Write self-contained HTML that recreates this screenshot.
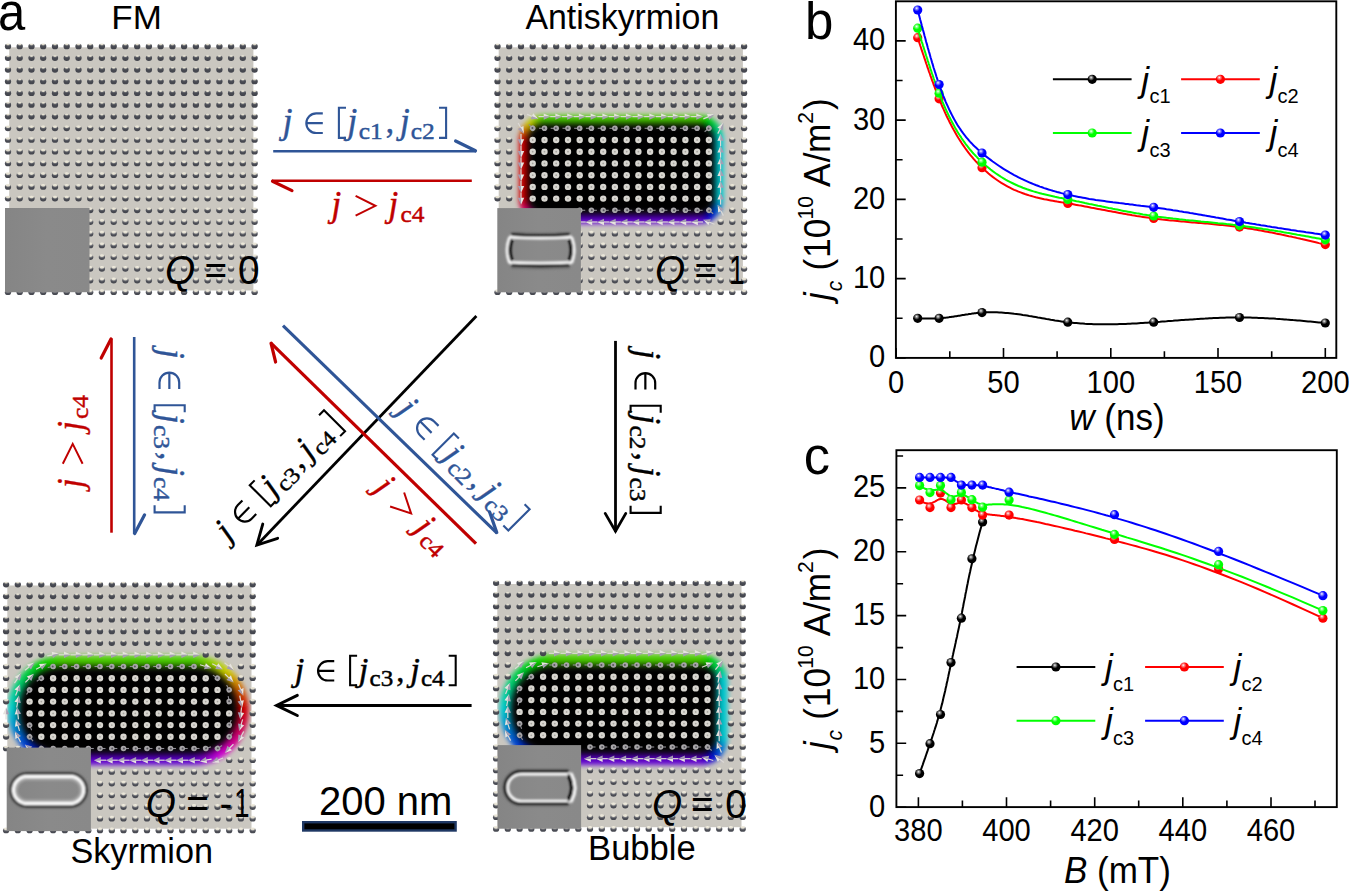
<!DOCTYPE html>
<html><head><meta charset="utf-8"><title>figure</title>
<style>html,body{margin:0;padding:0;background:#fff;overflow:hidden}svg{display:block}</style></head><body>
<svg width="1349" height="891" viewBox="0 0 1349 891">
<defs>
<radialGradient id="gk" cx="0.4" cy="0.35" r="0.6" fx="0.38" fy="0.3"><stop offset="0" stop-color="#f4f4f4"/><stop offset="0.22" stop-color="#8a8a8a"/><stop offset="0.55" stop-color="#000"/><stop offset="1" stop-color="#000"/></radialGradient>
<radialGradient id="gr" cx="0.4" cy="0.35" r="0.6" fx="0.38" fy="0.3"><stop offset="0" stop-color="#fff"/><stop offset="0.22" stop-color="#ff8a8a"/><stop offset="0.55" stop-color="#f00"/><stop offset="1" stop-color="#f00"/></radialGradient>
<radialGradient id="gg" cx="0.4" cy="0.35" r="0.6" fx="0.38" fy="0.3"><stop offset="0" stop-color="#fff"/><stop offset="0.22" stop-color="#8aff8a"/><stop offset="0.55" stop-color="#0f0"/><stop offset="1" stop-color="#0f0"/></radialGradient>
<radialGradient id="gb" cx="0.4" cy="0.35" r="0.6" fx="0.38" fy="0.3"><stop offset="0" stop-color="#fff"/><stop offset="0.22" stop-color="#8a8aff"/><stop offset="0.55" stop-color="#00f"/><stop offset="1" stop-color="#00f"/></radialGradient>

<filter id="blur3" x="-20%" y="-20%" width="140%" height="140%"><feGaussianBlur stdDeviation="2.4"/></filter>
<filter id="blur25" x="-20%" y="-20%" width="140%" height="140%"><feGaussianBlur stdDeviation="3.6"/></filter>
<filter id="blur1" x="-20%" y="-20%" width="140%" height="140%"><feGaussianBlur stdDeviation="0.8"/></filter>
<radialGradient id="lga" cx="0.5" cy="-0.05" r="1.05" fx="0.5" fy="-0.05"><stop offset="0" stop-color="#f0ecde"/><stop offset="0.24" stop-color="#e2decf"/><stop offset="0.42" stop-color="#5e6067"/><stop offset="0.58" stop-color="#484a52"/><stop offset="1" stop-color="#42444c"/></radialGradient>
<radialGradient id="lgb" cx="0.5" cy="0.0" r="1.0" fx="0.5" fy="0.0"><stop offset="0" stop-color="#f0ecde"/><stop offset="0.36" stop-color="#e2decf"/><stop offset="0.54" stop-color="#606269"/><stop offset="0.7" stop-color="#484a52"/><stop offset="1" stop-color="#43454d"/></radialGradient>
<radialGradient id="lgc" cx="0.5" cy="0.05" r="0.98" fx="0.5" fy="0.05"><stop offset="0" stop-color="#f2eee1"/><stop offset="0.34" stop-color="#e4e0d2"/><stop offset="0.52" stop-color="#74757b"/><stop offset="0.68" stop-color="#4c4e56"/><stop offset="1" stop-color="#45474f"/></radialGradient>
<ellipse id="da" rx="3.15" ry="2.85" fill="url(#lga)"/>
<ellipse id="db" rx="3.15" ry="2.85" fill="url(#lgb)"/>
<ellipse id="dc" rx="3.15" ry="2.9" fill="url(#lgc)"/>
<g id="di"><circle r="3.2" fill="#d8d6d0"/><circle r="0.9" fill="#a5a39e"/></g>
<g id="ar"><path d="M-6,0H0" stroke="#dcd9d6" stroke-width="1.2"/><path d="M-0.8,-3.2L6.2,0L-0.8,0Z" fill="#e6e3df"/><path d="M-0.8,3.2L6.2,0L-0.8,0Z" fill="#a59eb3"/></g>
<g id="ad"><path d="M-5.5,0H0" stroke="#8f8d94" stroke-width="1.1"/><circle r="2.8" fill="#a7a5a8"/><circle cx="-0.4" r="1" fill="#55545a"/></g>

<filter id="blur05" x="-10%" y="-10%" width="120%" height="120%"><feGaussianBlur stdDeviation="0.85"/></filter>
<linearGradient id="insg" x1="0" y1="0" x2="1" y2="0"><stop offset="0" stop-color="#858585"/><stop offset="0.5" stop-color="#8a8a8a"/><stop offset="1" stop-color="#898989"/></linearGradient>
</defs>
<rect width="1349" height="891" fill="#fff"/>
<rect x="9.2" y="47.3" width="244.2" height="243.2" fill="#cac7c0"/>
<use href="#da" x="8.0" y="46.4"/>
<use href="#da" x="19.7" y="46.4"/>
<use href="#da" x="31.5" y="46.4"/>
<use href="#da" x="43.2" y="46.4"/>
<use href="#da" x="55.0" y="46.4"/>
<use href="#da" x="66.7" y="46.4"/>
<use href="#da" x="78.5" y="46.4"/>
<use href="#da" x="90.2" y="46.4"/>
<use href="#da" x="101.9" y="46.4"/>
<use href="#da" x="113.7" y="46.4"/>
<use href="#da" x="125.4" y="46.4"/>
<use href="#da" x="137.2" y="46.4"/>
<use href="#da" x="148.9" y="46.4"/>
<use href="#da" x="160.6" y="46.4"/>
<use href="#da" x="172.4" y="46.4"/>
<use href="#da" x="184.1" y="46.4"/>
<use href="#da" x="195.9" y="46.4"/>
<use href="#da" x="207.6" y="46.4"/>
<use href="#da" x="219.4" y="46.4"/>
<use href="#da" x="231.1" y="46.4"/>
<use href="#da" x="242.8" y="46.4"/>
<use href="#da" x="254.6" y="46.4"/>
<use href="#da" x="8.0" y="58.1"/>
<use href="#da" x="19.7" y="58.1"/>
<use href="#da" x="31.5" y="58.1"/>
<use href="#da" x="43.2" y="58.1"/>
<use href="#da" x="55.0" y="58.1"/>
<use href="#da" x="66.7" y="58.1"/>
<use href="#da" x="78.5" y="58.1"/>
<use href="#da" x="90.2" y="58.1"/>
<use href="#da" x="101.9" y="58.1"/>
<use href="#da" x="113.7" y="58.1"/>
<use href="#da" x="125.4" y="58.1"/>
<use href="#da" x="137.2" y="58.1"/>
<use href="#da" x="148.9" y="58.1"/>
<use href="#da" x="160.6" y="58.1"/>
<use href="#da" x="172.4" y="58.1"/>
<use href="#da" x="184.1" y="58.1"/>
<use href="#da" x="195.9" y="58.1"/>
<use href="#da" x="207.6" y="58.1"/>
<use href="#da" x="219.4" y="58.1"/>
<use href="#da" x="231.1" y="58.1"/>
<use href="#da" x="242.8" y="58.1"/>
<use href="#da" x="254.6" y="58.1"/>
<use href="#da" x="8.0" y="69.8"/>
<use href="#da" x="19.7" y="69.8"/>
<use href="#da" x="31.5" y="69.8"/>
<use href="#da" x="43.2" y="69.8"/>
<use href="#da" x="55.0" y="69.8"/>
<use href="#da" x="66.7" y="69.8"/>
<use href="#da" x="78.5" y="69.8"/>
<use href="#da" x="90.2" y="69.8"/>
<use href="#da" x="101.9" y="69.8"/>
<use href="#da" x="113.7" y="69.8"/>
<use href="#da" x="125.4" y="69.8"/>
<use href="#da" x="137.2" y="69.8"/>
<use href="#da" x="148.9" y="69.8"/>
<use href="#da" x="160.6" y="69.8"/>
<use href="#da" x="172.4" y="69.8"/>
<use href="#da" x="184.1" y="69.8"/>
<use href="#da" x="195.9" y="69.8"/>
<use href="#da" x="207.6" y="69.8"/>
<use href="#da" x="219.4" y="69.8"/>
<use href="#da" x="231.1" y="69.8"/>
<use href="#da" x="242.8" y="69.8"/>
<use href="#da" x="254.6" y="69.8"/>
<use href="#da" x="8.0" y="81.5"/>
<use href="#da" x="19.7" y="81.5"/>
<use href="#da" x="31.5" y="81.5"/>
<use href="#da" x="43.2" y="81.5"/>
<use href="#da" x="55.0" y="81.5"/>
<use href="#da" x="66.7" y="81.5"/>
<use href="#da" x="78.5" y="81.5"/>
<use href="#da" x="90.2" y="81.5"/>
<use href="#da" x="101.9" y="81.5"/>
<use href="#da" x="113.7" y="81.5"/>
<use href="#da" x="125.4" y="81.5"/>
<use href="#da" x="137.2" y="81.5"/>
<use href="#da" x="148.9" y="81.5"/>
<use href="#da" x="160.6" y="81.5"/>
<use href="#da" x="172.4" y="81.5"/>
<use href="#da" x="184.1" y="81.5"/>
<use href="#da" x="195.9" y="81.5"/>
<use href="#da" x="207.6" y="81.5"/>
<use href="#da" x="219.4" y="81.5"/>
<use href="#da" x="231.1" y="81.5"/>
<use href="#da" x="242.8" y="81.5"/>
<use href="#da" x="254.6" y="81.5"/>
<use href="#da" x="8.0" y="93.2"/>
<use href="#da" x="19.7" y="93.2"/>
<use href="#da" x="31.5" y="93.2"/>
<use href="#da" x="43.2" y="93.2"/>
<use href="#da" x="55.0" y="93.2"/>
<use href="#da" x="66.7" y="93.2"/>
<use href="#da" x="78.5" y="93.2"/>
<use href="#da" x="90.2" y="93.2"/>
<use href="#da" x="101.9" y="93.2"/>
<use href="#da" x="113.7" y="93.2"/>
<use href="#da" x="125.4" y="93.2"/>
<use href="#da" x="137.2" y="93.2"/>
<use href="#da" x="148.9" y="93.2"/>
<use href="#da" x="160.6" y="93.2"/>
<use href="#da" x="172.4" y="93.2"/>
<use href="#da" x="184.1" y="93.2"/>
<use href="#da" x="195.9" y="93.2"/>
<use href="#da" x="207.6" y="93.2"/>
<use href="#da" x="219.4" y="93.2"/>
<use href="#da" x="231.1" y="93.2"/>
<use href="#da" x="242.8" y="93.2"/>
<use href="#da" x="254.6" y="93.2"/>
<use href="#da" x="8.0" y="104.9"/>
<use href="#da" x="19.7" y="104.9"/>
<use href="#da" x="31.5" y="104.9"/>
<use href="#da" x="43.2" y="104.9"/>
<use href="#da" x="55.0" y="104.9"/>
<use href="#da" x="66.7" y="104.9"/>
<use href="#da" x="78.5" y="104.9"/>
<use href="#da" x="90.2" y="104.9"/>
<use href="#da" x="101.9" y="104.9"/>
<use href="#da" x="113.7" y="104.9"/>
<use href="#da" x="125.4" y="104.9"/>
<use href="#da" x="137.2" y="104.9"/>
<use href="#da" x="148.9" y="104.9"/>
<use href="#da" x="160.6" y="104.9"/>
<use href="#da" x="172.4" y="104.9"/>
<use href="#da" x="184.1" y="104.9"/>
<use href="#da" x="195.9" y="104.9"/>
<use href="#da" x="207.6" y="104.9"/>
<use href="#da" x="219.4" y="104.9"/>
<use href="#da" x="231.1" y="104.9"/>
<use href="#da" x="242.8" y="104.9"/>
<use href="#da" x="254.6" y="104.9"/>
<use href="#da" x="8.0" y="116.6"/>
<use href="#da" x="19.7" y="116.6"/>
<use href="#da" x="31.5" y="116.6"/>
<use href="#da" x="43.2" y="116.6"/>
<use href="#da" x="55.0" y="116.6"/>
<use href="#da" x="66.7" y="116.6"/>
<use href="#da" x="78.5" y="116.6"/>
<use href="#da" x="90.2" y="116.6"/>
<use href="#da" x="101.9" y="116.6"/>
<use href="#da" x="113.7" y="116.6"/>
<use href="#da" x="125.4" y="116.6"/>
<use href="#da" x="137.2" y="116.6"/>
<use href="#da" x="148.9" y="116.6"/>
<use href="#da" x="160.6" y="116.6"/>
<use href="#da" x="172.4" y="116.6"/>
<use href="#da" x="184.1" y="116.6"/>
<use href="#da" x="195.9" y="116.6"/>
<use href="#da" x="207.6" y="116.6"/>
<use href="#da" x="219.4" y="116.6"/>
<use href="#da" x="231.1" y="116.6"/>
<use href="#da" x="242.8" y="116.6"/>
<use href="#da" x="254.6" y="116.6"/>
<use href="#db" x="8.0" y="128.3"/>
<use href="#db" x="19.7" y="128.3"/>
<use href="#db" x="31.5" y="128.3"/>
<use href="#db" x="43.2" y="128.3"/>
<use href="#db" x="55.0" y="128.3"/>
<use href="#db" x="66.7" y="128.3"/>
<use href="#db" x="78.5" y="128.3"/>
<use href="#db" x="90.2" y="128.3"/>
<use href="#db" x="101.9" y="128.3"/>
<use href="#db" x="113.7" y="128.3"/>
<use href="#db" x="125.4" y="128.3"/>
<use href="#db" x="137.2" y="128.3"/>
<use href="#db" x="148.9" y="128.3"/>
<use href="#db" x="160.6" y="128.3"/>
<use href="#db" x="172.4" y="128.3"/>
<use href="#db" x="184.1" y="128.3"/>
<use href="#db" x="195.9" y="128.3"/>
<use href="#db" x="207.6" y="128.3"/>
<use href="#db" x="219.4" y="128.3"/>
<use href="#db" x="231.1" y="128.3"/>
<use href="#db" x="242.8" y="128.3"/>
<use href="#db" x="254.6" y="128.3"/>
<use href="#db" x="8.0" y="140.0"/>
<use href="#db" x="19.7" y="140.0"/>
<use href="#db" x="31.5" y="140.0"/>
<use href="#db" x="43.2" y="140.0"/>
<use href="#db" x="55.0" y="140.0"/>
<use href="#db" x="66.7" y="140.0"/>
<use href="#db" x="78.5" y="140.0"/>
<use href="#db" x="90.2" y="140.0"/>
<use href="#db" x="101.9" y="140.0"/>
<use href="#db" x="113.7" y="140.0"/>
<use href="#db" x="125.4" y="140.0"/>
<use href="#db" x="137.2" y="140.0"/>
<use href="#db" x="148.9" y="140.0"/>
<use href="#db" x="160.6" y="140.0"/>
<use href="#db" x="172.4" y="140.0"/>
<use href="#db" x="184.1" y="140.0"/>
<use href="#db" x="195.9" y="140.0"/>
<use href="#db" x="207.6" y="140.0"/>
<use href="#db" x="219.4" y="140.0"/>
<use href="#db" x="231.1" y="140.0"/>
<use href="#db" x="242.8" y="140.0"/>
<use href="#db" x="254.6" y="140.0"/>
<use href="#db" x="8.0" y="151.7"/>
<use href="#db" x="19.7" y="151.7"/>
<use href="#db" x="31.5" y="151.7"/>
<use href="#db" x="43.2" y="151.7"/>
<use href="#db" x="55.0" y="151.7"/>
<use href="#db" x="66.7" y="151.7"/>
<use href="#db" x="78.5" y="151.7"/>
<use href="#db" x="90.2" y="151.7"/>
<use href="#db" x="101.9" y="151.7"/>
<use href="#db" x="113.7" y="151.7"/>
<use href="#db" x="125.4" y="151.7"/>
<use href="#db" x="137.2" y="151.7"/>
<use href="#db" x="148.9" y="151.7"/>
<use href="#db" x="160.6" y="151.7"/>
<use href="#db" x="172.4" y="151.7"/>
<use href="#db" x="184.1" y="151.7"/>
<use href="#db" x="195.9" y="151.7"/>
<use href="#db" x="207.6" y="151.7"/>
<use href="#db" x="219.4" y="151.7"/>
<use href="#db" x="231.1" y="151.7"/>
<use href="#db" x="242.8" y="151.7"/>
<use href="#db" x="254.6" y="151.7"/>
<use href="#db" x="8.0" y="163.4"/>
<use href="#db" x="19.7" y="163.4"/>
<use href="#db" x="31.5" y="163.4"/>
<use href="#db" x="43.2" y="163.4"/>
<use href="#db" x="55.0" y="163.4"/>
<use href="#db" x="66.7" y="163.4"/>
<use href="#db" x="78.5" y="163.4"/>
<use href="#db" x="90.2" y="163.4"/>
<use href="#db" x="101.9" y="163.4"/>
<use href="#db" x="113.7" y="163.4"/>
<use href="#db" x="125.4" y="163.4"/>
<use href="#db" x="137.2" y="163.4"/>
<use href="#db" x="148.9" y="163.4"/>
<use href="#db" x="160.6" y="163.4"/>
<use href="#db" x="172.4" y="163.4"/>
<use href="#db" x="184.1" y="163.4"/>
<use href="#db" x="195.9" y="163.4"/>
<use href="#db" x="207.6" y="163.4"/>
<use href="#db" x="219.4" y="163.4"/>
<use href="#db" x="231.1" y="163.4"/>
<use href="#db" x="242.8" y="163.4"/>
<use href="#db" x="254.6" y="163.4"/>
<use href="#db" x="8.0" y="175.2"/>
<use href="#db" x="19.7" y="175.2"/>
<use href="#db" x="31.5" y="175.2"/>
<use href="#db" x="43.2" y="175.2"/>
<use href="#db" x="55.0" y="175.2"/>
<use href="#db" x="66.7" y="175.2"/>
<use href="#db" x="78.5" y="175.2"/>
<use href="#db" x="90.2" y="175.2"/>
<use href="#db" x="101.9" y="175.2"/>
<use href="#db" x="113.7" y="175.2"/>
<use href="#db" x="125.4" y="175.2"/>
<use href="#db" x="137.2" y="175.2"/>
<use href="#db" x="148.9" y="175.2"/>
<use href="#db" x="160.6" y="175.2"/>
<use href="#db" x="172.4" y="175.2"/>
<use href="#db" x="184.1" y="175.2"/>
<use href="#db" x="195.9" y="175.2"/>
<use href="#db" x="207.6" y="175.2"/>
<use href="#db" x="219.4" y="175.2"/>
<use href="#db" x="231.1" y="175.2"/>
<use href="#db" x="242.8" y="175.2"/>
<use href="#db" x="254.6" y="175.2"/>
<use href="#db" x="8.0" y="186.9"/>
<use href="#db" x="19.7" y="186.9"/>
<use href="#db" x="31.5" y="186.9"/>
<use href="#db" x="43.2" y="186.9"/>
<use href="#db" x="55.0" y="186.9"/>
<use href="#db" x="66.7" y="186.9"/>
<use href="#db" x="78.5" y="186.9"/>
<use href="#db" x="90.2" y="186.9"/>
<use href="#db" x="101.9" y="186.9"/>
<use href="#db" x="113.7" y="186.9"/>
<use href="#db" x="125.4" y="186.9"/>
<use href="#db" x="137.2" y="186.9"/>
<use href="#db" x="148.9" y="186.9"/>
<use href="#db" x="160.6" y="186.9"/>
<use href="#db" x="172.4" y="186.9"/>
<use href="#db" x="184.1" y="186.9"/>
<use href="#db" x="195.9" y="186.9"/>
<use href="#db" x="207.6" y="186.9"/>
<use href="#db" x="219.4" y="186.9"/>
<use href="#db" x="231.1" y="186.9"/>
<use href="#db" x="242.8" y="186.9"/>
<use href="#db" x="254.6" y="186.9"/>
<use href="#db" x="8.0" y="198.6"/>
<use href="#db" x="19.7" y="198.6"/>
<use href="#db" x="31.5" y="198.6"/>
<use href="#db" x="43.2" y="198.6"/>
<use href="#db" x="55.0" y="198.6"/>
<use href="#db" x="66.7" y="198.6"/>
<use href="#db" x="78.5" y="198.6"/>
<use href="#db" x="90.2" y="198.6"/>
<use href="#db" x="101.9" y="198.6"/>
<use href="#db" x="113.7" y="198.6"/>
<use href="#db" x="125.4" y="198.6"/>
<use href="#db" x="137.2" y="198.6"/>
<use href="#db" x="148.9" y="198.6"/>
<use href="#db" x="160.6" y="198.6"/>
<use href="#db" x="172.4" y="198.6"/>
<use href="#db" x="184.1" y="198.6"/>
<use href="#db" x="195.9" y="198.6"/>
<use href="#db" x="207.6" y="198.6"/>
<use href="#db" x="219.4" y="198.6"/>
<use href="#db" x="231.1" y="198.6"/>
<use href="#db" x="242.8" y="198.6"/>
<use href="#db" x="254.6" y="198.6"/>
<use href="#db" x="90.2" y="210.3"/>
<use href="#db" x="101.9" y="210.3"/>
<use href="#db" x="113.7" y="210.3"/>
<use href="#db" x="125.4" y="210.3"/>
<use href="#db" x="137.2" y="210.3"/>
<use href="#db" x="148.9" y="210.3"/>
<use href="#db" x="160.6" y="210.3"/>
<use href="#db" x="172.4" y="210.3"/>
<use href="#db" x="184.1" y="210.3"/>
<use href="#db" x="195.9" y="210.3"/>
<use href="#db" x="207.6" y="210.3"/>
<use href="#db" x="219.4" y="210.3"/>
<use href="#db" x="231.1" y="210.3"/>
<use href="#db" x="242.8" y="210.3"/>
<use href="#db" x="254.6" y="210.3"/>
<use href="#dc" x="90.2" y="222.0"/>
<use href="#dc" x="101.9" y="222.0"/>
<use href="#dc" x="113.7" y="222.0"/>
<use href="#dc" x="125.4" y="222.0"/>
<use href="#dc" x="137.2" y="222.0"/>
<use href="#dc" x="148.9" y="222.0"/>
<use href="#dc" x="160.6" y="222.0"/>
<use href="#dc" x="172.4" y="222.0"/>
<use href="#dc" x="184.1" y="222.0"/>
<use href="#dc" x="195.9" y="222.0"/>
<use href="#dc" x="207.6" y="222.0"/>
<use href="#dc" x="219.4" y="222.0"/>
<use href="#dc" x="231.1" y="222.0"/>
<use href="#dc" x="242.8" y="222.0"/>
<use href="#dc" x="254.6" y="222.0"/>
<use href="#dc" x="90.2" y="233.7"/>
<use href="#dc" x="101.9" y="233.7"/>
<use href="#dc" x="113.7" y="233.7"/>
<use href="#dc" x="125.4" y="233.7"/>
<use href="#dc" x="137.2" y="233.7"/>
<use href="#dc" x="148.9" y="233.7"/>
<use href="#dc" x="160.6" y="233.7"/>
<use href="#dc" x="172.4" y="233.7"/>
<use href="#dc" x="184.1" y="233.7"/>
<use href="#dc" x="195.9" y="233.7"/>
<use href="#dc" x="207.6" y="233.7"/>
<use href="#dc" x="219.4" y="233.7"/>
<use href="#dc" x="231.1" y="233.7"/>
<use href="#dc" x="242.8" y="233.7"/>
<use href="#dc" x="254.6" y="233.7"/>
<use href="#dc" x="90.2" y="245.4"/>
<use href="#dc" x="101.9" y="245.4"/>
<use href="#dc" x="113.7" y="245.4"/>
<use href="#dc" x="125.4" y="245.4"/>
<use href="#dc" x="137.2" y="245.4"/>
<use href="#dc" x="148.9" y="245.4"/>
<use href="#dc" x="160.6" y="245.4"/>
<use href="#dc" x="172.4" y="245.4"/>
<use href="#dc" x="184.1" y="245.4"/>
<use href="#dc" x="195.9" y="245.4"/>
<use href="#dc" x="207.6" y="245.4"/>
<use href="#dc" x="219.4" y="245.4"/>
<use href="#dc" x="231.1" y="245.4"/>
<use href="#dc" x="242.8" y="245.4"/>
<use href="#dc" x="254.6" y="245.4"/>
<use href="#dc" x="90.2" y="257.1"/>
<use href="#dc" x="101.9" y="257.1"/>
<use href="#dc" x="113.7" y="257.1"/>
<use href="#dc" x="125.4" y="257.1"/>
<use href="#dc" x="137.2" y="257.1"/>
<use href="#dc" x="148.9" y="257.1"/>
<use href="#dc" x="160.6" y="257.1"/>
<use href="#dc" x="172.4" y="257.1"/>
<use href="#dc" x="184.1" y="257.1"/>
<use href="#dc" x="195.9" y="257.1"/>
<use href="#dc" x="207.6" y="257.1"/>
<use href="#dc" x="219.4" y="257.1"/>
<use href="#dc" x="231.1" y="257.1"/>
<use href="#dc" x="242.8" y="257.1"/>
<use href="#dc" x="254.6" y="257.1"/>
<use href="#dc" x="90.2" y="268.8"/>
<use href="#dc" x="101.9" y="268.8"/>
<use href="#dc" x="113.7" y="268.8"/>
<use href="#dc" x="125.4" y="268.8"/>
<use href="#dc" x="137.2" y="268.8"/>
<use href="#dc" x="148.9" y="268.8"/>
<use href="#dc" x="160.6" y="268.8"/>
<use href="#dc" x="172.4" y="268.8"/>
<use href="#dc" x="184.1" y="268.8"/>
<use href="#dc" x="195.9" y="268.8"/>
<use href="#dc" x="207.6" y="268.8"/>
<use href="#dc" x="219.4" y="268.8"/>
<use href="#dc" x="231.1" y="268.8"/>
<use href="#dc" x="242.8" y="268.8"/>
<use href="#dc" x="254.6" y="268.8"/>
<use href="#dc" x="90.2" y="280.5"/>
<use href="#dc" x="101.9" y="280.5"/>
<use href="#dc" x="113.7" y="280.5"/>
<use href="#dc" x="125.4" y="280.5"/>
<use href="#dc" x="137.2" y="280.5"/>
<use href="#dc" x="148.9" y="280.5"/>
<use href="#dc" x="160.6" y="280.5"/>
<use href="#dc" x="172.4" y="280.5"/>
<use href="#dc" x="184.1" y="280.5"/>
<use href="#dc" x="195.9" y="280.5"/>
<use href="#dc" x="207.6" y="280.5"/>
<use href="#dc" x="219.4" y="280.5"/>
<use href="#dc" x="231.1" y="280.5"/>
<use href="#dc" x="242.8" y="280.5"/>
<use href="#dc" x="254.6" y="280.5"/>
<use href="#dc" x="8.0" y="292.2"/>
<use href="#dc" x="19.7" y="292.2"/>
<use href="#dc" x="31.5" y="292.2"/>
<use href="#dc" x="43.2" y="292.2"/>
<use href="#dc" x="55.0" y="292.2"/>
<use href="#dc" x="66.7" y="292.2"/>
<use href="#dc" x="78.5" y="292.2"/>
<use href="#dc" x="90.2" y="292.2"/>
<use href="#dc" x="101.9" y="292.2"/>
<use href="#dc" x="113.7" y="292.2"/>
<use href="#dc" x="125.4" y="292.2"/>
<use href="#dc" x="137.2" y="292.2"/>
<use href="#dc" x="148.9" y="292.2"/>
<use href="#dc" x="160.6" y="292.2"/>
<use href="#dc" x="172.4" y="292.2"/>
<use href="#dc" x="184.1" y="292.2"/>
<use href="#dc" x="195.9" y="292.2"/>
<use href="#dc" x="207.6" y="292.2"/>
<use href="#dc" x="219.4" y="292.2"/>
<use href="#dc" x="231.1" y="292.2"/>
<use href="#dc" x="242.8" y="292.2"/>
<use href="#dc" x="254.6" y="292.2"/>
<rect x="498.7" y="47.3" width="244.2" height="243.2" fill="#cac7c0"/>
<clipPath id="cpan"><rect x="498.7" y="47.3" width="244.2" height="243.2"/></clipPath>
<g clip-path="url(#cpan)">
<g filter="url(#blur3)" stroke-width="13.5" stroke-linecap="butt" fill="none" opacity="1">
<path d="M525.7,140.1L525.9,137.2" stroke="#d10500"/>
<path d="M525.7,138.4L526.2,135.4" stroke="#d11e00"/>
<path d="M525.9,136.6L526.7,133.8" stroke="#d13700"/>
<path d="M526.3,134.9L527.3,132.1" stroke="#d14f00"/>
<path d="M526.8,133.2L528.1,130.6" stroke="#d16800"/>
<path d="M527.5,131.6L529.0,129.1" stroke="#d18100"/>
<path d="M528.4,130.1L530.1,127.8" stroke="#d19a00"/>
<path d="M529.4,128.7L531.4,126.5" stroke="#d1b300"/>
<path d="M530.5,127.4L532.7,125.4" stroke="#d1c900"/>
<path d="M531.8,126.1L534.1,124.4" stroke="#c6d100"/>
<path d="M533.1,125.0L535.6,123.5" stroke="#b3d100"/>
<path d="M534.6,124.1L537.2,122.8" stroke="#a0d100"/>
<path d="M536.1,123.3L538.9,122.3" stroke="#8ed100"/>
<path d="M537.8,122.7L540.6,121.9" stroke="#7bd100"/>
<path d="M539.4,122.2L542.4,121.7" stroke="#68d100"/>
<path d="M541.2,121.9L544.1,121.7" stroke="#56d100"/>
<path d="M542.9,121.8L547.1,121.8" stroke="#4cd100"/>
<path d="M545.9,121.8L550.2,121.8" stroke="#4cd100"/>
<path d="M549.0,121.8L553.2,121.8" stroke="#4cd100"/>
<path d="M552.0,121.8L556.3,121.8" stroke="#4cd100"/>
<path d="M555.1,121.8L559.3,121.8" stroke="#4cd100"/>
<path d="M558.1,121.8L562.4,121.8" stroke="#4cd100"/>
<path d="M561.2,121.8L565.4,121.8" stroke="#4cd100"/>
<path d="M564.2,121.8L568.5,121.8" stroke="#4cd100"/>
<path d="M567.3,121.8L571.5,121.8" stroke="#4cd100"/>
<path d="M570.3,121.8L574.6,121.8" stroke="#4cd100"/>
<path d="M573.4,121.8L577.6,121.8" stroke="#4cd100"/>
<path d="M576.4,121.8L580.7,121.8" stroke="#4cd100"/>
<path d="M579.5,121.8L583.7,121.8" stroke="#4cd100"/>
<path d="M582.5,121.8L586.8,121.8" stroke="#4cd100"/>
<path d="M585.6,121.8L589.8,121.8" stroke="#4cd100"/>
<path d="M588.6,121.8L592.9,121.8" stroke="#4cd100"/>
<path d="M591.7,121.8L595.9,121.8" stroke="#4cd100"/>
<path d="M594.7,121.8L599.0,121.8" stroke="#4cd100"/>
<path d="M597.8,121.8L602.0,121.8" stroke="#4cd100"/>
<path d="M600.8,121.8L605.1,121.8" stroke="#4cd100"/>
<path d="M603.9,121.8L608.1,121.8" stroke="#4cd100"/>
<path d="M606.9,121.8L611.2,121.8" stroke="#4cd100"/>
<path d="M610.0,121.8L614.2,121.8" stroke="#4cd100"/>
<path d="M613.0,121.8L617.3,121.8" stroke="#4cd100"/>
<path d="M616.1,121.8L620.3,121.8" stroke="#4cd100"/>
<path d="M619.1,121.8L623.4,121.8" stroke="#4cd100"/>
<path d="M622.2,121.8L626.4,121.8" stroke="#4cd100"/>
<path d="M625.2,121.8L629.5,121.8" stroke="#4cd100"/>
<path d="M628.3,121.8L632.5,121.8" stroke="#4cd100"/>
<path d="M631.3,121.8L635.6,121.8" stroke="#4cd100"/>
<path d="M634.4,121.8L638.6,121.8" stroke="#4cd100"/>
<path d="M637.4,121.8L641.7,121.8" stroke="#4cd100"/>
<path d="M640.5,121.8L644.7,121.8" stroke="#4cd100"/>
<path d="M643.5,121.8L647.8,121.8" stroke="#4cd100"/>
<path d="M646.6,121.8L650.8,121.8" stroke="#4cd100"/>
<path d="M649.6,121.8L653.9,121.8" stroke="#4cd100"/>
<path d="M652.7,121.8L656.9,121.8" stroke="#4cd100"/>
<path d="M655.7,121.8L660.0,121.8" stroke="#4cd100"/>
<path d="M658.8,121.8L663.0,121.8" stroke="#4cd100"/>
<path d="M661.8,121.8L666.1,121.8" stroke="#4cd100"/>
<path d="M664.9,121.8L669.1,121.8" stroke="#4cd100"/>
<path d="M667.9,121.8L672.2,121.8" stroke="#4cd100"/>
<path d="M671.0,121.8L675.2,121.8" stroke="#4cd100"/>
<path d="M674.0,121.8L678.3,121.8" stroke="#4cd100"/>
<path d="M677.1,121.8L681.3,121.8" stroke="#4cd100"/>
<path d="M680.1,121.8L684.4,121.8" stroke="#4cd100"/>
<path d="M683.2,121.8L687.4,121.8" stroke="#4cd100"/>
<path d="M686.2,121.8L690.5,121.8" stroke="#4cd100"/>
<path d="M689.3,121.8L693.5,121.8" stroke="#4cd100"/>
<path d="M692.3,121.8L696.6,121.8" stroke="#4cd100"/>
<path d="M695.4,121.8L699.6,121.8" stroke="#4cd100"/>
<path d="M698.4,121.7L701.3,121.9" stroke="#43d100"/>
<path d="M700.1,121.7L703.1,122.2" stroke="#31d100"/>
<path d="M701.9,121.9L704.7,122.7" stroke="#1ed100"/>
<path d="M703.6,122.3L706.4,123.3" stroke="#0cd100"/>
<path d="M705.3,122.8L707.9,124.1" stroke="#00d105"/>
<path d="M706.9,123.5L709.4,125.0" stroke="#00d117"/>
<path d="M708.4,124.4L710.7,126.1" stroke="#00d12a"/>
<path d="M709.8,125.4L712.0,127.4" stroke="#00d13c"/>
<path d="M711.1,126.5L713.1,128.7" stroke="#00d14e"/>
<path d="M712.4,127.8L714.1,130.1" stroke="#00d161"/>
<path d="M713.5,129.1L715.0,131.6" stroke="#00d173"/>
<path d="M714.4,130.6L715.7,133.2" stroke="#00d185"/>
<path d="M715.2,132.1L716.2,134.9" stroke="#00d198"/>
<path d="M715.8,133.8L716.6,136.6" stroke="#00d1aa"/>
<path d="M716.3,135.4L716.8,138.4" stroke="#00d1bc"/>
<path d="M716.6,137.2L716.8,140.1" stroke="#00d1ce"/>
<path d="M716.8,138.9L716.8,143.2" stroke="#00cad1"/>
<path d="M716.8,142.0L716.8,146.4" stroke="#00cad1"/>
<path d="M716.8,145.2L716.8,149.5" stroke="#00cad1"/>
<path d="M716.8,148.3L716.8,152.6" stroke="#00cad1"/>
<path d="M716.8,151.4L716.8,155.8" stroke="#00cad1"/>
<path d="M716.8,154.6L716.8,158.9" stroke="#00cad1"/>
<path d="M716.8,157.7L716.8,162.0" stroke="#00cad1"/>
<path d="M716.8,160.8L716.8,165.2" stroke="#00cad1"/>
<path d="M716.8,164.0L716.8,168.3" stroke="#00cad1"/>
<path d="M716.8,167.1L716.8,171.4" stroke="#00cad1"/>
<path d="M716.8,170.2L716.8,174.5" stroke="#00cad1"/>
<path d="M716.8,173.3L716.8,177.7" stroke="#00cad1"/>
<path d="M716.8,176.5L716.8,180.8" stroke="#00cad1"/>
<path d="M716.8,179.6L716.8,183.9" stroke="#00cad1"/>
<path d="M716.8,182.7L716.8,187.1" stroke="#00cad1"/>
<path d="M716.8,185.9L716.8,190.2" stroke="#00cad1"/>
<path d="M716.8,189.0L716.8,193.3" stroke="#00cad1"/>
<path d="M716.8,192.1L716.8,196.5" stroke="#00cad1"/>
<path d="M716.8,195.3L716.8,199.6" stroke="#00cad1"/>
<path d="M716.8,198.4L716.6,201.3" stroke="#00c0d1"/>
<path d="M716.8,200.1L716.3,203.1" stroke="#00aed1"/>
<path d="M716.6,201.9L715.8,204.7" stroke="#009bd1"/>
<path d="M716.2,203.6L715.2,206.4" stroke="#0088d1"/>
<path d="M715.7,205.3L714.4,207.9" stroke="#0075d1"/>
<path d="M715.0,206.9L713.5,209.4" stroke="#0063d1"/>
<path d="M714.1,208.4L712.4,210.7" stroke="#0050d1"/>
<path d="M713.1,209.8L711.1,212.0" stroke="#003dd1"/>
<path d="M712.0,211.1L709.8,213.1" stroke="#002ad1"/>
<path d="M710.7,212.4L708.4,214.1" stroke="#0018d1"/>
<path d="M709.4,213.5L706.9,215.0" stroke="#0005d1"/>
<path d="M707.9,214.4L705.3,215.7" stroke="#0d00d1"/>
<path d="M706.4,215.2L703.6,216.2" stroke="#2000d1"/>
<path d="M704.7,215.8L701.9,216.6" stroke="#3200d1"/>
<path d="M703.1,216.3L700.1,216.8" stroke="#4500d1"/>
<path d="M701.3,216.6L698.4,216.8" stroke="#5800d1"/>
<path d="M699.6,216.8L695.4,216.8" stroke="#6100d1"/>
<path d="M696.6,216.8L692.3,216.8" stroke="#6100d1"/>
<path d="M693.5,216.8L689.3,216.8" stroke="#6100d1"/>
<path d="M690.5,216.8L686.2,216.8" stroke="#6100d1"/>
<path d="M687.4,216.8L683.2,216.8" stroke="#6100d1"/>
<path d="M684.4,216.8L680.1,216.8" stroke="#6100d1"/>
<path d="M681.3,216.8L677.1,216.8" stroke="#6100d1"/>
<path d="M678.3,216.8L674.0,216.8" stroke="#6100d1"/>
<path d="M675.2,216.8L671.0,216.8" stroke="#6100d1"/>
<path d="M672.2,216.8L667.9,216.8" stroke="#6100d1"/>
<path d="M669.1,216.8L664.9,216.8" stroke="#6100d1"/>
<path d="M666.1,216.8L661.8,216.8" stroke="#6100d1"/>
<path d="M663.0,216.8L658.8,216.8" stroke="#6100d1"/>
<path d="M660.0,216.8L655.7,216.8" stroke="#6100d1"/>
<path d="M656.9,216.8L652.7,216.8" stroke="#6100d1"/>
<path d="M653.9,216.8L649.6,216.8" stroke="#6100d1"/>
<path d="M650.8,216.8L646.6,216.8" stroke="#6100d1"/>
<path d="M647.8,216.8L643.5,216.8" stroke="#6100d1"/>
<path d="M644.7,216.8L640.5,216.8" stroke="#6100d1"/>
<path d="M641.7,216.8L637.4,216.8" stroke="#6100d1"/>
<path d="M638.6,216.8L634.4,216.8" stroke="#6100d1"/>
<path d="M635.6,216.8L631.3,216.8" stroke="#6100d1"/>
<path d="M632.5,216.8L628.3,216.8" stroke="#6100d1"/>
<path d="M629.5,216.8L625.2,216.8" stroke="#6100d1"/>
<path d="M626.4,216.8L622.2,216.8" stroke="#6100d1"/>
<path d="M623.4,216.8L619.1,216.8" stroke="#6100d1"/>
<path d="M620.3,216.8L616.1,216.8" stroke="#6100d1"/>
<path d="M617.3,216.8L613.0,216.8" stroke="#6100d1"/>
<path d="M614.2,216.8L610.0,216.8" stroke="#6100d1"/>
<path d="M611.2,216.8L606.9,216.8" stroke="#6100d1"/>
<path d="M608.1,216.8L603.9,216.8" stroke="#6100d1"/>
<path d="M605.1,216.8L600.8,216.8" stroke="#6100d1"/>
<path d="M602.0,216.8L597.8,216.8" stroke="#6100d1"/>
<path d="M599.0,216.8L594.7,216.8" stroke="#6100d1"/>
<path d="M595.9,216.8L591.7,216.8" stroke="#6100d1"/>
<path d="M592.9,216.8L588.6,216.8" stroke="#6100d1"/>
<path d="M589.8,216.8L585.6,216.8" stroke="#6100d1"/>
<path d="M586.8,216.8L582.5,216.8" stroke="#6100d1"/>
<path d="M583.7,216.8L579.5,216.8" stroke="#6100d1"/>
<path d="M580.7,216.8L576.4,216.8" stroke="#6100d1"/>
<path d="M577.6,216.8L573.4,216.8" stroke="#6100d1"/>
<path d="M574.6,216.8L570.3,216.8" stroke="#6100d1"/>
<path d="M571.5,216.8L567.3,216.8" stroke="#6100d1"/>
<path d="M568.5,216.8L564.2,216.8" stroke="#6100d1"/>
<path d="M565.4,216.8L561.2,216.8" stroke="#6100d1"/>
<path d="M562.4,216.8L558.1,216.8" stroke="#6100d1"/>
<path d="M559.3,216.8L555.1,216.8" stroke="#6100d1"/>
<path d="M556.3,216.8L552.0,216.8" stroke="#6100d1"/>
<path d="M553.2,216.8L549.0,216.8" stroke="#6100d1"/>
<path d="M550.2,216.8L545.9,216.8" stroke="#6100d1"/>
<path d="M547.1,216.8L542.9,216.8" stroke="#6100d1"/>
<path d="M544.1,216.8L541.2,216.6" stroke="#6b00d1"/>
<path d="M542.4,216.8L539.4,216.3" stroke="#7e00d1"/>
<path d="M540.6,216.6L537.8,215.8" stroke="#9100d1"/>
<path d="M538.9,216.2L536.1,215.2" stroke="#a400d1"/>
<path d="M537.2,215.7L534.6,214.4" stroke="#b700d1"/>
<path d="M535.6,215.0L533.1,213.5" stroke="#cb00d1"/>
<path d="M534.1,214.1L531.8,212.4" stroke="#d100c4"/>
<path d="M532.7,213.1L530.5,211.1" stroke="#d100b0"/>
<path d="M531.4,212.0L529.4,209.8" stroke="#d1009d"/>
<path d="M530.1,210.7L528.4,208.4" stroke="#d10089"/>
<path d="M529.0,209.4L527.5,206.9" stroke="#d10075"/>
<path d="M528.1,207.9L526.8,205.3" stroke="#d10061"/>
<path d="M527.3,206.4L526.3,203.6" stroke="#d1004d"/>
<path d="M526.7,204.7L525.9,201.9" stroke="#d10039"/>
<path d="M526.2,203.1L525.7,200.1" stroke="#d10025"/>
<path d="M525.9,201.3L525.7,198.4" stroke="#d10010"/>
<path d="M525.8,199.6L525.8,195.3" stroke="#d10006"/>
<path d="M525.8,196.5L525.8,192.1" stroke="#d10006"/>
<path d="M525.8,193.3L525.8,189.0" stroke="#d10006"/>
<path d="M525.8,190.2L525.8,185.9" stroke="#d10006"/>
<path d="M525.8,187.1L525.8,182.7" stroke="#d10006"/>
<path d="M525.8,183.9L525.8,179.6" stroke="#d10006"/>
<path d="M525.8,180.8L525.8,176.5" stroke="#d10006"/>
<path d="M525.8,177.7L525.8,173.3" stroke="#d10006"/>
<path d="M525.8,174.5L525.8,170.2" stroke="#d10006"/>
<path d="M525.8,171.4L525.8,167.1" stroke="#d10006"/>
<path d="M525.8,168.3L525.8,164.0" stroke="#d10006"/>
<path d="M525.8,165.2L525.8,160.8" stroke="#d10006"/>
<path d="M525.8,162.0L525.8,157.7" stroke="#d10006"/>
<path d="M525.8,158.9L525.8,154.6" stroke="#d10006"/>
<path d="M525.8,155.8L525.8,151.4" stroke="#d10006"/>
<path d="M525.8,152.6L525.8,148.3" stroke="#d10006"/>
<path d="M525.8,149.5L525.8,145.2" stroke="#d10006"/>
<path d="M525.8,146.4L525.8,142.0" stroke="#d10006"/>
<path d="M525.8,143.2L525.8,138.9" stroke="#d10006"/>
</g>
<path d="M543.5,123.0H699.0A16.5,16.5 0 0 1 715.5,139.5V199.0A16.5,16.5 0 0 1 699.0,215.5H543.5A16.5,16.5 0 0 1 527.0,199.0V139.5A16.5,16.5 0 0 1 543.5,123.0Z" fill="#000" filter="url(#blur25)"/>
</g>
<use href="#da" x="497.5" y="46.4"/>
<use href="#da" x="509.2" y="46.4"/>
<use href="#da" x="521.0" y="46.4"/>
<use href="#da" x="532.7" y="46.4"/>
<use href="#da" x="544.5" y="46.4"/>
<use href="#da" x="556.2" y="46.4"/>
<use href="#da" x="568.0" y="46.4"/>
<use href="#da" x="579.7" y="46.4"/>
<use href="#da" x="591.4" y="46.4"/>
<use href="#da" x="603.2" y="46.4"/>
<use href="#da" x="614.9" y="46.4"/>
<use href="#da" x="626.7" y="46.4"/>
<use href="#da" x="638.4" y="46.4"/>
<use href="#da" x="650.1" y="46.4"/>
<use href="#da" x="661.9" y="46.4"/>
<use href="#da" x="673.6" y="46.4"/>
<use href="#da" x="685.4" y="46.4"/>
<use href="#da" x="697.1" y="46.4"/>
<use href="#da" x="708.9" y="46.4"/>
<use href="#da" x="720.6" y="46.4"/>
<use href="#da" x="732.3" y="46.4"/>
<use href="#da" x="744.1" y="46.4"/>
<use href="#da" x="497.5" y="58.1"/>
<use href="#da" x="509.2" y="58.1"/>
<use href="#da" x="521.0" y="58.1"/>
<use href="#da" x="532.7" y="58.1"/>
<use href="#da" x="544.5" y="58.1"/>
<use href="#da" x="556.2" y="58.1"/>
<use href="#da" x="568.0" y="58.1"/>
<use href="#da" x="579.7" y="58.1"/>
<use href="#da" x="591.4" y="58.1"/>
<use href="#da" x="603.2" y="58.1"/>
<use href="#da" x="614.9" y="58.1"/>
<use href="#da" x="626.7" y="58.1"/>
<use href="#da" x="638.4" y="58.1"/>
<use href="#da" x="650.1" y="58.1"/>
<use href="#da" x="661.9" y="58.1"/>
<use href="#da" x="673.6" y="58.1"/>
<use href="#da" x="685.4" y="58.1"/>
<use href="#da" x="697.1" y="58.1"/>
<use href="#da" x="708.9" y="58.1"/>
<use href="#da" x="720.6" y="58.1"/>
<use href="#da" x="732.3" y="58.1"/>
<use href="#da" x="744.1" y="58.1"/>
<use href="#da" x="497.5" y="69.8"/>
<use href="#da" x="509.2" y="69.8"/>
<use href="#da" x="521.0" y="69.8"/>
<use href="#da" x="532.7" y="69.8"/>
<use href="#da" x="544.5" y="69.8"/>
<use href="#da" x="556.2" y="69.8"/>
<use href="#da" x="568.0" y="69.8"/>
<use href="#da" x="579.7" y="69.8"/>
<use href="#da" x="591.4" y="69.8"/>
<use href="#da" x="603.2" y="69.8"/>
<use href="#da" x="614.9" y="69.8"/>
<use href="#da" x="626.7" y="69.8"/>
<use href="#da" x="638.4" y="69.8"/>
<use href="#da" x="650.1" y="69.8"/>
<use href="#da" x="661.9" y="69.8"/>
<use href="#da" x="673.6" y="69.8"/>
<use href="#da" x="685.4" y="69.8"/>
<use href="#da" x="697.1" y="69.8"/>
<use href="#da" x="708.9" y="69.8"/>
<use href="#da" x="720.6" y="69.8"/>
<use href="#da" x="732.3" y="69.8"/>
<use href="#da" x="744.1" y="69.8"/>
<use href="#da" x="497.5" y="81.5"/>
<use href="#da" x="509.2" y="81.5"/>
<use href="#da" x="521.0" y="81.5"/>
<use href="#da" x="532.7" y="81.5"/>
<use href="#da" x="544.5" y="81.5"/>
<use href="#da" x="556.2" y="81.5"/>
<use href="#da" x="568.0" y="81.5"/>
<use href="#da" x="579.7" y="81.5"/>
<use href="#da" x="591.4" y="81.5"/>
<use href="#da" x="603.2" y="81.5"/>
<use href="#da" x="614.9" y="81.5"/>
<use href="#da" x="626.7" y="81.5"/>
<use href="#da" x="638.4" y="81.5"/>
<use href="#da" x="650.1" y="81.5"/>
<use href="#da" x="661.9" y="81.5"/>
<use href="#da" x="673.6" y="81.5"/>
<use href="#da" x="685.4" y="81.5"/>
<use href="#da" x="697.1" y="81.5"/>
<use href="#da" x="708.9" y="81.5"/>
<use href="#da" x="720.6" y="81.5"/>
<use href="#da" x="732.3" y="81.5"/>
<use href="#da" x="744.1" y="81.5"/>
<use href="#da" x="497.5" y="93.2"/>
<use href="#da" x="509.2" y="93.2"/>
<use href="#da" x="521.0" y="93.2"/>
<use href="#da" x="532.7" y="93.2"/>
<use href="#da" x="544.5" y="93.2"/>
<use href="#da" x="556.2" y="93.2"/>
<use href="#da" x="568.0" y="93.2"/>
<use href="#da" x="579.7" y="93.2"/>
<use href="#da" x="591.4" y="93.2"/>
<use href="#da" x="603.2" y="93.2"/>
<use href="#da" x="614.9" y="93.2"/>
<use href="#da" x="626.7" y="93.2"/>
<use href="#da" x="638.4" y="93.2"/>
<use href="#da" x="650.1" y="93.2"/>
<use href="#da" x="661.9" y="93.2"/>
<use href="#da" x="673.6" y="93.2"/>
<use href="#da" x="685.4" y="93.2"/>
<use href="#da" x="697.1" y="93.2"/>
<use href="#da" x="708.9" y="93.2"/>
<use href="#da" x="720.6" y="93.2"/>
<use href="#da" x="732.3" y="93.2"/>
<use href="#da" x="744.1" y="93.2"/>
<use href="#da" x="497.5" y="104.9"/>
<use href="#da" x="509.2" y="104.9"/>
<use href="#da" x="521.0" y="104.9"/>
<use href="#da" x="532.7" y="104.9"/>
<use href="#da" x="544.5" y="104.9"/>
<use href="#da" x="556.2" y="104.9"/>
<use href="#da" x="568.0" y="104.9"/>
<use href="#da" x="579.7" y="104.9"/>
<use href="#da" x="591.4" y="104.9"/>
<use href="#da" x="603.2" y="104.9"/>
<use href="#da" x="614.9" y="104.9"/>
<use href="#da" x="626.7" y="104.9"/>
<use href="#da" x="638.4" y="104.9"/>
<use href="#da" x="650.1" y="104.9"/>
<use href="#da" x="661.9" y="104.9"/>
<use href="#da" x="673.6" y="104.9"/>
<use href="#da" x="685.4" y="104.9"/>
<use href="#da" x="697.1" y="104.9"/>
<use href="#da" x="708.9" y="104.9"/>
<use href="#da" x="720.6" y="104.9"/>
<use href="#da" x="732.3" y="104.9"/>
<use href="#da" x="744.1" y="104.9"/>
<use href="#da" x="497.5" y="116.6"/>
<use href="#da" x="509.2" y="116.6"/>
<use href="#da" x="521.0" y="116.6"/>
<use href="#ar" transform="translate(532.7,116.6) rotate(-338)"/>
<use href="#ar" transform="translate(544.5,116.6) rotate(-0)"/>
<use href="#ar" transform="translate(556.2,116.6) rotate(0)"/>
<use href="#ar" transform="translate(568.0,116.6) rotate(0)"/>
<use href="#ar" transform="translate(579.7,116.6) rotate(0)"/>
<use href="#ar" transform="translate(591.4,116.6) rotate(0)"/>
<use href="#ar" transform="translate(603.2,116.6) rotate(0)"/>
<use href="#ar" transform="translate(614.9,116.6) rotate(0)"/>
<use href="#ar" transform="translate(626.7,116.6) rotate(0)"/>
<use href="#ar" transform="translate(638.4,116.6) rotate(0)"/>
<use href="#ar" transform="translate(650.1,116.6) rotate(0)"/>
<use href="#ar" transform="translate(661.9,116.6) rotate(0)"/>
<use href="#ar" transform="translate(673.6,116.6) rotate(0)"/>
<use href="#ar" transform="translate(685.4,116.6) rotate(0)"/>
<use href="#ar" transform="translate(697.1,116.6) rotate(0)"/>
<use href="#ar" transform="translate(708.9,116.6) rotate(-22)"/>
<use href="#da" x="720.6" y="116.6"/>
<use href="#da" x="732.3" y="116.6"/>
<use href="#da" x="744.1" y="116.6"/>
<use href="#db" x="497.5" y="128.3"/>
<use href="#db" x="509.2" y="128.3"/>
<use href="#ar" transform="translate(521.0,128.3) rotate(-298)"/>
<use href="#ad" transform="translate(532.7,128.3) rotate(-315)"/>
<use href="#ad" transform="translate(544.5,128.3) rotate(-0)"/>
<use href="#ad" transform="translate(556.2,128.3) rotate(0)"/>
<use href="#ad" transform="translate(568.0,128.3) rotate(0)"/>
<use href="#ad" transform="translate(579.7,128.3) rotate(0)"/>
<use href="#ad" transform="translate(591.4,128.3) rotate(0)"/>
<use href="#ad" transform="translate(603.2,128.3) rotate(0)"/>
<use href="#ad" transform="translate(614.9,128.3) rotate(0)"/>
<use href="#ad" transform="translate(626.7,128.3) rotate(0)"/>
<use href="#ad" transform="translate(638.4,128.3) rotate(0)"/>
<use href="#ad" transform="translate(650.1,128.3) rotate(0)"/>
<use href="#ad" transform="translate(661.9,128.3) rotate(0)"/>
<use href="#ad" transform="translate(673.6,128.3) rotate(0)"/>
<use href="#ad" transform="translate(685.4,128.3) rotate(0)"/>
<use href="#ad" transform="translate(697.1,128.3) rotate(0)"/>
<use href="#ad" transform="translate(708.9,128.3) rotate(-39)"/>
<use href="#ar" transform="translate(720.6,128.3) rotate(-62)"/>
<use href="#db" x="732.3" y="128.3"/>
<use href="#db" x="744.1" y="128.3"/>
<use href="#db" x="497.5" y="140.0"/>
<use href="#db" x="509.2" y="140.0"/>
<use href="#ar" transform="translate(521.0,140.0) rotate(-270)"/>
<use href="#di" x="532.7" y="140.0"/>
<use href="#di" x="544.5" y="140.0"/>
<use href="#di" x="556.2" y="140.0"/>
<use href="#di" x="568.0" y="140.0"/>
<use href="#di" x="579.7" y="140.0"/>
<use href="#di" x="591.4" y="140.0"/>
<use href="#di" x="603.2" y="140.0"/>
<use href="#di" x="614.9" y="140.0"/>
<use href="#di" x="626.7" y="140.0"/>
<use href="#di" x="638.4" y="140.0"/>
<use href="#di" x="650.1" y="140.0"/>
<use href="#di" x="661.9" y="140.0"/>
<use href="#di" x="673.6" y="140.0"/>
<use href="#di" x="685.4" y="140.0"/>
<use href="#di" x="697.1" y="140.0"/>
<use href="#di" x="708.9" y="140.0"/>
<use href="#ar" transform="translate(720.6,140.0) rotate(-90)"/>
<use href="#db" x="732.3" y="140.0"/>
<use href="#db" x="744.1" y="140.0"/>
<use href="#db" x="497.5" y="151.7"/>
<use href="#db" x="509.2" y="151.7"/>
<use href="#ar" transform="translate(521.0,151.7) rotate(-270)"/>
<use href="#di" x="532.7" y="151.7"/>
<use href="#di" x="544.5" y="151.7"/>
<use href="#di" x="556.2" y="151.7"/>
<use href="#di" x="568.0" y="151.7"/>
<use href="#di" x="579.7" y="151.7"/>
<use href="#di" x="591.4" y="151.7"/>
<use href="#di" x="603.2" y="151.7"/>
<use href="#di" x="614.9" y="151.7"/>
<use href="#di" x="626.7" y="151.7"/>
<use href="#di" x="638.4" y="151.7"/>
<use href="#di" x="650.1" y="151.7"/>
<use href="#di" x="661.9" y="151.7"/>
<use href="#di" x="673.6" y="151.7"/>
<use href="#di" x="685.4" y="151.7"/>
<use href="#di" x="697.1" y="151.7"/>
<use href="#di" x="708.9" y="151.7"/>
<use href="#ar" transform="translate(720.6,151.7) rotate(-90)"/>
<use href="#db" x="732.3" y="151.7"/>
<use href="#db" x="744.1" y="151.7"/>
<use href="#db" x="497.5" y="163.4"/>
<use href="#db" x="509.2" y="163.4"/>
<use href="#ar" transform="translate(521.0,163.4) rotate(-270)"/>
<use href="#di" x="532.7" y="163.4"/>
<use href="#di" x="544.5" y="163.4"/>
<use href="#di" x="556.2" y="163.4"/>
<use href="#di" x="568.0" y="163.4"/>
<use href="#di" x="579.7" y="163.4"/>
<use href="#di" x="591.4" y="163.4"/>
<use href="#di" x="603.2" y="163.4"/>
<use href="#di" x="614.9" y="163.4"/>
<use href="#di" x="626.7" y="163.4"/>
<use href="#di" x="638.4" y="163.4"/>
<use href="#di" x="650.1" y="163.4"/>
<use href="#di" x="661.9" y="163.4"/>
<use href="#di" x="673.6" y="163.4"/>
<use href="#di" x="685.4" y="163.4"/>
<use href="#di" x="697.1" y="163.4"/>
<use href="#di" x="708.9" y="163.4"/>
<use href="#ar" transform="translate(720.6,163.4) rotate(-90)"/>
<use href="#db" x="732.3" y="163.4"/>
<use href="#db" x="744.1" y="163.4"/>
<use href="#db" x="497.5" y="175.2"/>
<use href="#db" x="509.2" y="175.2"/>
<use href="#ar" transform="translate(521.0,175.2) rotate(-270)"/>
<use href="#di" x="532.7" y="175.2"/>
<use href="#di" x="544.5" y="175.2"/>
<use href="#di" x="556.2" y="175.2"/>
<use href="#di" x="568.0" y="175.2"/>
<use href="#di" x="579.7" y="175.2"/>
<use href="#di" x="591.4" y="175.2"/>
<use href="#di" x="603.2" y="175.2"/>
<use href="#di" x="614.9" y="175.2"/>
<use href="#di" x="626.7" y="175.2"/>
<use href="#di" x="638.4" y="175.2"/>
<use href="#di" x="650.1" y="175.2"/>
<use href="#di" x="661.9" y="175.2"/>
<use href="#di" x="673.6" y="175.2"/>
<use href="#di" x="685.4" y="175.2"/>
<use href="#di" x="697.1" y="175.2"/>
<use href="#di" x="708.9" y="175.2"/>
<use href="#ar" transform="translate(720.6,175.2) rotate(-90)"/>
<use href="#db" x="732.3" y="175.2"/>
<use href="#db" x="744.1" y="175.2"/>
<use href="#db" x="497.5" y="186.9"/>
<use href="#db" x="509.2" y="186.9"/>
<use href="#ar" transform="translate(521.0,186.9) rotate(-270)"/>
<use href="#di" x="532.7" y="186.9"/>
<use href="#di" x="544.5" y="186.9"/>
<use href="#di" x="556.2" y="186.9"/>
<use href="#di" x="568.0" y="186.9"/>
<use href="#di" x="579.7" y="186.9"/>
<use href="#di" x="591.4" y="186.9"/>
<use href="#di" x="603.2" y="186.9"/>
<use href="#di" x="614.9" y="186.9"/>
<use href="#di" x="626.7" y="186.9"/>
<use href="#di" x="638.4" y="186.9"/>
<use href="#di" x="650.1" y="186.9"/>
<use href="#di" x="661.9" y="186.9"/>
<use href="#di" x="673.6" y="186.9"/>
<use href="#di" x="685.4" y="186.9"/>
<use href="#di" x="697.1" y="186.9"/>
<use href="#di" x="708.9" y="186.9"/>
<use href="#ar" transform="translate(720.6,186.9) rotate(-90)"/>
<use href="#db" x="732.3" y="186.9"/>
<use href="#db" x="744.1" y="186.9"/>
<use href="#db" x="497.5" y="198.6"/>
<use href="#db" x="509.2" y="198.6"/>
<use href="#ar" transform="translate(521.0,198.6) rotate(-270)"/>
<use href="#di" x="532.7" y="198.6"/>
<use href="#di" x="544.5" y="198.6"/>
<use href="#di" x="556.2" y="198.6"/>
<use href="#di" x="568.0" y="198.6"/>
<use href="#di" x="579.7" y="198.6"/>
<use href="#di" x="591.4" y="198.6"/>
<use href="#di" x="603.2" y="198.6"/>
<use href="#di" x="614.9" y="198.6"/>
<use href="#di" x="626.7" y="198.6"/>
<use href="#di" x="638.4" y="198.6"/>
<use href="#di" x="650.1" y="198.6"/>
<use href="#di" x="661.9" y="198.6"/>
<use href="#di" x="673.6" y="198.6"/>
<use href="#di" x="685.4" y="198.6"/>
<use href="#di" x="697.1" y="198.6"/>
<use href="#di" x="708.9" y="198.6"/>
<use href="#ar" transform="translate(720.6,198.6) rotate(-90)"/>
<use href="#db" x="732.3" y="198.6"/>
<use href="#db" x="744.1" y="198.6"/>
<use href="#ad" transform="translate(579.7,210.3) rotate(-180)"/>
<use href="#ad" transform="translate(591.4,210.3) rotate(-180)"/>
<use href="#ad" transform="translate(603.2,210.3) rotate(-180)"/>
<use href="#ad" transform="translate(614.9,210.3) rotate(-180)"/>
<use href="#ad" transform="translate(626.7,210.3) rotate(-180)"/>
<use href="#ad" transform="translate(638.4,210.3) rotate(-180)"/>
<use href="#ad" transform="translate(650.1,210.3) rotate(-180)"/>
<use href="#ad" transform="translate(661.9,210.3) rotate(-180)"/>
<use href="#ad" transform="translate(673.6,210.3) rotate(-180)"/>
<use href="#ad" transform="translate(685.4,210.3) rotate(-180)"/>
<use href="#ad" transform="translate(697.1,210.3) rotate(-180)"/>
<use href="#ad" transform="translate(708.9,210.3) rotate(-141)"/>
<use href="#ar" transform="translate(720.6,210.3) rotate(-118)"/>
<use href="#db" x="732.3" y="210.3"/>
<use href="#db" x="744.1" y="210.3"/>
<use href="#ar" transform="translate(579.7,222.0) rotate(-180)"/>
<use href="#ar" transform="translate(591.4,222.0) rotate(-180)"/>
<use href="#ar" transform="translate(603.2,222.0) rotate(-180)"/>
<use href="#ar" transform="translate(614.9,222.0) rotate(-180)"/>
<use href="#ar" transform="translate(626.7,222.0) rotate(-180)"/>
<use href="#ar" transform="translate(638.4,222.0) rotate(-180)"/>
<use href="#ar" transform="translate(650.1,222.0) rotate(-180)"/>
<use href="#ar" transform="translate(661.9,222.0) rotate(-180)"/>
<use href="#ar" transform="translate(673.6,222.0) rotate(-180)"/>
<use href="#ar" transform="translate(685.4,222.0) rotate(-180)"/>
<use href="#ar" transform="translate(697.1,222.0) rotate(-180)"/>
<use href="#ar" transform="translate(708.9,222.0) rotate(-158)"/>
<use href="#dc" x="720.6" y="222.0"/>
<use href="#dc" x="732.3" y="222.0"/>
<use href="#dc" x="744.1" y="222.0"/>
<use href="#dc" x="579.7" y="233.7"/>
<use href="#dc" x="591.4" y="233.7"/>
<use href="#dc" x="603.2" y="233.7"/>
<use href="#dc" x="614.9" y="233.7"/>
<use href="#dc" x="626.7" y="233.7"/>
<use href="#dc" x="638.4" y="233.7"/>
<use href="#dc" x="650.1" y="233.7"/>
<use href="#dc" x="661.9" y="233.7"/>
<use href="#dc" x="673.6" y="233.7"/>
<use href="#dc" x="685.4" y="233.7"/>
<use href="#dc" x="697.1" y="233.7"/>
<use href="#dc" x="708.9" y="233.7"/>
<use href="#dc" x="720.6" y="233.7"/>
<use href="#dc" x="732.3" y="233.7"/>
<use href="#dc" x="744.1" y="233.7"/>
<use href="#dc" x="579.7" y="245.4"/>
<use href="#dc" x="591.4" y="245.4"/>
<use href="#dc" x="603.2" y="245.4"/>
<use href="#dc" x="614.9" y="245.4"/>
<use href="#dc" x="626.7" y="245.4"/>
<use href="#dc" x="638.4" y="245.4"/>
<use href="#dc" x="650.1" y="245.4"/>
<use href="#dc" x="661.9" y="245.4"/>
<use href="#dc" x="673.6" y="245.4"/>
<use href="#dc" x="685.4" y="245.4"/>
<use href="#dc" x="697.1" y="245.4"/>
<use href="#dc" x="708.9" y="245.4"/>
<use href="#dc" x="720.6" y="245.4"/>
<use href="#dc" x="732.3" y="245.4"/>
<use href="#dc" x="744.1" y="245.4"/>
<use href="#dc" x="579.7" y="257.1"/>
<use href="#dc" x="591.4" y="257.1"/>
<use href="#dc" x="603.2" y="257.1"/>
<use href="#dc" x="614.9" y="257.1"/>
<use href="#dc" x="626.7" y="257.1"/>
<use href="#dc" x="638.4" y="257.1"/>
<use href="#dc" x="650.1" y="257.1"/>
<use href="#dc" x="661.9" y="257.1"/>
<use href="#dc" x="673.6" y="257.1"/>
<use href="#dc" x="685.4" y="257.1"/>
<use href="#dc" x="697.1" y="257.1"/>
<use href="#dc" x="708.9" y="257.1"/>
<use href="#dc" x="720.6" y="257.1"/>
<use href="#dc" x="732.3" y="257.1"/>
<use href="#dc" x="744.1" y="257.1"/>
<use href="#dc" x="579.7" y="268.8"/>
<use href="#dc" x="591.4" y="268.8"/>
<use href="#dc" x="603.2" y="268.8"/>
<use href="#dc" x="614.9" y="268.8"/>
<use href="#dc" x="626.7" y="268.8"/>
<use href="#dc" x="638.4" y="268.8"/>
<use href="#dc" x="650.1" y="268.8"/>
<use href="#dc" x="661.9" y="268.8"/>
<use href="#dc" x="673.6" y="268.8"/>
<use href="#dc" x="685.4" y="268.8"/>
<use href="#dc" x="697.1" y="268.8"/>
<use href="#dc" x="708.9" y="268.8"/>
<use href="#dc" x="720.6" y="268.8"/>
<use href="#dc" x="732.3" y="268.8"/>
<use href="#dc" x="744.1" y="268.8"/>
<use href="#dc" x="579.7" y="280.5"/>
<use href="#dc" x="591.4" y="280.5"/>
<use href="#dc" x="603.2" y="280.5"/>
<use href="#dc" x="614.9" y="280.5"/>
<use href="#dc" x="626.7" y="280.5"/>
<use href="#dc" x="638.4" y="280.5"/>
<use href="#dc" x="650.1" y="280.5"/>
<use href="#dc" x="661.9" y="280.5"/>
<use href="#dc" x="673.6" y="280.5"/>
<use href="#dc" x="685.4" y="280.5"/>
<use href="#dc" x="697.1" y="280.5"/>
<use href="#dc" x="708.9" y="280.5"/>
<use href="#dc" x="720.6" y="280.5"/>
<use href="#dc" x="732.3" y="280.5"/>
<use href="#dc" x="744.1" y="280.5"/>
<use href="#dc" x="497.5" y="292.2"/>
<use href="#dc" x="509.2" y="292.2"/>
<use href="#dc" x="521.0" y="292.2"/>
<use href="#dc" x="532.7" y="292.2"/>
<use href="#dc" x="544.5" y="292.2"/>
<use href="#dc" x="556.2" y="292.2"/>
<use href="#dc" x="568.0" y="292.2"/>
<use href="#dc" x="579.7" y="292.2"/>
<use href="#dc" x="591.4" y="292.2"/>
<use href="#dc" x="603.2" y="292.2"/>
<use href="#dc" x="614.9" y="292.2"/>
<use href="#dc" x="626.7" y="292.2"/>
<use href="#dc" x="638.4" y="292.2"/>
<use href="#dc" x="650.1" y="292.2"/>
<use href="#dc" x="661.9" y="292.2"/>
<use href="#dc" x="673.6" y="292.2"/>
<use href="#dc" x="685.4" y="292.2"/>
<use href="#dc" x="697.1" y="292.2"/>
<use href="#dc" x="708.9" y="292.2"/>
<use href="#dc" x="720.6" y="292.2"/>
<use href="#dc" x="732.3" y="292.2"/>
<use href="#dc" x="744.1" y="292.2"/>
<rect x="7.3" y="585.5" width="244.2" height="243.2" fill="#cac7c0"/>
<clipPath id="cpsk"><rect x="7.3" y="585.5" width="244.2" height="243.2"/></clipPath>
<g clip-path="url(#cpsk)">
<g filter="url(#blur3)" stroke-width="15.5" stroke-linecap="butt" fill="none" opacity="1">
<path d="M15.7,710.4L16.0,704.7" stroke="#00d1ce"/>
<path d="M15.9,705.9L16.7,700.2" stroke="#00d1bc"/>
<path d="M16.5,701.4L17.9,695.8" stroke="#00d1aa"/>
<path d="M17.5,696.9L19.5,691.5" stroke="#00d198"/>
<path d="M19.0,692.6L21.5,687.5" stroke="#00d185"/>
<path d="M20.9,688.5L23.9,683.6" stroke="#00d173"/>
<path d="M23.2,684.6L26.6,680.0" stroke="#00d161"/>
<path d="M25.8,680.9L29.7,676.7" stroke="#00d14e"/>
<path d="M28.9,677.5L33.1,673.6" stroke="#00d13c"/>
<path d="M32.2,674.4L36.8,671.0" stroke="#00d12a"/>
<path d="M35.8,671.7L40.7,668.7" stroke="#00d117"/>
<path d="M39.7,669.3L44.8,666.8" stroke="#00d105"/>
<path d="M43.7,667.3L49.1,665.3" stroke="#0cd100"/>
<path d="M48.0,665.7L53.6,664.3" stroke="#1ed100"/>
<path d="M52.4,664.5L58.1,663.7" stroke="#31d100"/>
<path d="M56.9,663.8L62.6,663.5" stroke="#43d100"/>
<path d="M61.4,663.5L65.6,663.5" stroke="#4cd100"/>
<path d="M64.4,663.5L68.6,663.5" stroke="#4cd100"/>
<path d="M67.4,663.5L71.6,663.5" stroke="#4cd100"/>
<path d="M70.4,663.5L74.6,663.5" stroke="#4cd100"/>
<path d="M73.4,663.5L77.7,663.5" stroke="#4cd100"/>
<path d="M76.5,663.5L80.7,663.5" stroke="#4cd100"/>
<path d="M79.5,663.5L83.7,663.5" stroke="#4cd100"/>
<path d="M82.5,663.5L86.7,663.5" stroke="#4cd100"/>
<path d="M85.5,663.5L89.7,663.5" stroke="#4cd100"/>
<path d="M88.5,663.5L92.7,663.5" stroke="#4cd100"/>
<path d="M91.5,663.5L95.7,663.5" stroke="#4cd100"/>
<path d="M94.5,663.5L98.7,663.5" stroke="#4cd100"/>
<path d="M97.5,663.5L101.7,663.5" stroke="#4cd100"/>
<path d="M100.5,663.5L104.8,663.5" stroke="#4cd100"/>
<path d="M103.6,663.5L107.8,663.5" stroke="#4cd100"/>
<path d="M106.6,663.5L110.8,663.5" stroke="#4cd100"/>
<path d="M109.6,663.5L113.8,663.5" stroke="#4cd100"/>
<path d="M112.6,663.5L116.8,663.5" stroke="#4cd100"/>
<path d="M115.6,663.5L119.8,663.5" stroke="#4cd100"/>
<path d="M118.6,663.5L122.8,663.5" stroke="#4cd100"/>
<path d="M121.6,663.5L125.8,663.5" stroke="#4cd100"/>
<path d="M124.6,663.5L128.8,663.5" stroke="#4cd100"/>
<path d="M127.7,663.5L131.9,663.5" stroke="#4cd100"/>
<path d="M130.7,663.5L134.9,663.5" stroke="#4cd100"/>
<path d="M133.7,663.5L137.9,663.5" stroke="#4cd100"/>
<path d="M136.7,663.5L140.9,663.5" stroke="#4cd100"/>
<path d="M139.7,663.5L143.9,663.5" stroke="#4cd100"/>
<path d="M142.7,663.5L146.9,663.5" stroke="#4cd100"/>
<path d="M145.7,663.5L149.9,663.5" stroke="#4cd100"/>
<path d="M148.7,663.5L152.9,663.5" stroke="#4cd100"/>
<path d="M151.7,663.5L156.0,663.5" stroke="#4cd100"/>
<path d="M154.8,663.5L159.0,663.5" stroke="#4cd100"/>
<path d="M157.8,663.5L162.0,663.5" stroke="#4cd100"/>
<path d="M160.8,663.5L165.0,663.5" stroke="#4cd100"/>
<path d="M163.8,663.5L168.0,663.5" stroke="#4cd100"/>
<path d="M166.8,663.5L171.0,663.5" stroke="#4cd100"/>
<path d="M169.8,663.5L174.0,663.5" stroke="#4cd100"/>
<path d="M172.8,663.5L177.0,663.5" stroke="#4cd100"/>
<path d="M175.8,663.5L180.0,663.5" stroke="#4cd100"/>
<path d="M178.8,663.5L183.1,663.5" stroke="#4cd100"/>
<path d="M181.9,663.5L186.1,663.5" stroke="#4cd100"/>
<path d="M184.9,663.5L189.1,663.5" stroke="#4cd100"/>
<path d="M187.9,663.5L192.1,663.5" stroke="#4cd100"/>
<path d="M190.9,663.5L195.1,663.5" stroke="#4cd100"/>
<path d="M193.9,663.5L199.6,663.8" stroke="#56d100"/>
<path d="M198.4,663.7L204.1,664.5" stroke="#68d100"/>
<path d="M202.9,664.3L208.5,665.7" stroke="#7bd100"/>
<path d="M207.4,665.3L212.8,667.3" stroke="#8ed100"/>
<path d="M211.7,666.8L216.8,669.3" stroke="#a0d100"/>
<path d="M215.8,668.7L220.7,671.7" stroke="#b3d100"/>
<path d="M219.7,671.0L224.3,674.4" stroke="#c6d100"/>
<path d="M223.4,673.6L227.6,677.5" stroke="#d1c900"/>
<path d="M226.8,676.7L230.7,680.9" stroke="#d1b300"/>
<path d="M229.9,680.0L233.3,684.6" stroke="#d19a00"/>
<path d="M232.6,683.6L235.6,688.5" stroke="#d18100"/>
<path d="M235.0,687.5L237.5,692.6" stroke="#d16800"/>
<path d="M237.0,691.5L239.0,696.9" stroke="#d14f00"/>
<path d="M238.6,695.8L240.0,701.4" stroke="#d13700"/>
<path d="M239.8,700.2L240.6,705.9" stroke="#d11e00"/>
<path d="M240.5,704.7L240.8,710.4" stroke="#d10500"/>
<path d="M240.8,709.2L240.8,711.6" stroke="#d10006"/>
<path d="M240.8,710.4L240.5,716.1" stroke="#d10010"/>
<path d="M240.6,714.9L239.8,720.6" stroke="#d10025"/>
<path d="M240.0,719.4L238.6,725.0" stroke="#d10039"/>
<path d="M239.0,723.9L237.0,729.3" stroke="#d1004d"/>
<path d="M237.5,728.2L235.0,733.3" stroke="#d10061"/>
<path d="M235.6,732.3L232.6,737.2" stroke="#d10075"/>
<path d="M233.3,736.2L229.9,740.8" stroke="#d10089"/>
<path d="M230.7,739.9L226.8,744.1" stroke="#d1009d"/>
<path d="M227.6,743.3L223.4,747.2" stroke="#d100b0"/>
<path d="M224.3,746.4L219.7,749.8" stroke="#d100c4"/>
<path d="M220.7,749.1L215.8,752.1" stroke="#cb00d1"/>
<path d="M216.8,751.5L211.7,754.0" stroke="#b700d1"/>
<path d="M212.8,753.5L207.4,755.5" stroke="#a400d1"/>
<path d="M208.5,755.1L202.9,756.5" stroke="#9100d1"/>
<path d="M204.1,756.3L198.4,757.1" stroke="#7e00d1"/>
<path d="M199.6,757.0L193.9,757.3" stroke="#6b00d1"/>
<path d="M195.1,757.2L190.9,757.2" stroke="#6100d1"/>
<path d="M192.1,757.2L187.9,757.2" stroke="#6100d1"/>
<path d="M189.1,757.2L184.9,757.2" stroke="#6100d1"/>
<path d="M186.1,757.2L181.9,757.2" stroke="#6100d1"/>
<path d="M183.1,757.2L178.8,757.2" stroke="#6100d1"/>
<path d="M180.0,757.2L175.8,757.2" stroke="#6100d1"/>
<path d="M177.0,757.2L172.8,757.2" stroke="#6100d1"/>
<path d="M174.0,757.2L169.8,757.2" stroke="#6100d1"/>
<path d="M171.0,757.2L166.8,757.2" stroke="#6100d1"/>
<path d="M168.0,757.2L163.8,757.2" stroke="#6100d1"/>
<path d="M165.0,757.2L160.8,757.2" stroke="#6100d1"/>
<path d="M162.0,757.2L157.8,757.2" stroke="#6100d1"/>
<path d="M159.0,757.2L154.8,757.2" stroke="#6100d1"/>
<path d="M156.0,757.2L151.7,757.2" stroke="#6100d1"/>
<path d="M152.9,757.2L148.7,757.2" stroke="#6100d1"/>
<path d="M149.9,757.2L145.7,757.2" stroke="#6100d1"/>
<path d="M146.9,757.2L142.7,757.2" stroke="#6100d1"/>
<path d="M143.9,757.2L139.7,757.2" stroke="#6100d1"/>
<path d="M140.9,757.2L136.7,757.2" stroke="#6100d1"/>
<path d="M137.9,757.2L133.7,757.2" stroke="#6100d1"/>
<path d="M134.9,757.2L130.7,757.2" stroke="#6100d1"/>
<path d="M131.9,757.2L127.7,757.2" stroke="#6100d1"/>
<path d="M128.8,757.2L124.6,757.2" stroke="#6100d1"/>
<path d="M125.8,757.2L121.6,757.2" stroke="#6100d1"/>
<path d="M122.8,757.2L118.6,757.2" stroke="#6100d1"/>
<path d="M119.8,757.2L115.6,757.2" stroke="#6100d1"/>
<path d="M116.8,757.2L112.6,757.2" stroke="#6100d1"/>
<path d="M113.8,757.2L109.6,757.2" stroke="#6100d1"/>
<path d="M110.8,757.2L106.6,757.2" stroke="#6100d1"/>
<path d="M107.8,757.2L103.6,757.2" stroke="#6100d1"/>
<path d="M104.8,757.2L100.5,757.2" stroke="#6100d1"/>
<path d="M101.7,757.2L97.5,757.2" stroke="#6100d1"/>
<path d="M98.7,757.2L94.5,757.2" stroke="#6100d1"/>
<path d="M95.7,757.2L91.5,757.2" stroke="#6100d1"/>
<path d="M92.7,757.2L88.5,757.2" stroke="#6100d1"/>
<path d="M89.7,757.2L85.5,757.2" stroke="#6100d1"/>
<path d="M86.7,757.2L82.5,757.2" stroke="#6100d1"/>
<path d="M83.7,757.2L79.5,757.2" stroke="#6100d1"/>
<path d="M80.7,757.2L76.5,757.2" stroke="#6100d1"/>
<path d="M77.7,757.2L73.4,757.2" stroke="#6100d1"/>
<path d="M74.6,757.2L70.4,757.2" stroke="#6100d1"/>
<path d="M71.6,757.2L67.4,757.2" stroke="#6100d1"/>
<path d="M68.6,757.2L64.4,757.2" stroke="#6100d1"/>
<path d="M65.6,757.2L61.4,757.2" stroke="#6100d1"/>
<path d="M62.6,757.3L56.9,757.0" stroke="#5800d1"/>
<path d="M58.1,757.1L52.4,756.3" stroke="#4500d1"/>
<path d="M53.6,756.5L48.0,755.1" stroke="#3200d1"/>
<path d="M49.1,755.5L43.7,753.5" stroke="#2000d1"/>
<path d="M44.8,754.0L39.7,751.5" stroke="#0d00d1"/>
<path d="M40.7,752.1L35.8,749.1" stroke="#0005d1"/>
<path d="M36.8,749.8L32.2,746.4" stroke="#0018d1"/>
<path d="M33.1,747.2L28.9,743.3" stroke="#002ad1"/>
<path d="M29.7,744.1L25.8,739.9" stroke="#003dd1"/>
<path d="M26.6,740.8L23.2,736.2" stroke="#0050d1"/>
<path d="M23.9,737.2L20.9,732.3" stroke="#0063d1"/>
<path d="M21.5,733.3L19.0,728.2" stroke="#0075d1"/>
<path d="M19.5,729.3L17.5,723.9" stroke="#0088d1"/>
<path d="M17.9,725.0L16.5,719.4" stroke="#009bd1"/>
<path d="M16.7,720.6L15.9,714.9" stroke="#00aed1"/>
<path d="M16.0,716.1L15.7,710.4" stroke="#00c0d1"/>
<path d="M15.8,711.6L15.8,709.2" stroke="#00cad1"/>
</g>
<path d="M62.0,665.8H194.5A44.0,44.0 0 0 1 238.5,709.8V711.0A44.0,44.0 0 0 1 194.5,755.0H62.0A44.0,44.0 0 0 1 18.0,711.0V709.8A44.0,44.0 0 0 1 62.0,665.8Z" fill="#000" filter="url(#blur25)"/>
</g>
<use href="#da" x="6.1" y="584.6"/>
<use href="#da" x="17.8" y="584.6"/>
<use href="#da" x="29.6" y="584.6"/>
<use href="#da" x="41.3" y="584.6"/>
<use href="#da" x="53.1" y="584.6"/>
<use href="#da" x="64.8" y="584.6"/>
<use href="#da" x="76.6" y="584.6"/>
<use href="#da" x="88.3" y="584.6"/>
<use href="#da" x="100.0" y="584.6"/>
<use href="#da" x="111.8" y="584.6"/>
<use href="#da" x="123.5" y="584.6"/>
<use href="#da" x="135.3" y="584.6"/>
<use href="#da" x="147.0" y="584.6"/>
<use href="#da" x="158.7" y="584.6"/>
<use href="#da" x="170.5" y="584.6"/>
<use href="#da" x="182.2" y="584.6"/>
<use href="#da" x="194.0" y="584.6"/>
<use href="#da" x="205.7" y="584.6"/>
<use href="#da" x="217.5" y="584.6"/>
<use href="#da" x="229.2" y="584.6"/>
<use href="#da" x="240.9" y="584.6"/>
<use href="#da" x="252.7" y="584.6"/>
<use href="#da" x="6.1" y="596.3"/>
<use href="#da" x="17.8" y="596.3"/>
<use href="#da" x="29.6" y="596.3"/>
<use href="#da" x="41.3" y="596.3"/>
<use href="#da" x="53.1" y="596.3"/>
<use href="#da" x="64.8" y="596.3"/>
<use href="#da" x="76.6" y="596.3"/>
<use href="#da" x="88.3" y="596.3"/>
<use href="#da" x="100.0" y="596.3"/>
<use href="#da" x="111.8" y="596.3"/>
<use href="#da" x="123.5" y="596.3"/>
<use href="#da" x="135.3" y="596.3"/>
<use href="#da" x="147.0" y="596.3"/>
<use href="#da" x="158.7" y="596.3"/>
<use href="#da" x="170.5" y="596.3"/>
<use href="#da" x="182.2" y="596.3"/>
<use href="#da" x="194.0" y="596.3"/>
<use href="#da" x="205.7" y="596.3"/>
<use href="#da" x="217.5" y="596.3"/>
<use href="#da" x="229.2" y="596.3"/>
<use href="#da" x="240.9" y="596.3"/>
<use href="#da" x="252.7" y="596.3"/>
<use href="#da" x="6.1" y="608.0"/>
<use href="#da" x="17.8" y="608.0"/>
<use href="#da" x="29.6" y="608.0"/>
<use href="#da" x="41.3" y="608.0"/>
<use href="#da" x="53.1" y="608.0"/>
<use href="#da" x="64.8" y="608.0"/>
<use href="#da" x="76.6" y="608.0"/>
<use href="#da" x="88.3" y="608.0"/>
<use href="#da" x="100.0" y="608.0"/>
<use href="#da" x="111.8" y="608.0"/>
<use href="#da" x="123.5" y="608.0"/>
<use href="#da" x="135.3" y="608.0"/>
<use href="#da" x="147.0" y="608.0"/>
<use href="#da" x="158.7" y="608.0"/>
<use href="#da" x="170.5" y="608.0"/>
<use href="#da" x="182.2" y="608.0"/>
<use href="#da" x="194.0" y="608.0"/>
<use href="#da" x="205.7" y="608.0"/>
<use href="#da" x="217.5" y="608.0"/>
<use href="#da" x="229.2" y="608.0"/>
<use href="#da" x="240.9" y="608.0"/>
<use href="#da" x="252.7" y="608.0"/>
<use href="#da" x="6.1" y="619.7"/>
<use href="#da" x="17.8" y="619.7"/>
<use href="#da" x="29.6" y="619.7"/>
<use href="#da" x="41.3" y="619.7"/>
<use href="#da" x="53.1" y="619.7"/>
<use href="#da" x="64.8" y="619.7"/>
<use href="#da" x="76.6" y="619.7"/>
<use href="#da" x="88.3" y="619.7"/>
<use href="#da" x="100.0" y="619.7"/>
<use href="#da" x="111.8" y="619.7"/>
<use href="#da" x="123.5" y="619.7"/>
<use href="#da" x="135.3" y="619.7"/>
<use href="#da" x="147.0" y="619.7"/>
<use href="#da" x="158.7" y="619.7"/>
<use href="#da" x="170.5" y="619.7"/>
<use href="#da" x="182.2" y="619.7"/>
<use href="#da" x="194.0" y="619.7"/>
<use href="#da" x="205.7" y="619.7"/>
<use href="#da" x="217.5" y="619.7"/>
<use href="#da" x="229.2" y="619.7"/>
<use href="#da" x="240.9" y="619.7"/>
<use href="#da" x="252.7" y="619.7"/>
<use href="#da" x="6.1" y="631.4"/>
<use href="#da" x="17.8" y="631.4"/>
<use href="#da" x="29.6" y="631.4"/>
<use href="#da" x="41.3" y="631.4"/>
<use href="#da" x="53.1" y="631.4"/>
<use href="#da" x="64.8" y="631.4"/>
<use href="#da" x="76.6" y="631.4"/>
<use href="#da" x="88.3" y="631.4"/>
<use href="#da" x="100.0" y="631.4"/>
<use href="#da" x="111.8" y="631.4"/>
<use href="#da" x="123.5" y="631.4"/>
<use href="#da" x="135.3" y="631.4"/>
<use href="#da" x="147.0" y="631.4"/>
<use href="#da" x="158.7" y="631.4"/>
<use href="#da" x="170.5" y="631.4"/>
<use href="#da" x="182.2" y="631.4"/>
<use href="#da" x="194.0" y="631.4"/>
<use href="#da" x="205.7" y="631.4"/>
<use href="#da" x="217.5" y="631.4"/>
<use href="#da" x="229.2" y="631.4"/>
<use href="#da" x="240.9" y="631.4"/>
<use href="#da" x="252.7" y="631.4"/>
<use href="#da" x="6.1" y="643.1"/>
<use href="#da" x="17.8" y="643.1"/>
<use href="#da" x="29.6" y="643.1"/>
<use href="#da" x="41.3" y="643.1"/>
<use href="#da" x="53.1" y="643.1"/>
<use href="#da" x="64.8" y="643.1"/>
<use href="#da" x="76.6" y="643.1"/>
<use href="#da" x="88.3" y="643.1"/>
<use href="#da" x="100.0" y="643.1"/>
<use href="#da" x="111.8" y="643.1"/>
<use href="#da" x="123.5" y="643.1"/>
<use href="#da" x="135.3" y="643.1"/>
<use href="#da" x="147.0" y="643.1"/>
<use href="#da" x="158.7" y="643.1"/>
<use href="#da" x="170.5" y="643.1"/>
<use href="#da" x="182.2" y="643.1"/>
<use href="#da" x="194.0" y="643.1"/>
<use href="#da" x="205.7" y="643.1"/>
<use href="#da" x="217.5" y="643.1"/>
<use href="#da" x="229.2" y="643.1"/>
<use href="#da" x="240.9" y="643.1"/>
<use href="#da" x="252.7" y="643.1"/>
<use href="#da" x="6.1" y="654.8"/>
<use href="#da" x="17.8" y="654.8"/>
<use href="#da" x="29.6" y="654.8"/>
<use href="#da" x="41.3" y="654.8"/>
<use href="#ar" transform="translate(53.1,654.8) rotate(-11)"/>
<use href="#ar" transform="translate(64.8,654.8) rotate(0)"/>
<use href="#ar" transform="translate(76.6,654.8) rotate(0)"/>
<use href="#ar" transform="translate(88.3,654.8) rotate(0)"/>
<use href="#ar" transform="translate(100.0,654.8) rotate(0)"/>
<use href="#ar" transform="translate(111.8,654.8) rotate(0)"/>
<use href="#ar" transform="translate(123.5,654.8) rotate(0)"/>
<use href="#ar" transform="translate(135.3,654.8) rotate(0)"/>
<use href="#ar" transform="translate(147.0,654.8) rotate(0)"/>
<use href="#ar" transform="translate(158.7,654.8) rotate(0)"/>
<use href="#ar" transform="translate(170.5,654.8) rotate(0)"/>
<use href="#ar" transform="translate(182.2,654.8) rotate(0)"/>
<use href="#ar" transform="translate(194.0,654.8) rotate(-0)"/>
<use href="#da" x="205.7" y="654.8"/>
<use href="#da" x="217.5" y="654.8"/>
<use href="#da" x="229.2" y="654.8"/>
<use href="#da" x="240.9" y="654.8"/>
<use href="#da" x="252.7" y="654.8"/>
<use href="#db" x="6.1" y="666.5"/>
<use href="#db" x="17.8" y="666.5"/>
<use href="#ar" transform="translate(29.6,666.5) rotate(-39)"/>
<use href="#ar" transform="translate(41.3,666.5) rotate(-28)"/>
<use href="#ad" transform="translate(53.1,666.5) rotate(-11)"/>
<use href="#ad" transform="translate(64.8,666.5) rotate(0)"/>
<use href="#ad" transform="translate(76.6,666.5) rotate(0)"/>
<use href="#ad" transform="translate(88.3,666.5) rotate(0)"/>
<use href="#ad" transform="translate(100.0,666.5) rotate(0)"/>
<use href="#ad" transform="translate(111.8,666.5) rotate(0)"/>
<use href="#ad" transform="translate(123.5,666.5) rotate(0)"/>
<use href="#ad" transform="translate(135.3,666.5) rotate(0)"/>
<use href="#ad" transform="translate(147.0,666.5) rotate(0)"/>
<use href="#ad" transform="translate(158.7,666.5) rotate(0)"/>
<use href="#ad" transform="translate(170.5,666.5) rotate(0)"/>
<use href="#ad" transform="translate(182.2,666.5) rotate(0)"/>
<use href="#ad" transform="translate(194.0,666.5) rotate(-0)"/>
<use href="#ar" transform="translate(205.7,666.5) rotate(-343)"/>
<use href="#ar" transform="translate(217.5,666.5) rotate(-332)"/>
<use href="#ar" transform="translate(229.2,666.5) rotate(-321)"/>
<use href="#db" x="240.9" y="666.5"/>
<use href="#db" x="252.7" y="666.5"/>
<use href="#db" x="6.1" y="678.2"/>
<use href="#ar" transform="translate(17.8,678.2) rotate(-56)"/>
<use href="#ar" transform="translate(29.6,678.2) rotate(-45)"/>
<use href="#ad" transform="translate(41.3,678.2) rotate(-34)"/>
<use href="#di" x="53.1" y="678.2"/>
<use href="#di" x="64.8" y="678.2"/>
<use href="#di" x="76.6" y="678.2"/>
<use href="#di" x="88.3" y="678.2"/>
<use href="#di" x="100.0" y="678.2"/>
<use href="#di" x="111.8" y="678.2"/>
<use href="#di" x="123.5" y="678.2"/>
<use href="#di" x="135.3" y="678.2"/>
<use href="#di" x="147.0" y="678.2"/>
<use href="#di" x="158.7" y="678.2"/>
<use href="#di" x="170.5" y="678.2"/>
<use href="#di" x="182.2" y="678.2"/>
<use href="#di" x="194.0" y="678.2"/>
<use href="#di" x="205.7" y="678.2"/>
<use href="#ad" transform="translate(217.5,678.2) rotate(-326)"/>
<use href="#ar" transform="translate(229.2,678.2) rotate(-315)"/>
<use href="#db" x="240.9" y="678.2"/>
<use href="#db" x="252.7" y="678.2"/>
<use href="#db" x="6.1" y="689.9"/>
<use href="#ar" transform="translate(17.8,689.9) rotate(-68)"/>
<use href="#ad" transform="translate(29.6,689.9) rotate(-56)"/>
<use href="#di" x="41.3" y="689.9"/>
<use href="#di" x="53.1" y="689.9"/>
<use href="#di" x="64.8" y="689.9"/>
<use href="#di" x="76.6" y="689.9"/>
<use href="#di" x="88.3" y="689.9"/>
<use href="#di" x="100.0" y="689.9"/>
<use href="#di" x="111.8" y="689.9"/>
<use href="#di" x="123.5" y="689.9"/>
<use href="#di" x="135.3" y="689.9"/>
<use href="#di" x="147.0" y="689.9"/>
<use href="#di" x="158.7" y="689.9"/>
<use href="#di" x="170.5" y="689.9"/>
<use href="#di" x="182.2" y="689.9"/>
<use href="#di" x="194.0" y="689.9"/>
<use href="#di" x="205.7" y="689.9"/>
<use href="#di" x="217.5" y="689.9"/>
<use href="#ad" transform="translate(229.2,689.9) rotate(-298)"/>
<use href="#ar" transform="translate(240.9,689.9) rotate(-292)"/>
<use href="#db" x="252.7" y="689.9"/>
<use href="#db" x="6.1" y="701.6"/>
<use href="#ar" transform="translate(17.8,701.6) rotate(-79)"/>
<use href="#di" x="29.6" y="701.6"/>
<use href="#di" x="41.3" y="701.6"/>
<use href="#di" x="53.1" y="701.6"/>
<use href="#di" x="64.8" y="701.6"/>
<use href="#di" x="76.6" y="701.6"/>
<use href="#di" x="88.3" y="701.6"/>
<use href="#di" x="100.0" y="701.6"/>
<use href="#di" x="111.8" y="701.6"/>
<use href="#di" x="123.5" y="701.6"/>
<use href="#di" x="135.3" y="701.6"/>
<use href="#di" x="147.0" y="701.6"/>
<use href="#di" x="158.7" y="701.6"/>
<use href="#di" x="170.5" y="701.6"/>
<use href="#di" x="182.2" y="701.6"/>
<use href="#di" x="194.0" y="701.6"/>
<use href="#di" x="205.7" y="701.6"/>
<use href="#di" x="217.5" y="701.6"/>
<use href="#ad" transform="translate(229.2,701.6) rotate(-281)"/>
<use href="#ar" transform="translate(240.9,701.6) rotate(-281)"/>
<use href="#db" x="252.7" y="701.6"/>
<use href="#ar" transform="translate(6.1,713.4) rotate(-90)"/>
<use href="#ar" transform="translate(17.8,713.4) rotate(-96)"/>
<use href="#di" x="29.6" y="713.4"/>
<use href="#di" x="41.3" y="713.4"/>
<use href="#di" x="53.1" y="713.4"/>
<use href="#di" x="64.8" y="713.4"/>
<use href="#di" x="76.6" y="713.4"/>
<use href="#di" x="88.3" y="713.4"/>
<use href="#di" x="100.0" y="713.4"/>
<use href="#di" x="111.8" y="713.4"/>
<use href="#di" x="123.5" y="713.4"/>
<use href="#di" x="135.3" y="713.4"/>
<use href="#di" x="147.0" y="713.4"/>
<use href="#di" x="158.7" y="713.4"/>
<use href="#di" x="170.5" y="713.4"/>
<use href="#di" x="182.2" y="713.4"/>
<use href="#di" x="194.0" y="713.4"/>
<use href="#di" x="205.7" y="713.4"/>
<use href="#di" x="217.5" y="713.4"/>
<use href="#di" x="229.2" y="713.4"/>
<use href="#ar" transform="translate(240.9,713.4) rotate(-264)"/>
<use href="#db" x="252.7" y="713.4"/>
<use href="#db" x="6.1" y="725.1"/>
<use href="#ar" transform="translate(17.8,725.1) rotate(-107)"/>
<use href="#ad" transform="translate(29.6,725.1) rotate(-112)"/>
<use href="#di" x="41.3" y="725.1"/>
<use href="#di" x="53.1" y="725.1"/>
<use href="#di" x="64.8" y="725.1"/>
<use href="#di" x="76.6" y="725.1"/>
<use href="#di" x="88.3" y="725.1"/>
<use href="#di" x="100.0" y="725.1"/>
<use href="#di" x="111.8" y="725.1"/>
<use href="#di" x="123.5" y="725.1"/>
<use href="#di" x="135.3" y="725.1"/>
<use href="#di" x="147.0" y="725.1"/>
<use href="#di" x="158.7" y="725.1"/>
<use href="#di" x="170.5" y="725.1"/>
<use href="#di" x="182.2" y="725.1"/>
<use href="#di" x="194.0" y="725.1"/>
<use href="#di" x="205.7" y="725.1"/>
<use href="#di" x="217.5" y="725.1"/>
<use href="#ad" transform="translate(229.2,725.1) rotate(-248)"/>
<use href="#ar" transform="translate(240.9,725.1) rotate(-253)"/>
<use href="#db" x="252.7" y="725.1"/>
<use href="#db" x="6.1" y="736.8"/>
<use href="#ar" transform="translate(17.8,736.8) rotate(-118)"/>
<use href="#ad" transform="translate(29.6,736.8) rotate(-129)"/>
<use href="#di" x="41.3" y="736.8"/>
<use href="#di" x="53.1" y="736.8"/>
<use href="#di" x="64.8" y="736.8"/>
<use href="#di" x="76.6" y="736.8"/>
<use href="#di" x="88.3" y="736.8"/>
<use href="#di" x="100.0" y="736.8"/>
<use href="#di" x="111.8" y="736.8"/>
<use href="#di" x="123.5" y="736.8"/>
<use href="#di" x="135.3" y="736.8"/>
<use href="#di" x="147.0" y="736.8"/>
<use href="#di" x="158.7" y="736.8"/>
<use href="#di" x="170.5" y="736.8"/>
<use href="#di" x="182.2" y="736.8"/>
<use href="#di" x="194.0" y="736.8"/>
<use href="#di" x="205.7" y="736.8"/>
<use href="#di" x="217.5" y="736.8"/>
<use href="#ad" transform="translate(229.2,736.8) rotate(-231)"/>
<use href="#ar" transform="translate(240.9,736.8) rotate(-242)"/>
<use href="#db" x="252.7" y="736.8"/>
<use href="#db" x="6.1" y="748.5"/>
<use href="#db" x="17.8" y="748.5"/>
<use href="#ar" transform="translate(29.6,748.5) rotate(-141)"/>
<use href="#ad" transform="translate(41.3,748.5) rotate(-152)"/>
<use href="#ad" transform="translate(53.1,748.5) rotate(-169)"/>
<use href="#ad" transform="translate(64.8,748.5) rotate(-180)"/>
<use href="#ad" transform="translate(76.6,748.5) rotate(-180)"/>
<use href="#ad" transform="translate(88.3,748.5) rotate(-180)"/>
<use href="#ad" transform="translate(100.0,748.5) rotate(-180)"/>
<use href="#ad" transform="translate(111.8,748.5) rotate(-180)"/>
<use href="#ad" transform="translate(123.5,748.5) rotate(-180)"/>
<use href="#ad" transform="translate(135.3,748.5) rotate(-180)"/>
<use href="#ad" transform="translate(147.0,748.5) rotate(-180)"/>
<use href="#ad" transform="translate(158.7,748.5) rotate(-180)"/>
<use href="#ad" transform="translate(170.5,748.5) rotate(-180)"/>
<use href="#ad" transform="translate(182.2,748.5) rotate(-180)"/>
<use href="#ad" transform="translate(194.0,748.5) rotate(-180)"/>
<use href="#ad" transform="translate(205.7,748.5) rotate(-197)"/>
<use href="#ad" transform="translate(217.5,748.5) rotate(-214)"/>
<use href="#ar" transform="translate(229.2,748.5) rotate(-225)"/>
<use href="#db" x="240.9" y="748.5"/>
<use href="#db" x="252.7" y="748.5"/>
<use href="#ar" transform="translate(100.0,760.2) rotate(-180)"/>
<use href="#ar" transform="translate(111.8,760.2) rotate(-180)"/>
<use href="#ar" transform="translate(123.5,760.2) rotate(-180)"/>
<use href="#ar" transform="translate(135.3,760.2) rotate(-180)"/>
<use href="#ar" transform="translate(147.0,760.2) rotate(-180)"/>
<use href="#ar" transform="translate(158.7,760.2) rotate(-180)"/>
<use href="#ar" transform="translate(170.5,760.2) rotate(-180)"/>
<use href="#ar" transform="translate(182.2,760.2) rotate(-180)"/>
<use href="#ar" transform="translate(194.0,760.2) rotate(-180)"/>
<use href="#ar" transform="translate(205.7,760.2) rotate(-191)"/>
<use href="#ar" transform="translate(217.5,760.2) rotate(-202)"/>
<use href="#dc" x="229.2" y="760.2"/>
<use href="#dc" x="240.9" y="760.2"/>
<use href="#dc" x="252.7" y="760.2"/>
<use href="#dc" x="100.0" y="771.9"/>
<use href="#dc" x="111.8" y="771.9"/>
<use href="#dc" x="123.5" y="771.9"/>
<use href="#dc" x="135.3" y="771.9"/>
<use href="#dc" x="147.0" y="771.9"/>
<use href="#dc" x="158.7" y="771.9"/>
<use href="#dc" x="170.5" y="771.9"/>
<use href="#dc" x="182.2" y="771.9"/>
<use href="#dc" x="194.0" y="771.9"/>
<use href="#dc" x="205.7" y="771.9"/>
<use href="#dc" x="217.5" y="771.9"/>
<use href="#dc" x="229.2" y="771.9"/>
<use href="#dc" x="240.9" y="771.9"/>
<use href="#dc" x="252.7" y="771.9"/>
<use href="#dc" x="100.0" y="783.6"/>
<use href="#dc" x="111.8" y="783.6"/>
<use href="#dc" x="123.5" y="783.6"/>
<use href="#dc" x="135.3" y="783.6"/>
<use href="#dc" x="147.0" y="783.6"/>
<use href="#dc" x="158.7" y="783.6"/>
<use href="#dc" x="170.5" y="783.6"/>
<use href="#dc" x="182.2" y="783.6"/>
<use href="#dc" x="194.0" y="783.6"/>
<use href="#dc" x="205.7" y="783.6"/>
<use href="#dc" x="217.5" y="783.6"/>
<use href="#dc" x="229.2" y="783.6"/>
<use href="#dc" x="240.9" y="783.6"/>
<use href="#dc" x="252.7" y="783.6"/>
<use href="#dc" x="100.0" y="795.3"/>
<use href="#dc" x="111.8" y="795.3"/>
<use href="#dc" x="123.5" y="795.3"/>
<use href="#dc" x="135.3" y="795.3"/>
<use href="#dc" x="147.0" y="795.3"/>
<use href="#dc" x="158.7" y="795.3"/>
<use href="#dc" x="170.5" y="795.3"/>
<use href="#dc" x="182.2" y="795.3"/>
<use href="#dc" x="194.0" y="795.3"/>
<use href="#dc" x="205.7" y="795.3"/>
<use href="#dc" x="217.5" y="795.3"/>
<use href="#dc" x="229.2" y="795.3"/>
<use href="#dc" x="240.9" y="795.3"/>
<use href="#dc" x="252.7" y="795.3"/>
<use href="#dc" x="100.0" y="807.0"/>
<use href="#dc" x="111.8" y="807.0"/>
<use href="#dc" x="123.5" y="807.0"/>
<use href="#dc" x="135.3" y="807.0"/>
<use href="#dc" x="147.0" y="807.0"/>
<use href="#dc" x="158.7" y="807.0"/>
<use href="#dc" x="170.5" y="807.0"/>
<use href="#dc" x="182.2" y="807.0"/>
<use href="#dc" x="194.0" y="807.0"/>
<use href="#dc" x="205.7" y="807.0"/>
<use href="#dc" x="217.5" y="807.0"/>
<use href="#dc" x="229.2" y="807.0"/>
<use href="#dc" x="240.9" y="807.0"/>
<use href="#dc" x="252.7" y="807.0"/>
<use href="#dc" x="100.0" y="818.7"/>
<use href="#dc" x="111.8" y="818.7"/>
<use href="#dc" x="123.5" y="818.7"/>
<use href="#dc" x="135.3" y="818.7"/>
<use href="#dc" x="147.0" y="818.7"/>
<use href="#dc" x="158.7" y="818.7"/>
<use href="#dc" x="170.5" y="818.7"/>
<use href="#dc" x="182.2" y="818.7"/>
<use href="#dc" x="194.0" y="818.7"/>
<use href="#dc" x="205.7" y="818.7"/>
<use href="#dc" x="217.5" y="818.7"/>
<use href="#dc" x="229.2" y="818.7"/>
<use href="#dc" x="240.9" y="818.7"/>
<use href="#dc" x="252.7" y="818.7"/>
<use href="#dc" x="6.1" y="830.4"/>
<use href="#dc" x="17.8" y="830.4"/>
<use href="#dc" x="29.6" y="830.4"/>
<use href="#dc" x="41.3" y="830.4"/>
<use href="#dc" x="53.1" y="830.4"/>
<use href="#dc" x="64.8" y="830.4"/>
<use href="#dc" x="76.6" y="830.4"/>
<use href="#dc" x="88.3" y="830.4"/>
<use href="#dc" x="100.0" y="830.4"/>
<use href="#dc" x="111.8" y="830.4"/>
<use href="#dc" x="123.5" y="830.4"/>
<use href="#dc" x="135.3" y="830.4"/>
<use href="#dc" x="147.0" y="830.4"/>
<use href="#dc" x="158.7" y="830.4"/>
<use href="#dc" x="170.5" y="830.4"/>
<use href="#dc" x="182.2" y="830.4"/>
<use href="#dc" x="194.0" y="830.4"/>
<use href="#dc" x="205.7" y="830.4"/>
<use href="#dc" x="217.5" y="830.4"/>
<use href="#dc" x="229.2" y="830.4"/>
<use href="#dc" x="240.9" y="830.4"/>
<use href="#dc" x="252.7" y="830.4"/>
<rect x="497.3" y="584.0" width="244.2" height="243.2" fill="#cac7c0"/>
<clipPath id="cpbu"><rect x="497.3" y="584.0" width="244.2" height="243.2"/></clipPath>
<g clip-path="url(#cpbu)">
<g filter="url(#blur3)" stroke-width="15.5" stroke-linecap="butt" fill="none" opacity="1">
<path d="M507.6,709.6L507.9,703.8" stroke="#00d1ce"/>
<path d="M507.8,705.0L508.6,699.3" stroke="#00d1bc"/>
<path d="M508.4,700.5L509.8,694.8" stroke="#00d1aa"/>
<path d="M509.5,696.0L511.4,690.5" stroke="#00d198"/>
<path d="M511.0,691.7L513.4,686.4" stroke="#00d185"/>
<path d="M512.9,687.5L515.8,682.5" stroke="#00d173"/>
<path d="M515.2,683.5L518.6,678.9" stroke="#00d161"/>
<path d="M517.9,679.8L521.7,675.5" stroke="#00d14e"/>
<path d="M520.9,676.3L525.2,672.5" stroke="#00d13c"/>
<path d="M524.3,673.2L528.9,669.8" stroke="#00d12a"/>
<path d="M527.9,670.4L532.9,667.5" stroke="#00d117"/>
<path d="M531.8,668.0L537.1,665.6" stroke="#00d105"/>
<path d="M535.9,666.0L541.4,664.1" stroke="#0cd100"/>
<path d="M540.2,664.4L545.9,663.0" stroke="#1ed100"/>
<path d="M544.7,663.2L550.4,662.4" stroke="#31d100"/>
<path d="M549.2,662.5L555.0,662.2" stroke="#43d100"/>
<path d="M553.8,662.2L558.1,662.2" stroke="#4cd100"/>
<path d="M556.9,662.2L561.1,662.2" stroke="#4cd100"/>
<path d="M559.9,662.2L564.2,662.2" stroke="#4cd100"/>
<path d="M563.0,662.2L567.2,662.2" stroke="#4cd100"/>
<path d="M566.0,662.2L570.3,662.2" stroke="#4cd100"/>
<path d="M569.1,662.2L573.3,662.2" stroke="#4cd100"/>
<path d="M572.1,662.2L576.4,662.2" stroke="#4cd100"/>
<path d="M575.2,662.2L579.4,662.2" stroke="#4cd100"/>
<path d="M578.2,662.2L582.5,662.2" stroke="#4cd100"/>
<path d="M581.3,662.2L585.5,662.2" stroke="#4cd100"/>
<path d="M584.3,662.2L588.6,662.2" stroke="#4cd100"/>
<path d="M587.4,662.2L591.6,662.2" stroke="#4cd100"/>
<path d="M590.4,662.2L594.7,662.2" stroke="#4cd100"/>
<path d="M593.5,662.2L597.8,662.2" stroke="#4cd100"/>
<path d="M596.6,662.2L600.8,662.2" stroke="#4cd100"/>
<path d="M599.6,662.2L603.9,662.2" stroke="#4cd100"/>
<path d="M602.7,662.2L606.9,662.2" stroke="#4cd100"/>
<path d="M605.7,662.2L610.0,662.2" stroke="#4cd100"/>
<path d="M608.8,662.2L613.0,662.2" stroke="#4cd100"/>
<path d="M611.8,662.2L616.1,662.2" stroke="#4cd100"/>
<path d="M614.9,662.2L619.1,662.2" stroke="#4cd100"/>
<path d="M617.9,662.2L622.2,662.2" stroke="#4cd100"/>
<path d="M621.0,662.2L625.2,662.2" stroke="#4cd100"/>
<path d="M624.0,662.2L628.3,662.2" stroke="#4cd100"/>
<path d="M627.1,662.2L631.4,662.2" stroke="#4cd100"/>
<path d="M630.2,662.2L634.4,662.2" stroke="#4cd100"/>
<path d="M633.2,662.2L637.5,662.2" stroke="#4cd100"/>
<path d="M636.3,662.2L640.5,662.2" stroke="#4cd100"/>
<path d="M639.3,662.2L643.6,662.2" stroke="#4cd100"/>
<path d="M642.4,662.2L646.6,662.2" stroke="#4cd100"/>
<path d="M645.4,662.2L649.7,662.2" stroke="#4cd100"/>
<path d="M648.5,662.2L652.7,662.2" stroke="#4cd100"/>
<path d="M651.5,662.2L655.8,662.2" stroke="#4cd100"/>
<path d="M654.6,662.2L658.8,662.2" stroke="#4cd100"/>
<path d="M657.6,662.2L661.9,662.2" stroke="#4cd100"/>
<path d="M660.7,662.2L665.0,662.2" stroke="#4cd100"/>
<path d="M663.8,662.2L668.0,662.2" stroke="#4cd100"/>
<path d="M666.8,662.2L671.1,662.2" stroke="#4cd100"/>
<path d="M669.9,662.2L674.1,662.2" stroke="#4cd100"/>
<path d="M672.9,662.2L677.2,662.2" stroke="#4cd100"/>
<path d="M676.0,662.2L680.2,662.2" stroke="#4cd100"/>
<path d="M679.0,662.2L683.3,662.2" stroke="#4cd100"/>
<path d="M682.1,662.2L686.3,662.2" stroke="#4cd100"/>
<path d="M685.1,662.2L689.4,662.2" stroke="#4cd100"/>
<path d="M688.2,662.2L692.4,662.2" stroke="#4cd100"/>
<path d="M691.2,662.2L695.5,662.2" stroke="#4cd100"/>
<path d="M694.3,662.2L698.5,662.2" stroke="#4cd100"/>
<path d="M697.3,662.2L701.6,662.2" stroke="#4cd100"/>
<path d="M700.4,662.2L703.4,662.4" stroke="#43d100"/>
<path d="M702.2,662.3L705.3,662.7" stroke="#31d100"/>
<path d="M704.1,662.5L707.0,663.2" stroke="#1ed100"/>
<path d="M705.9,662.9L708.7,663.9" stroke="#0cd100"/>
<path d="M707.6,663.4L710.4,664.7" stroke="#00d105"/>
<path d="M709.3,664.2L711.9,665.7" stroke="#00d117"/>
<path d="M710.9,665.1L713.4,666.9" stroke="#00d12a"/>
<path d="M712.5,666.1L714.7,668.1" stroke="#00d13c"/>
<path d="M713.9,667.3L715.9,669.5" stroke="#00d14e"/>
<path d="M715.1,668.6L716.9,671.1" stroke="#00d161"/>
<path d="M716.3,670.1L717.8,672.7" stroke="#00d173"/>
<path d="M717.3,671.6L718.6,674.4" stroke="#00d185"/>
<path d="M718.1,673.3L719.1,676.1" stroke="#00d198"/>
<path d="M718.8,675.0L719.5,677.9" stroke="#00d1aa"/>
<path d="M719.3,676.7L719.7,679.8" stroke="#00d1bc"/>
<path d="M719.6,678.6L719.8,681.6" stroke="#00d1ce"/>
<path d="M719.8,680.4L719.8,684.6" stroke="#00cad1"/>
<path d="M719.8,683.4L719.8,687.7" stroke="#00cad1"/>
<path d="M719.8,686.5L719.8,690.7" stroke="#00cad1"/>
<path d="M719.8,689.5L719.8,693.7" stroke="#00cad1"/>
<path d="M719.8,692.5L719.8,696.7" stroke="#00cad1"/>
<path d="M719.8,695.5L719.8,699.8" stroke="#00cad1"/>
<path d="M719.8,698.6L719.8,702.8" stroke="#00cad1"/>
<path d="M719.8,701.6L719.8,705.8" stroke="#00cad1"/>
<path d="M719.8,704.6L719.8,708.8" stroke="#00cad1"/>
<path d="M719.8,707.6L719.8,711.9" stroke="#00cad1"/>
<path d="M719.8,710.7L719.8,714.9" stroke="#00cad1"/>
<path d="M719.8,713.7L719.8,717.9" stroke="#00cad1"/>
<path d="M719.8,716.7L719.8,720.9" stroke="#00cad1"/>
<path d="M719.8,719.7L719.8,724.0" stroke="#00cad1"/>
<path d="M719.8,722.8L719.8,727.0" stroke="#00cad1"/>
<path d="M719.8,725.8L719.8,730.0" stroke="#00cad1"/>
<path d="M719.8,728.8L719.8,733.0" stroke="#00cad1"/>
<path d="M719.8,731.8L719.8,736.1" stroke="#00cad1"/>
<path d="M719.8,734.9L719.8,739.1" stroke="#00cad1"/>
<path d="M719.8,737.9L719.6,740.9" stroke="#00c0d1"/>
<path d="M719.7,739.7L719.3,742.8" stroke="#00aed1"/>
<path d="M719.5,741.6L718.8,744.5" stroke="#009bd1"/>
<path d="M719.1,743.4L718.1,746.2" stroke="#0088d1"/>
<path d="M718.6,745.1L717.3,747.9" stroke="#0075d1"/>
<path d="M717.8,746.8L716.3,749.4" stroke="#0063d1"/>
<path d="M716.9,748.4L715.1,750.9" stroke="#0050d1"/>
<path d="M715.9,750.0L713.9,752.2" stroke="#003dd1"/>
<path d="M714.7,751.4L712.5,753.4" stroke="#002ad1"/>
<path d="M713.4,752.6L710.9,754.4" stroke="#0018d1"/>
<path d="M711.9,753.8L709.3,755.3" stroke="#0005d1"/>
<path d="M710.4,754.8L707.6,756.1" stroke="#0d00d1"/>
<path d="M708.7,755.6L705.9,756.6" stroke="#2000d1"/>
<path d="M707.0,756.3L704.1,757.0" stroke="#3200d1"/>
<path d="M705.3,756.8L702.2,757.2" stroke="#4500d1"/>
<path d="M703.4,757.1L700.4,757.3" stroke="#5800d1"/>
<path d="M701.6,757.2L697.3,757.2" stroke="#6100d1"/>
<path d="M698.5,757.2L694.3,757.2" stroke="#6100d1"/>
<path d="M695.5,757.2L691.2,757.2" stroke="#6100d1"/>
<path d="M692.4,757.2L688.2,757.2" stroke="#6100d1"/>
<path d="M689.4,757.2L685.1,757.2" stroke="#6100d1"/>
<path d="M686.3,757.2L682.1,757.2" stroke="#6100d1"/>
<path d="M683.3,757.2L679.0,757.2" stroke="#6100d1"/>
<path d="M680.2,757.2L676.0,757.2" stroke="#6100d1"/>
<path d="M677.2,757.2L672.9,757.2" stroke="#6100d1"/>
<path d="M674.1,757.2L669.9,757.2" stroke="#6100d1"/>
<path d="M671.1,757.2L666.8,757.2" stroke="#6100d1"/>
<path d="M668.0,757.2L663.8,757.2" stroke="#6100d1"/>
<path d="M665.0,757.2L660.7,757.2" stroke="#6100d1"/>
<path d="M661.9,757.2L657.6,757.2" stroke="#6100d1"/>
<path d="M658.8,757.2L654.6,757.2" stroke="#6100d1"/>
<path d="M655.8,757.2L651.5,757.2" stroke="#6100d1"/>
<path d="M652.7,757.2L648.5,757.2" stroke="#6100d1"/>
<path d="M649.7,757.2L645.4,757.2" stroke="#6100d1"/>
<path d="M646.6,757.2L642.4,757.2" stroke="#6100d1"/>
<path d="M643.6,757.2L639.3,757.2" stroke="#6100d1"/>
<path d="M640.5,757.2L636.3,757.2" stroke="#6100d1"/>
<path d="M637.5,757.2L633.2,757.2" stroke="#6100d1"/>
<path d="M634.4,757.2L630.2,757.2" stroke="#6100d1"/>
<path d="M631.4,757.2L627.1,757.2" stroke="#6100d1"/>
<path d="M628.3,757.2L624.0,757.2" stroke="#6100d1"/>
<path d="M625.2,757.2L621.0,757.2" stroke="#6100d1"/>
<path d="M622.2,757.2L617.9,757.2" stroke="#6100d1"/>
<path d="M619.1,757.2L614.9,757.2" stroke="#6100d1"/>
<path d="M616.1,757.2L611.8,757.2" stroke="#6100d1"/>
<path d="M613.0,757.2L608.8,757.2" stroke="#6100d1"/>
<path d="M610.0,757.2L605.7,757.2" stroke="#6100d1"/>
<path d="M606.9,757.2L602.7,757.2" stroke="#6100d1"/>
<path d="M603.9,757.2L599.6,757.2" stroke="#6100d1"/>
<path d="M600.8,757.2L596.6,757.2" stroke="#6100d1"/>
<path d="M597.8,757.2L593.5,757.2" stroke="#6100d1"/>
<path d="M594.7,757.2L590.4,757.2" stroke="#6100d1"/>
<path d="M591.6,757.2L587.4,757.2" stroke="#6100d1"/>
<path d="M588.6,757.2L584.3,757.2" stroke="#6100d1"/>
<path d="M585.5,757.2L581.3,757.2" stroke="#6100d1"/>
<path d="M582.5,757.2L578.2,757.2" stroke="#6100d1"/>
<path d="M579.4,757.2L575.2,757.2" stroke="#6100d1"/>
<path d="M576.4,757.2L572.1,757.2" stroke="#6100d1"/>
<path d="M573.3,757.2L569.1,757.2" stroke="#6100d1"/>
<path d="M570.3,757.2L566.0,757.2" stroke="#6100d1"/>
<path d="M567.2,757.2L563.0,757.2" stroke="#6100d1"/>
<path d="M564.2,757.2L559.9,757.2" stroke="#6100d1"/>
<path d="M561.1,757.2L556.9,757.2" stroke="#6100d1"/>
<path d="M558.1,757.2L553.8,757.2" stroke="#6100d1"/>
<path d="M555.0,757.3L549.2,757.0" stroke="#5800d1"/>
<path d="M550.4,757.1L544.7,756.3" stroke="#4500d1"/>
<path d="M545.9,756.5L540.2,755.1" stroke="#3200d1"/>
<path d="M541.4,755.4L535.9,753.5" stroke="#2000d1"/>
<path d="M537.1,753.9L531.8,751.5" stroke="#0d00d1"/>
<path d="M532.9,752.0L527.9,749.1" stroke="#0005d1"/>
<path d="M528.9,749.7L524.3,746.3" stroke="#0018d1"/>
<path d="M525.2,747.0L520.9,743.2" stroke="#002ad1"/>
<path d="M521.7,744.0L517.9,739.7" stroke="#003dd1"/>
<path d="M518.6,740.6L515.2,736.0" stroke="#0050d1"/>
<path d="M515.8,737.0L512.9,732.0" stroke="#0063d1"/>
<path d="M513.4,733.1L511.0,727.8" stroke="#0075d1"/>
<path d="M511.4,729.0L509.5,723.5" stroke="#0088d1"/>
<path d="M509.8,724.7L508.4,719.0" stroke="#009bd1"/>
<path d="M508.6,720.2L507.8,714.5" stroke="#00aed1"/>
<path d="M507.9,715.7L507.6,709.9" stroke="#00c0d1"/>
<path d="M507.6,711.1L507.6,708.4" stroke="#00cad1"/>
</g>
<path d="M554.4,664.5H701.0A16.5,16.5 0 0 1 717.5,681.0V738.5A16.5,16.5 0 0 1 701.0,755.0H554.4A44.5,44.5 0 0 1 509.9,710.5V709.0A44.5,44.5 0 0 1 554.4,664.5Z" fill="#000" filter="url(#blur25)"/>
</g>
<use href="#da" x="496.1" y="583.1"/>
<use href="#da" x="507.8" y="583.1"/>
<use href="#da" x="519.6" y="583.1"/>
<use href="#da" x="531.3" y="583.1"/>
<use href="#da" x="543.1" y="583.1"/>
<use href="#da" x="554.8" y="583.1"/>
<use href="#da" x="566.6" y="583.1"/>
<use href="#da" x="578.3" y="583.1"/>
<use href="#da" x="590.0" y="583.1"/>
<use href="#da" x="601.8" y="583.1"/>
<use href="#da" x="613.5" y="583.1"/>
<use href="#da" x="625.3" y="583.1"/>
<use href="#da" x="637.0" y="583.1"/>
<use href="#da" x="648.7" y="583.1"/>
<use href="#da" x="660.5" y="583.1"/>
<use href="#da" x="672.2" y="583.1"/>
<use href="#da" x="684.0" y="583.1"/>
<use href="#da" x="695.7" y="583.1"/>
<use href="#da" x="707.5" y="583.1"/>
<use href="#da" x="719.2" y="583.1"/>
<use href="#da" x="730.9" y="583.1"/>
<use href="#da" x="742.7" y="583.1"/>
<use href="#da" x="496.1" y="594.8"/>
<use href="#da" x="507.8" y="594.8"/>
<use href="#da" x="519.6" y="594.8"/>
<use href="#da" x="531.3" y="594.8"/>
<use href="#da" x="543.1" y="594.8"/>
<use href="#da" x="554.8" y="594.8"/>
<use href="#da" x="566.6" y="594.8"/>
<use href="#da" x="578.3" y="594.8"/>
<use href="#da" x="590.0" y="594.8"/>
<use href="#da" x="601.8" y="594.8"/>
<use href="#da" x="613.5" y="594.8"/>
<use href="#da" x="625.3" y="594.8"/>
<use href="#da" x="637.0" y="594.8"/>
<use href="#da" x="648.7" y="594.8"/>
<use href="#da" x="660.5" y="594.8"/>
<use href="#da" x="672.2" y="594.8"/>
<use href="#da" x="684.0" y="594.8"/>
<use href="#da" x="695.7" y="594.8"/>
<use href="#da" x="707.5" y="594.8"/>
<use href="#da" x="719.2" y="594.8"/>
<use href="#da" x="730.9" y="594.8"/>
<use href="#da" x="742.7" y="594.8"/>
<use href="#da" x="496.1" y="606.5"/>
<use href="#da" x="507.8" y="606.5"/>
<use href="#da" x="519.6" y="606.5"/>
<use href="#da" x="531.3" y="606.5"/>
<use href="#da" x="543.1" y="606.5"/>
<use href="#da" x="554.8" y="606.5"/>
<use href="#da" x="566.6" y="606.5"/>
<use href="#da" x="578.3" y="606.5"/>
<use href="#da" x="590.0" y="606.5"/>
<use href="#da" x="601.8" y="606.5"/>
<use href="#da" x="613.5" y="606.5"/>
<use href="#da" x="625.3" y="606.5"/>
<use href="#da" x="637.0" y="606.5"/>
<use href="#da" x="648.7" y="606.5"/>
<use href="#da" x="660.5" y="606.5"/>
<use href="#da" x="672.2" y="606.5"/>
<use href="#da" x="684.0" y="606.5"/>
<use href="#da" x="695.7" y="606.5"/>
<use href="#da" x="707.5" y="606.5"/>
<use href="#da" x="719.2" y="606.5"/>
<use href="#da" x="730.9" y="606.5"/>
<use href="#da" x="742.7" y="606.5"/>
<use href="#da" x="496.1" y="618.2"/>
<use href="#da" x="507.8" y="618.2"/>
<use href="#da" x="519.6" y="618.2"/>
<use href="#da" x="531.3" y="618.2"/>
<use href="#da" x="543.1" y="618.2"/>
<use href="#da" x="554.8" y="618.2"/>
<use href="#da" x="566.6" y="618.2"/>
<use href="#da" x="578.3" y="618.2"/>
<use href="#da" x="590.0" y="618.2"/>
<use href="#da" x="601.8" y="618.2"/>
<use href="#da" x="613.5" y="618.2"/>
<use href="#da" x="625.3" y="618.2"/>
<use href="#da" x="637.0" y="618.2"/>
<use href="#da" x="648.7" y="618.2"/>
<use href="#da" x="660.5" y="618.2"/>
<use href="#da" x="672.2" y="618.2"/>
<use href="#da" x="684.0" y="618.2"/>
<use href="#da" x="695.7" y="618.2"/>
<use href="#da" x="707.5" y="618.2"/>
<use href="#da" x="719.2" y="618.2"/>
<use href="#da" x="730.9" y="618.2"/>
<use href="#da" x="742.7" y="618.2"/>
<use href="#da" x="496.1" y="629.9"/>
<use href="#da" x="507.8" y="629.9"/>
<use href="#da" x="519.6" y="629.9"/>
<use href="#da" x="531.3" y="629.9"/>
<use href="#da" x="543.1" y="629.9"/>
<use href="#da" x="554.8" y="629.9"/>
<use href="#da" x="566.6" y="629.9"/>
<use href="#da" x="578.3" y="629.9"/>
<use href="#da" x="590.0" y="629.9"/>
<use href="#da" x="601.8" y="629.9"/>
<use href="#da" x="613.5" y="629.9"/>
<use href="#da" x="625.3" y="629.9"/>
<use href="#da" x="637.0" y="629.9"/>
<use href="#da" x="648.7" y="629.9"/>
<use href="#da" x="660.5" y="629.9"/>
<use href="#da" x="672.2" y="629.9"/>
<use href="#da" x="684.0" y="629.9"/>
<use href="#da" x="695.7" y="629.9"/>
<use href="#da" x="707.5" y="629.9"/>
<use href="#da" x="719.2" y="629.9"/>
<use href="#da" x="730.9" y="629.9"/>
<use href="#da" x="742.7" y="629.9"/>
<use href="#da" x="496.1" y="641.6"/>
<use href="#da" x="507.8" y="641.6"/>
<use href="#da" x="519.6" y="641.6"/>
<use href="#da" x="531.3" y="641.6"/>
<use href="#da" x="543.1" y="641.6"/>
<use href="#da" x="554.8" y="641.6"/>
<use href="#da" x="566.6" y="641.6"/>
<use href="#da" x="578.3" y="641.6"/>
<use href="#da" x="590.0" y="641.6"/>
<use href="#da" x="601.8" y="641.6"/>
<use href="#da" x="613.5" y="641.6"/>
<use href="#da" x="625.3" y="641.6"/>
<use href="#da" x="637.0" y="641.6"/>
<use href="#da" x="648.7" y="641.6"/>
<use href="#da" x="660.5" y="641.6"/>
<use href="#da" x="672.2" y="641.6"/>
<use href="#da" x="684.0" y="641.6"/>
<use href="#da" x="695.7" y="641.6"/>
<use href="#da" x="707.5" y="641.6"/>
<use href="#da" x="719.2" y="641.6"/>
<use href="#da" x="730.9" y="641.6"/>
<use href="#da" x="742.7" y="641.6"/>
<use href="#da" x="496.1" y="653.3"/>
<use href="#da" x="507.8" y="653.3"/>
<use href="#da" x="519.6" y="653.3"/>
<use href="#da" x="531.3" y="653.3"/>
<use href="#da" x="543.1" y="653.3"/>
<use href="#ar" transform="translate(554.8,653.3) rotate(-0)"/>
<use href="#ar" transform="translate(566.6,653.3) rotate(0)"/>
<use href="#ar" transform="translate(578.3,653.3) rotate(0)"/>
<use href="#ar" transform="translate(590.0,653.3) rotate(0)"/>
<use href="#ar" transform="translate(601.8,653.3) rotate(0)"/>
<use href="#ar" transform="translate(613.5,653.3) rotate(0)"/>
<use href="#ar" transform="translate(625.3,653.3) rotate(0)"/>
<use href="#ar" transform="translate(637.0,653.3) rotate(0)"/>
<use href="#ar" transform="translate(648.7,653.3) rotate(0)"/>
<use href="#ar" transform="translate(660.5,653.3) rotate(0)"/>
<use href="#ar" transform="translate(672.2,653.3) rotate(0)"/>
<use href="#ar" transform="translate(684.0,653.3) rotate(0)"/>
<use href="#ar" transform="translate(695.7,653.3) rotate(0)"/>
<use href="#ar" transform="translate(707.5,653.3) rotate(-11)"/>
<use href="#da" x="719.2" y="653.3"/>
<use href="#da" x="730.9" y="653.3"/>
<use href="#da" x="742.7" y="653.3"/>
<use href="#db" x="496.1" y="665.0"/>
<use href="#db" x="507.8" y="665.0"/>
<use href="#ar" transform="translate(519.6,665.0) rotate(-39)"/>
<use href="#ar" transform="translate(531.3,665.0) rotate(-28)"/>
<use href="#ar" transform="translate(543.1,665.0) rotate(-17)"/>
<use href="#ad" transform="translate(554.8,665.0) rotate(-0)"/>
<use href="#ad" transform="translate(566.6,665.0) rotate(0)"/>
<use href="#ad" transform="translate(578.3,665.0) rotate(0)"/>
<use href="#ad" transform="translate(590.0,665.0) rotate(0)"/>
<use href="#ad" transform="translate(601.8,665.0) rotate(0)"/>
<use href="#ad" transform="translate(613.5,665.0) rotate(0)"/>
<use href="#ad" transform="translate(625.3,665.0) rotate(0)"/>
<use href="#ad" transform="translate(637.0,665.0) rotate(0)"/>
<use href="#ad" transform="translate(648.7,665.0) rotate(0)"/>
<use href="#ad" transform="translate(660.5,665.0) rotate(0)"/>
<use href="#ad" transform="translate(672.2,665.0) rotate(0)"/>
<use href="#ad" transform="translate(684.0,665.0) rotate(0)"/>
<use href="#ad" transform="translate(695.7,665.0) rotate(0)"/>
<use href="#ar" transform="translate(707.5,665.0) rotate(-22)"/>
<use href="#ar" transform="translate(719.2,665.0) rotate(-51)"/>
<use href="#db" x="730.9" y="665.0"/>
<use href="#db" x="742.7" y="665.0"/>
<use href="#db" x="496.1" y="676.7"/>
<use href="#db" x="507.8" y="676.7"/>
<use href="#ar" transform="translate(519.6,676.7) rotate(-45)"/>
<use href="#ad" transform="translate(531.3,676.7) rotate(-34)"/>
<use href="#di" x="543.1" y="676.7"/>
<use href="#di" x="554.8" y="676.7"/>
<use href="#di" x="566.6" y="676.7"/>
<use href="#di" x="578.3" y="676.7"/>
<use href="#di" x="590.0" y="676.7"/>
<use href="#di" x="601.8" y="676.7"/>
<use href="#di" x="613.5" y="676.7"/>
<use href="#di" x="625.3" y="676.7"/>
<use href="#di" x="637.0" y="676.7"/>
<use href="#di" x="648.7" y="676.7"/>
<use href="#di" x="660.5" y="676.7"/>
<use href="#di" x="672.2" y="676.7"/>
<use href="#di" x="684.0" y="676.7"/>
<use href="#di" x="695.7" y="676.7"/>
<use href="#di" x="707.5" y="676.7"/>
<use href="#ar" transform="translate(719.2,676.7) rotate(-79)"/>
<use href="#db" x="730.9" y="676.7"/>
<use href="#db" x="742.7" y="676.7"/>
<use href="#db" x="496.1" y="688.4"/>
<use href="#ar" transform="translate(507.8,688.4) rotate(-68)"/>
<use href="#ad" transform="translate(519.6,688.4) rotate(-62)"/>
<use href="#di" x="531.3" y="688.4"/>
<use href="#di" x="543.1" y="688.4"/>
<use href="#di" x="554.8" y="688.4"/>
<use href="#di" x="566.6" y="688.4"/>
<use href="#di" x="578.3" y="688.4"/>
<use href="#di" x="590.0" y="688.4"/>
<use href="#di" x="601.8" y="688.4"/>
<use href="#di" x="613.5" y="688.4"/>
<use href="#di" x="625.3" y="688.4"/>
<use href="#di" x="637.0" y="688.4"/>
<use href="#di" x="648.7" y="688.4"/>
<use href="#di" x="660.5" y="688.4"/>
<use href="#di" x="672.2" y="688.4"/>
<use href="#di" x="684.0" y="688.4"/>
<use href="#di" x="695.7" y="688.4"/>
<use href="#di" x="707.5" y="688.4"/>
<use href="#ar" transform="translate(719.2,688.4) rotate(-90)"/>
<use href="#db" x="730.9" y="688.4"/>
<use href="#db" x="742.7" y="688.4"/>
<use href="#db" x="496.1" y="700.1"/>
<use href="#ar" transform="translate(507.8,700.1) rotate(-79)"/>
<use href="#ad" transform="translate(519.6,700.1) rotate(-73)"/>
<use href="#di" x="531.3" y="700.1"/>
<use href="#di" x="543.1" y="700.1"/>
<use href="#di" x="554.8" y="700.1"/>
<use href="#di" x="566.6" y="700.1"/>
<use href="#di" x="578.3" y="700.1"/>
<use href="#di" x="590.0" y="700.1"/>
<use href="#di" x="601.8" y="700.1"/>
<use href="#di" x="613.5" y="700.1"/>
<use href="#di" x="625.3" y="700.1"/>
<use href="#di" x="637.0" y="700.1"/>
<use href="#di" x="648.7" y="700.1"/>
<use href="#di" x="660.5" y="700.1"/>
<use href="#di" x="672.2" y="700.1"/>
<use href="#di" x="684.0" y="700.1"/>
<use href="#di" x="695.7" y="700.1"/>
<use href="#di" x="707.5" y="700.1"/>
<use href="#ar" transform="translate(719.2,700.1) rotate(-90)"/>
<use href="#db" x="730.9" y="700.1"/>
<use href="#db" x="742.7" y="700.1"/>
<use href="#db" x="496.1" y="711.9"/>
<use href="#ar" transform="translate(507.8,711.9) rotate(-90)"/>
<use href="#di" x="519.6" y="711.9"/>
<use href="#di" x="531.3" y="711.9"/>
<use href="#di" x="543.1" y="711.9"/>
<use href="#di" x="554.8" y="711.9"/>
<use href="#di" x="566.6" y="711.9"/>
<use href="#di" x="578.3" y="711.9"/>
<use href="#di" x="590.0" y="711.9"/>
<use href="#di" x="601.8" y="711.9"/>
<use href="#di" x="613.5" y="711.9"/>
<use href="#di" x="625.3" y="711.9"/>
<use href="#di" x="637.0" y="711.9"/>
<use href="#di" x="648.7" y="711.9"/>
<use href="#di" x="660.5" y="711.9"/>
<use href="#di" x="672.2" y="711.9"/>
<use href="#di" x="684.0" y="711.9"/>
<use href="#di" x="695.7" y="711.9"/>
<use href="#di" x="707.5" y="711.9"/>
<use href="#ar" transform="translate(719.2,711.9) rotate(-90)"/>
<use href="#db" x="730.9" y="711.9"/>
<use href="#db" x="742.7" y="711.9"/>
<use href="#db" x="496.1" y="723.6"/>
<use href="#ar" transform="translate(507.8,723.6) rotate(-107)"/>
<use href="#ad" transform="translate(519.6,723.6) rotate(-112)"/>
<use href="#di" x="531.3" y="723.6"/>
<use href="#di" x="543.1" y="723.6"/>
<use href="#di" x="554.8" y="723.6"/>
<use href="#di" x="566.6" y="723.6"/>
<use href="#di" x="578.3" y="723.6"/>
<use href="#di" x="590.0" y="723.6"/>
<use href="#di" x="601.8" y="723.6"/>
<use href="#di" x="613.5" y="723.6"/>
<use href="#di" x="625.3" y="723.6"/>
<use href="#di" x="637.0" y="723.6"/>
<use href="#di" x="648.7" y="723.6"/>
<use href="#di" x="660.5" y="723.6"/>
<use href="#di" x="672.2" y="723.6"/>
<use href="#di" x="684.0" y="723.6"/>
<use href="#di" x="695.7" y="723.6"/>
<use href="#di" x="707.5" y="723.6"/>
<use href="#ar" transform="translate(719.2,723.6) rotate(-90)"/>
<use href="#db" x="730.9" y="723.6"/>
<use href="#db" x="742.7" y="723.6"/>
<use href="#db" x="496.1" y="735.3"/>
<use href="#ar" transform="translate(507.8,735.3) rotate(-118)"/>
<use href="#ad" transform="translate(519.6,735.3) rotate(-124)"/>
<use href="#di" x="531.3" y="735.3"/>
<use href="#di" x="543.1" y="735.3"/>
<use href="#di" x="554.8" y="735.3"/>
<use href="#di" x="566.6" y="735.3"/>
<use href="#di" x="578.3" y="735.3"/>
<use href="#di" x="590.0" y="735.3"/>
<use href="#di" x="601.8" y="735.3"/>
<use href="#di" x="613.5" y="735.3"/>
<use href="#di" x="625.3" y="735.3"/>
<use href="#di" x="637.0" y="735.3"/>
<use href="#di" x="648.7" y="735.3"/>
<use href="#di" x="660.5" y="735.3"/>
<use href="#di" x="672.2" y="735.3"/>
<use href="#di" x="684.0" y="735.3"/>
<use href="#di" x="695.7" y="735.3"/>
<use href="#di" x="707.5" y="735.3"/>
<use href="#ar" transform="translate(719.2,735.3) rotate(-90)"/>
<use href="#db" x="730.9" y="735.3"/>
<use href="#db" x="742.7" y="735.3"/>
<use href="#db" x="496.1" y="747.0"/>
<use href="#ad" transform="translate(590.0,747.0) rotate(-180)"/>
<use href="#ad" transform="translate(601.8,747.0) rotate(-180)"/>
<use href="#ad" transform="translate(613.5,747.0) rotate(-180)"/>
<use href="#ad" transform="translate(625.3,747.0) rotate(-180)"/>
<use href="#ad" transform="translate(637.0,747.0) rotate(-180)"/>
<use href="#ad" transform="translate(648.7,747.0) rotate(-180)"/>
<use href="#ad" transform="translate(660.5,747.0) rotate(-180)"/>
<use href="#ad" transform="translate(672.2,747.0) rotate(-180)"/>
<use href="#ad" transform="translate(684.0,747.0) rotate(-180)"/>
<use href="#ad" transform="translate(695.7,747.0) rotate(-180)"/>
<use href="#ad" transform="translate(707.5,747.0) rotate(-141)"/>
<use href="#ar" transform="translate(719.2,747.0) rotate(-112)"/>
<use href="#db" x="730.9" y="747.0"/>
<use href="#db" x="742.7" y="747.0"/>
<use href="#dc" x="496.1" y="758.7"/>
<use href="#ar" transform="translate(590.0,758.7) rotate(-180)"/>
<use href="#ar" transform="translate(601.8,758.7) rotate(-180)"/>
<use href="#ar" transform="translate(613.5,758.7) rotate(-180)"/>
<use href="#ar" transform="translate(625.3,758.7) rotate(-180)"/>
<use href="#ar" transform="translate(637.0,758.7) rotate(-180)"/>
<use href="#ar" transform="translate(648.7,758.7) rotate(-180)"/>
<use href="#ar" transform="translate(660.5,758.7) rotate(-180)"/>
<use href="#ar" transform="translate(672.2,758.7) rotate(-180)"/>
<use href="#ar" transform="translate(684.0,758.7) rotate(-180)"/>
<use href="#ar" transform="translate(695.7,758.7) rotate(-180)"/>
<use href="#ar" transform="translate(707.5,758.7) rotate(-163)"/>
<use href="#ar" transform="translate(719.2,758.7) rotate(-141)"/>
<use href="#dc" x="730.9" y="758.7"/>
<use href="#dc" x="742.7" y="758.7"/>
<use href="#dc" x="496.1" y="770.4"/>
<use href="#dc" x="590.0" y="770.4"/>
<use href="#dc" x="601.8" y="770.4"/>
<use href="#dc" x="613.5" y="770.4"/>
<use href="#dc" x="625.3" y="770.4"/>
<use href="#dc" x="637.0" y="770.4"/>
<use href="#dc" x="648.7" y="770.4"/>
<use href="#dc" x="660.5" y="770.4"/>
<use href="#dc" x="672.2" y="770.4"/>
<use href="#dc" x="684.0" y="770.4"/>
<use href="#dc" x="695.7" y="770.4"/>
<use href="#dc" x="707.5" y="770.4"/>
<use href="#dc" x="719.2" y="770.4"/>
<use href="#dc" x="730.9" y="770.4"/>
<use href="#dc" x="742.7" y="770.4"/>
<use href="#dc" x="496.1" y="782.1"/>
<use href="#dc" x="590.0" y="782.1"/>
<use href="#dc" x="601.8" y="782.1"/>
<use href="#dc" x="613.5" y="782.1"/>
<use href="#dc" x="625.3" y="782.1"/>
<use href="#dc" x="637.0" y="782.1"/>
<use href="#dc" x="648.7" y="782.1"/>
<use href="#dc" x="660.5" y="782.1"/>
<use href="#dc" x="672.2" y="782.1"/>
<use href="#dc" x="684.0" y="782.1"/>
<use href="#dc" x="695.7" y="782.1"/>
<use href="#dc" x="707.5" y="782.1"/>
<use href="#dc" x="719.2" y="782.1"/>
<use href="#dc" x="730.9" y="782.1"/>
<use href="#dc" x="742.7" y="782.1"/>
<use href="#dc" x="496.1" y="793.8"/>
<use href="#dc" x="590.0" y="793.8"/>
<use href="#dc" x="601.8" y="793.8"/>
<use href="#dc" x="613.5" y="793.8"/>
<use href="#dc" x="625.3" y="793.8"/>
<use href="#dc" x="637.0" y="793.8"/>
<use href="#dc" x="648.7" y="793.8"/>
<use href="#dc" x="660.5" y="793.8"/>
<use href="#dc" x="672.2" y="793.8"/>
<use href="#dc" x="684.0" y="793.8"/>
<use href="#dc" x="695.7" y="793.8"/>
<use href="#dc" x="707.5" y="793.8"/>
<use href="#dc" x="719.2" y="793.8"/>
<use href="#dc" x="730.9" y="793.8"/>
<use href="#dc" x="742.7" y="793.8"/>
<use href="#dc" x="496.1" y="805.5"/>
<use href="#dc" x="590.0" y="805.5"/>
<use href="#dc" x="601.8" y="805.5"/>
<use href="#dc" x="613.5" y="805.5"/>
<use href="#dc" x="625.3" y="805.5"/>
<use href="#dc" x="637.0" y="805.5"/>
<use href="#dc" x="648.7" y="805.5"/>
<use href="#dc" x="660.5" y="805.5"/>
<use href="#dc" x="672.2" y="805.5"/>
<use href="#dc" x="684.0" y="805.5"/>
<use href="#dc" x="695.7" y="805.5"/>
<use href="#dc" x="707.5" y="805.5"/>
<use href="#dc" x="719.2" y="805.5"/>
<use href="#dc" x="730.9" y="805.5"/>
<use href="#dc" x="742.7" y="805.5"/>
<use href="#dc" x="496.1" y="817.2"/>
<use href="#dc" x="590.0" y="817.2"/>
<use href="#dc" x="601.8" y="817.2"/>
<use href="#dc" x="613.5" y="817.2"/>
<use href="#dc" x="625.3" y="817.2"/>
<use href="#dc" x="637.0" y="817.2"/>
<use href="#dc" x="648.7" y="817.2"/>
<use href="#dc" x="660.5" y="817.2"/>
<use href="#dc" x="672.2" y="817.2"/>
<use href="#dc" x="684.0" y="817.2"/>
<use href="#dc" x="695.7" y="817.2"/>
<use href="#dc" x="707.5" y="817.2"/>
<use href="#dc" x="719.2" y="817.2"/>
<use href="#dc" x="730.9" y="817.2"/>
<use href="#dc" x="742.7" y="817.2"/>
<use href="#dc" x="496.1" y="828.9"/>
<use href="#dc" x="507.8" y="828.9"/>
<use href="#dc" x="519.6" y="828.9"/>
<use href="#dc" x="531.3" y="828.9"/>
<use href="#dc" x="543.1" y="828.9"/>
<use href="#dc" x="554.8" y="828.9"/>
<use href="#dc" x="566.6" y="828.9"/>
<use href="#dc" x="578.3" y="828.9"/>
<use href="#dc" x="590.0" y="828.9"/>
<use href="#dc" x="601.8" y="828.9"/>
<use href="#dc" x="613.5" y="828.9"/>
<use href="#dc" x="625.3" y="828.9"/>
<use href="#dc" x="637.0" y="828.9"/>
<use href="#dc" x="648.7" y="828.9"/>
<use href="#dc" x="660.5" y="828.9"/>
<use href="#dc" x="672.2" y="828.9"/>
<use href="#dc" x="684.0" y="828.9"/>
<use href="#dc" x="695.7" y="828.9"/>
<use href="#dc" x="707.5" y="828.9"/>
<use href="#dc" x="719.2" y="828.9"/>
<use href="#dc" x="730.9" y="828.9"/>
<use href="#dc" x="742.7" y="828.9"/>
<rect x="5.0" y="208.0" width="84.5" height="84.2" fill="url(#insg)"/>
<rect x="497.3" y="208.1" width="83.6" height="84.2" fill="url(#insg)"/><g filter="url(#blur05)" fill="none" stroke-linecap="round"><path d="M512.0,233.2Q540.0,234.8 569.0,233.2" stroke="#727272" stroke-width="2.5"/><path d="M512.0,267.6Q540.0,268.8 569.0,267.6" stroke="#727272" stroke-width="2.5"/><path d="M510.5,237.1Q540.0,238.7 570.5,237.1" stroke="#fff" stroke-width="3.1"/><path d="M510.5,262.6Q540.0,263.9 570.5,262.6" stroke="#fff" stroke-width="3.1"/><path d="M509.3,238.2Q505.0,250.0 509.3,262.0" stroke="#fff" stroke-width="2.9"/><path d="M572.0,238.2Q576.3,250.0 572.0,262.0" stroke="#fff" stroke-width="2.9"/><path d="M512.5,234.7Q540.0,236.4 568.5,234.7" stroke="#000" stroke-width="2.7"/><path d="M512.5,265.2Q540.0,266.5 568.5,265.2" stroke="#000" stroke-width="2.7"/><path d="M511.6,240.2Q508.2,250.0 511.6,259.8" stroke="#000" stroke-width="3.2"/><path d="M569.7,240.2Q573.1,250.0 569.7,259.8" stroke="#000" stroke-width="3.2"/></g>
<rect x="6.7" y="747.6" width="84.2" height="83.5" fill="url(#insg)"/><g filter="url(#blur05)" fill="none"><path d="M27.1,772.6H70.1A17.400000000000013,17.400000000000013 0 0 1 87.5,790.0V790.0A17.400000000000013,17.400000000000013 0 0 1 70.1,807.4H27.1A17.400000000000013,17.400000000000013 0 0 1 9.7,790.0V790.0A17.400000000000013,17.400000000000013 0 0 1 27.1,772.6Z" stroke="#6e6e6e" stroke-width="2.4"/><path d="M27.1,774.2H70.1A15.800000000000011,15.800000000000011 0 0 1 85.9,790.0V790.0A15.800000000000011,15.800000000000011 0 0 1 70.1,805.8H27.1A15.800000000000011,15.800000000000011 0 0 1 11.3,790.0V790.0A15.800000000000011,15.800000000000011 0 0 1 27.1,774.2Z" stroke="#000" stroke-width="2.8"/><path d="M27.1,776.5H70.1A13.50000000000001,13.50000000000001 0 0 1 83.6,790.0V790.0A13.50000000000001,13.50000000000001 0 0 1 70.1,803.5H27.1A13.50000000000001,13.50000000000001 0 0 1 13.6,790.0V790.0A13.50000000000001,13.50000000000001 0 0 1 27.1,776.5Z" stroke="#fff" stroke-width="3.4"/><path d="M27.1,779.2H70.1A10.800000000000011,10.800000000000011 0 0 1 80.9,790.0V790.0A10.800000000000011,10.800000000000011 0 0 1 70.1,800.8H27.1A10.800000000000011,10.800000000000011 0 0 1 16.3,790.0V790.0A10.800000000000011,10.800000000000011 0 0 1 27.1,779.2Z" stroke="#a8a8a8" stroke-width="2.5"/></g>
<rect x="497.6" y="745.1" width="83.5" height="83.6" fill="url(#insg)"/><g filter="url(#blur05)" fill="none" stroke-linecap="round"><path d="M567.5,769.9H521.1A17.700000000000024,17.700000000000024 0 0 0 521.1,805.3000000000001H567.5" stroke="#6e6e6e" stroke-width="2.4"/><path d="M569.0,773.9H521.1A13.700000000000022,13.700000000000022 0 0 0 521.1,801.3000000000001H569.0" stroke="#fff" stroke-width="3.3"/><path d="M571.5,774.0Q578.8,787.6 571.5,801.2" stroke="#fff" stroke-width="2.9"/><path d="M567.5,771.5H521.1A16.100000000000023,16.100000000000023 0 0 0 521.1,803.7H567.5" stroke="#000" stroke-width="2.8"/><path d="M568.8,775.7Q574.8,787.6 568.8,799.5" stroke="#000" stroke-width="3.3"/></g>
<text transform="translate(164.99,283.8) scale(0.97,1)" font-size="40" font-style="italic" font-family="Liberation Sans, sans-serif">Q</text><text transform="translate(204.51,283.8) scale(0.97,1)" font-size="40" font-family="Liberation Sans, sans-serif">=</text><text transform="translate(238.09,283.8) scale(0.97,1)" font-size="40" font-family="Liberation Sans, sans-serif">0</text>
<text transform="translate(654.99,283.8) scale(0.97,1)" font-size="40" font-style="italic" font-family="Liberation Sans, sans-serif">Q</text><text transform="translate(694.51,283.8) scale(0.97,1)" font-size="40" font-family="Liberation Sans, sans-serif">=</text><text transform="translate(728.90,283.8) scale(0.7,1)" font-size="40" font-family="Liberation Sans, sans-serif">1</text>
<text transform="translate(145.79,817.4) scale(0.97,1)" font-size="40" font-style="italic" font-family="Liberation Sans, sans-serif">Q</text><text transform="translate(186.31,817.4) scale(0.97,1)" font-size="40" font-family="Liberation Sans, sans-serif">=</text><text transform="translate(219.47,817.4) scale(0.97,1)" font-size="40" font-family="Liberation Sans, sans-serif">-</text><text transform="translate(233.90,817.4) scale(0.7,1)" font-size="40" font-family="Liberation Sans, sans-serif">1</text>
<text transform="translate(652.09,817.7) scale(0.97,1)" font-size="40" font-style="italic" font-family="Liberation Sans, sans-serif">Q</text><text transform="translate(691.11,817.7) scale(0.97,1)" font-size="40" font-family="Liberation Sans, sans-serif">=</text><text transform="translate(725.19,817.7) scale(0.97,1)" font-size="40" font-family="Liberation Sans, sans-serif">0</text>
<path d="M273.2,151.3L476.0,151.3" stroke="#2f5597" stroke-width="2.6" fill="none"/>
<path d="M475.5,150.8L455.6,141.0" stroke="#2f5597" stroke-width="3.2" stroke-linecap="round" fill="none"/>
<path d="M272.0,180.7L471.8,180.7" stroke="#c00000" stroke-width="2.6" fill="none"/>
<path d="M272.5,181.2L292.0,190.6" stroke="#c00000" stroke-width="3.2" stroke-linecap="round" fill="none"/>
<g transform="translate(279.2,133) rotate(0) scale(1.0)" fill="#2f5597" stroke="#2f5597" stroke-width="0.45"><text x="3.6" y="0" font-size="35" font-style="italic" font-family="Liberation Serif, serif">j</text><path d="M43.6,-19.7H37A9.85,9.85 0 0 0 37,0H43.6M27.3,-9.85H43.6" fill="none" stroke="#2f5597" stroke-width="2.2"/><path d="M66.8,-25.2H59.7V4.9H66.8" fill="none" stroke="#2f5597" stroke-width="2.1"/><text x="68.4" y="0" font-size="35" font-style="italic" font-family="Liberation Serif, serif">j</text><text x="79.5" y="6" font-size="23" textLength="24" lengthAdjust="spacingAndGlyphs" font-family="Liberation Serif, serif">c1</text><text x="106.5" y="0" font-size="33" font-family="Liberation Serif, serif">,</text><text x="120.8" y="0" font-size="35" font-style="italic" font-family="Liberation Serif, serif">j</text><text x="131.6" y="6" font-size="23" textLength="24" lengthAdjust="spacingAndGlyphs" font-family="Liberation Serif, serif">c2</text><path d="M159.8,-25.2H166.9V4.9H159.8" fill="none" stroke="#2f5597" stroke-width="2.1"/></g>
<g transform="translate(327.8,215.5) rotate(0)" fill="#c00000" stroke="#c00000" stroke-width="0.45"><text x="3.6" y="0" font-size="35" font-style="italic" font-family="Liberation Serif, serif">j</text><path d="M27.8,-19.6L47.6,-9.7L27.8,0.2" fill="none" stroke="#c00000" stroke-width="2" stroke-linejoin="miter"/><text x="60.7" y="0" font-size="35" font-style="italic" font-family="Liberation Serif, serif">j</text><text x="72.6" y="6" font-size="23" textLength="24" lengthAdjust="spacingAndGlyphs" font-family="Liberation Serif, serif">c4</text></g>
<path d="M111.5,338.5L111.5,532.7" stroke="#c00000" stroke-width="2.6" fill="none"/>
<path d="M111.0,339.0L101.2,358.0" stroke="#c00000" stroke-width="3.2" stroke-linecap="round" fill="none"/>
<path d="M134.2,337.0L134.2,534.0" stroke="#2f5597" stroke-width="2.6" fill="none"/>
<path d="M134.7,533.5L144.6,514.8" stroke="#2f5597" stroke-width="3.2" stroke-linecap="round" fill="none"/>
<g transform="translate(82.4,491.5) rotate(-90)" fill="#c00000" stroke="#c00000" stroke-width="0.45"><text x="3.6" y="0" font-size="35" font-style="italic" font-family="Liberation Serif, serif">j</text><path d="M27.8,-19.6L47.6,-9.7L27.8,0.2" fill="none" stroke="#c00000" stroke-width="2" stroke-linejoin="miter"/><text x="60.7" y="0" font-size="35" font-style="italic" font-family="Liberation Serif, serif">j</text><text x="72.6" y="6" font-size="23" textLength="24" lengthAdjust="spacingAndGlyphs" font-family="Liberation Serif, serif">c4</text></g>
<g transform="translate(159.5,345.5) rotate(90) scale(1.0)" fill="#2f5597" stroke="#2f5597" stroke-width="0.45"><text x="3.6" y="0" font-size="35" font-style="italic" font-family="Liberation Serif, serif">j</text><path d="M43.6,-19.7H37A9.85,9.85 0 0 0 37,0H43.6M27.3,-9.85H43.6" fill="none" stroke="#2f5597" stroke-width="2.2"/><path d="M66.8,-25.2H59.7V4.9H66.8" fill="none" stroke="#2f5597" stroke-width="2.1"/><text x="68.4" y="0" font-size="35" font-style="italic" font-family="Liberation Serif, serif">j</text><text x="79.5" y="6" font-size="23" textLength="24" lengthAdjust="spacingAndGlyphs" font-family="Liberation Serif, serif">c3</text><text x="106.5" y="0" font-size="33" font-family="Liberation Serif, serif">,</text><text x="120.8" y="0" font-size="35" font-style="italic" font-family="Liberation Serif, serif">j</text><text x="131.6" y="6" font-size="23" textLength="24" lengthAdjust="spacingAndGlyphs" font-family="Liberation Serif, serif">c4</text><path d="M159.8,-25.2H166.9V4.9H159.8" fill="none" stroke="#2f5597" stroke-width="2.1"/></g>
<path d="M615.5,340.9L615.5,532.0" stroke="#000" stroke-width="2.8" fill="none"/>
<path d="M605.2,513.4L615.5,531.2L625.8,513.4" stroke="#000" stroke-width="2.8" fill="none" stroke-linejoin="miter" stroke-linecap="round"/>
<g transform="translate(635.5,346) rotate(90) scale(1.0)" fill="#000" stroke="#000" stroke-width="0.45"><text x="3.6" y="0" font-size="35" font-style="italic" font-family="Liberation Serif, serif">j</text><path d="M43.6,-19.7H37A9.85,9.85 0 0 0 37,0H43.6M27.3,-9.85H43.6" fill="none" stroke="#000" stroke-width="2.2"/><path d="M66.8,-25.2H59.7V4.9H66.8" fill="none" stroke="#000" stroke-width="2.1"/><text x="68.4" y="0" font-size="35" font-style="italic" font-family="Liberation Serif, serif">j</text><text x="79.5" y="6" font-size="23" textLength="24" lengthAdjust="spacingAndGlyphs" font-family="Liberation Serif, serif">c2</text><text x="106.5" y="0" font-size="33" font-family="Liberation Serif, serif">,</text><text x="120.8" y="0" font-size="35" font-style="italic" font-family="Liberation Serif, serif">j</text><text x="131.6" y="6" font-size="23" textLength="24" lengthAdjust="spacingAndGlyphs" font-family="Liberation Serif, serif">c3</text><path d="M159.8,-25.2H166.9V4.9H159.8" fill="none" stroke="#000" stroke-width="2.1"/></g>
<path d="M476.4,316.0L256.8,545.2" stroke="#000" stroke-width="2.8" fill="none"/>
<path d="M262.8,524.0L256.8,545.2L277.7,538.3" stroke="#000" stroke-width="2.8" fill="none" stroke-linejoin="miter" stroke-linecap="round"/>
<path d="M283.0,325.6L497.0,533.2" stroke="#2f5597" stroke-width="3.1" fill="none"/>
<path d="M496.8,532.6L489.5,511.8" stroke="#2f5597" stroke-width="3.2" stroke-linecap="round" fill="none"/>
<path d="M271.0,343.1L476.0,543.7" stroke="#c00000" stroke-width="3.2" fill="none"/>
<path d="M271.0,343.2L275.6,362.0" stroke="#c00000" stroke-width="3.2" stroke-linecap="round" fill="none"/>
<g transform="translate(226.0,544.6) rotate(-45.3) scale(0.985)" fill="#000" stroke="#000" stroke-width="0.45"><text x="3.6" y="0" font-size="35" font-style="italic" font-family="Liberation Serif, serif">j</text><path d="M43.6,-19.7H37A9.85,9.85 0 0 0 37,0H43.6M27.3,-9.85H43.6" fill="none" stroke="#000" stroke-width="2.2"/><path d="M66.8,-25.2H59.7V4.9H66.8" fill="none" stroke="#000" stroke-width="2.1"/><text x="68.4" y="0" font-size="35" font-style="italic" font-family="Liberation Serif, serif">j</text><text x="79.5" y="6" font-size="23" textLength="24" lengthAdjust="spacingAndGlyphs" font-family="Liberation Serif, serif">c3</text><text x="106.5" y="0" font-size="33" font-family="Liberation Serif, serif">,</text><text x="120.8" y="0" font-size="35" font-style="italic" font-family="Liberation Serif, serif">j</text><text x="131.6" y="6" font-size="23" textLength="24" lengthAdjust="spacingAndGlyphs" font-family="Liberation Serif, serif">c4</text><path d="M159.8,-25.2H166.9V4.9H159.8" fill="none" stroke="#000" stroke-width="2.1"/></g>
<g transform="translate(393.8,409.0) rotate(45) scale(1.0)" fill="#2f5597" stroke="#2f5597" stroke-width="0.45"><text x="3.6" y="0" font-size="35" font-style="italic" font-family="Liberation Serif, serif">j</text><path d="M43.6,-19.7H37A9.85,9.85 0 0 0 37,0H43.6M27.3,-9.85H43.6" fill="none" stroke="#2f5597" stroke-width="2.2"/><path d="M66.8,-25.2H59.7V4.9H66.8" fill="none" stroke="#2f5597" stroke-width="2.1"/><text x="68.4" y="0" font-size="35" font-style="italic" font-family="Liberation Serif, serif">j</text><text x="79.5" y="6" font-size="23" textLength="24" lengthAdjust="spacingAndGlyphs" font-family="Liberation Serif, serif">c2</text><text x="106.5" y="0" font-size="33" font-family="Liberation Serif, serif">,</text><text x="120.8" y="0" font-size="35" font-style="italic" font-family="Liberation Serif, serif">j</text><text x="131.6" y="6" font-size="23" textLength="24" lengthAdjust="spacingAndGlyphs" font-family="Liberation Serif, serif">c3</text><path d="M159.8,-25.2H166.9V4.9H159.8" fill="none" stroke="#2f5597" stroke-width="2.1"/></g>
<g transform="translate(370.6,486.7) rotate(45)" fill="#c00000" stroke="#c00000" stroke-width="0.45"><text x="3.6" y="0" font-size="35" font-style="italic" font-family="Liberation Serif, serif">j</text><path d="M27.8,-19.6L47.6,-9.7L27.8,0.2" fill="none" stroke="#c00000" stroke-width="2" stroke-linejoin="miter"/><text x="60.7" y="0" font-size="35" font-style="italic" font-family="Liberation Serif, serif">j</text><text x="72.6" y="6" font-size="23" textLength="24" lengthAdjust="spacingAndGlyphs" font-family="Liberation Serif, serif">c4</text></g>
<path d="M276.0,705.4L471.6,705.4" stroke="#000" stroke-width="3.0" fill="none"/>
<path d="M297.3,695.3L276.6,705.4L297.3,715.5" stroke="#000" stroke-width="3.0" fill="none" stroke-linejoin="miter" stroke-linecap="round"/>
<g transform="translate(291.3,680.5) rotate(0) scale(0.985)" fill="#000" stroke="#000" stroke-width="0.45"><text x="3.6" y="0" font-size="35" font-style="italic" font-family="Liberation Serif, serif">j</text><path d="M43.6,-19.7H37A9.85,9.85 0 0 0 37,0H43.6M27.3,-9.85H43.6" fill="none" stroke="#000" stroke-width="2.2"/><path d="M66.8,-25.2H59.7V4.9H66.8" fill="none" stroke="#000" stroke-width="2.1"/><text x="68.4" y="0" font-size="35" font-style="italic" font-family="Liberation Serif, serif">j</text><text x="79.5" y="6" font-size="23" textLength="24" lengthAdjust="spacingAndGlyphs" font-family="Liberation Serif, serif">c3</text><text x="106.5" y="0" font-size="33" font-family="Liberation Serif, serif">,</text><text x="120.8" y="0" font-size="35" font-style="italic" font-family="Liberation Serif, serif">j</text><text x="131.6" y="6" font-size="23" textLength="24" lengthAdjust="spacingAndGlyphs" font-family="Liberation Serif, serif">c4</text><path d="M159.8,-25.2H166.9V4.9H159.8" fill="none" stroke="#000" stroke-width="2.1"/></g>
<text transform="translate(318.98,815.0) scale(0.976,1)" font-size="41" font-family="Liberation Sans, sans-serif" >200 nm</text>
<rect x="303.2" y="822.2" width="152.4" height="8.3" fill="#000" stroke="#1f3864" stroke-width="2.4"/>
<text transform="translate(-2.07,29.8) scale(0.96,1)" font-size="51" font-family="Liberation Sans, sans-serif" >a</text>
<text transform="translate(111.33,28.5) scale(1.03,1)" font-size="34" font-family="Liberation Sans, sans-serif" >FM</text>
<text transform="translate(525.43,28.6) scale(0.985,1)" font-size="34.4" font-family="Liberation Sans, sans-serif" >Antiskyrmion</text>
<text transform="translate(70.44,862.7) scale(0.998,1)" font-size="34.3" font-family="Liberation Sans, sans-serif" >Skyrmion</text>
<text transform="translate(588.06,859.9) scale(1.012,1)" font-size="34.2" font-family="Liberation Sans, sans-serif" >Bubble</text>
<rect x="895.9" y="1.3" width="440.4" height="356.6" fill="#fff" stroke="#000" stroke-width="1.9"/>
<path d="M896.2,357.9v-9.8M949.8,357.9v-6.7M1003.5,357.9v-9.8M1057.1,357.9v-6.7M1110.8,357.9v-9.8M1164.4,357.9v-6.7M1218.0,357.9v-9.8M1271.7,357.9v-6.7M1325.3,357.9v-9.8M895.9,357.9h9.8M895.9,318.3h6.7M895.9,278.6h9.8M895.9,239.0h6.7M895.9,199.4h9.8M895.9,159.8h6.7M895.9,120.1h9.8M895.9,80.5h6.7M895.9,40.9h9.8" stroke="#000" stroke-width="1.6" fill="none"/>
<text transform="translate(896.2,392.9) scale(0.946,1)" font-size="30.8" text-anchor="middle" font-family="Liberation Sans, sans-serif" >0</text>
<text transform="translate(1003.5,392.9) scale(0.946,1)" font-size="30.8" text-anchor="middle" font-family="Liberation Sans, sans-serif" >50</text>
<text transform="translate(1110.8,392.9) scale(0.946,1)" font-size="30.8" text-anchor="middle" font-family="Liberation Sans, sans-serif" >100</text>
<text transform="translate(1218.0,392.9) scale(0.946,1)" font-size="30.8" text-anchor="middle" font-family="Liberation Sans, sans-serif" >150</text>
<text transform="translate(1325.3,392.9) scale(0.946,1)" font-size="30.8" text-anchor="middle" font-family="Liberation Sans, sans-serif" >200</text>
<text transform="translate(885.3,367.3) scale(0.946,1)" font-size="30.8" text-anchor="end" font-family="Liberation Sans, sans-serif" >0</text>
<text transform="translate(885.3,288.0) scale(0.946,1)" font-size="30.8" text-anchor="end" font-family="Liberation Sans, sans-serif" >10</text>
<text transform="translate(885.3,208.8) scale(0.946,1)" font-size="30.8" text-anchor="end" font-family="Liberation Sans, sans-serif" >20</text>
<text transform="translate(885.3,129.5) scale(0.946,1)" font-size="30.8" text-anchor="end" font-family="Liberation Sans, sans-serif" >30</text>
<text transform="translate(885.3,50.3) scale(0.946,1)" font-size="30.8" text-anchor="end" font-family="Liberation Sans, sans-serif" >40</text>
<text transform="translate(1116.9,430.1) scale(0.96,1)" font-size="36.5" text-anchor="middle" font-family="Liberation Sans, sans-serif" ><tspan font-style="italic">w</tspan> (ns)</text>
<g transform="translate(830.2,304.1) rotate(-90)"><text transform="translate(3.95,0) scale(0.955,1)" font-size="37" font-style="italic" font-family="Liberation Sans, sans-serif">j</text><text transform="translate(12.91,12.2) scale(0.955,1)" font-size="22" font-style="italic" font-family="Liberation Sans, sans-serif">c</text><text transform="translate(33.51,0) scale(0.955,1)" font-size="37" font-family="Liberation Sans, sans-serif">(</text><text transform="translate(46.11,0) scale(0.955,1)" font-size="37" font-family="Liberation Sans, sans-serif">10</text><text transform="translate(84.60,-17) scale(0.955,1)" font-size="22" font-family="Liberation Sans, sans-serif">10</text><text transform="translate(117.03,0) scale(0.955,1)" font-size="37" font-family="Liberation Sans, sans-serif">A</text><text transform="translate(141.80,0) scale(0.955,1)" font-size="37" font-family="Liberation Sans, sans-serif">/</text><text transform="translate(151.16,0) scale(0.955,1)" font-size="37" font-family="Liberation Sans, sans-serif">m</text><text transform="translate(180.25,-17) scale(0.955,1)" font-size="22" font-family="Liberation Sans, sans-serif">2</text><text transform="translate(194.10,0) scale(0.955,1)" font-size="37" font-family="Liberation Sans, sans-serif">)</text></g>
<text transform="translate(804.9,39.0) scale(1.0,1)" font-size="51" text-anchor="start" font-family="Liberation Sans, sans-serif" >b</text>
<path d="M917.7,318.3 L918.2,318.3 L918.7,318.3 L919.3,318.3 L919.8,318.3 L920.3,318.4 L920.9,318.4 L921.4,318.4 L921.9,318.4 L922.5,318.4 L923.0,318.4 L923.6,318.5 L924.1,318.5 L924.6,318.5 L925.2,318.5 L925.7,318.5 L926.2,318.5 L926.8,318.5 L927.3,318.5 L927.8,318.5 L928.4,318.5 L928.9,318.5 L929.5,318.5 L930.0,318.5 L930.5,318.5 L931.1,318.5 L931.6,318.5 L932.1,318.5 L932.7,318.5 L933.2,318.5 L933.7,318.5 L934.3,318.5 L934.8,318.5 L935.4,318.5 L935.9,318.4 L936.4,318.4 L937.0,318.4 L937.5,318.4 L938.0,318.3 L938.6,318.3 L939.1,318.3 L940.2,318.2 L941.3,318.1 L942.3,318.0 L943.4,317.9 L944.5,317.8 L945.5,317.7 L946.6,317.6 L947.7,317.4 L948.8,317.3 L949.8,317.1 L950.9,317.0 L952.0,316.8 L953.1,316.7 L954.1,316.5 L955.2,316.3 L956.3,316.2 L957.3,316.0 L958.4,315.8 L959.5,315.7 L960.6,315.5 L961.6,315.3 L962.7,315.1 L963.8,315.0 L964.9,314.8 L965.9,314.6 L967.0,314.4 L968.1,314.3 L969.1,314.1 L970.2,313.9 L971.3,313.8 L972.4,313.6 L973.4,313.5 L974.5,313.3 L975.6,313.2 L976.7,313.1 L977.7,313.0 L978.8,312.9 L979.9,312.7 L980.9,312.7 L982.0,312.6 L984.2,312.4 L986.3,312.3 L988.5,312.3 L990.6,312.2 L992.7,312.2 L994.9,312.3 L997.0,312.3 L999.2,312.4 L1001.3,312.5 L1003.5,312.7 L1005.6,312.9 L1007.8,313.1 L1009.9,313.3 L1012.1,313.5 L1014.2,313.8 L1016.3,314.0 L1018.5,314.3 L1020.6,314.6 L1022.8,315.0 L1024.9,315.3 L1027.1,315.6 L1029.2,316.0 L1031.4,316.3 L1033.5,316.7 L1035.7,317.1 L1037.8,317.5 L1039.9,317.8 L1042.1,318.2 L1044.2,318.6 L1046.4,319.0 L1048.5,319.3 L1050.7,319.7 L1052.8,320.0 L1055.0,320.4 L1057.1,320.7 L1059.3,321.1 L1061.4,321.4 L1063.5,321.7 L1065.7,322.0 L1067.8,322.2 L1070.0,322.5 L1072.1,322.7 L1074.3,322.9 L1076.4,323.1 L1078.6,323.3 L1080.7,323.5 L1082.9,323.6 L1085.0,323.8 L1087.1,323.9 L1089.3,324.0 L1091.4,324.1 L1093.6,324.2 L1095.7,324.2 L1097.9,324.3 L1100.0,324.3 L1102.2,324.3 L1104.3,324.3 L1106.5,324.3 L1108.6,324.3 L1110.8,324.3 L1112.9,324.3 L1115.0,324.2 L1117.2,324.2 L1119.3,324.1 L1121.5,324.1 L1123.6,324.0 L1125.8,323.9 L1127.9,323.8 L1130.1,323.7 L1132.2,323.6 L1134.4,323.5 L1136.5,323.4 L1138.6,323.2 L1140.8,323.1 L1142.9,323.0 L1145.1,322.8 L1147.2,322.7 L1149.4,322.5 L1151.5,322.4 L1153.7,322.2 L1155.8,322.1 L1158.0,321.9 L1160.1,321.8 L1162.2,321.6 L1164.4,321.4 L1166.5,321.3 L1168.7,321.1 L1170.8,320.9 L1173.0,320.8 L1175.1,320.6 L1177.3,320.5 L1179.4,320.3 L1181.6,320.1 L1183.7,320.0 L1185.8,319.8 L1188.0,319.7 L1190.1,319.5 L1192.3,319.4 L1194.4,319.2 L1196.6,319.1 L1198.7,318.9 L1200.9,318.8 L1203.0,318.7 L1205.2,318.6 L1207.3,318.4 L1209.4,318.3 L1211.6,318.2 L1213.7,318.1 L1215.9,318.0 L1218.0,317.9 L1220.2,317.8 L1222.3,317.8 L1224.5,317.7 L1226.6,317.6 L1228.8,317.6 L1230.9,317.6 L1233.0,317.5 L1235.2,317.5 L1237.3,317.5 L1239.5,317.5 L1241.6,317.5 L1243.8,317.5 L1245.9,317.5 L1248.1,317.6 L1250.2,317.6 L1252.4,317.7 L1254.5,317.7 L1256.6,317.8 L1258.8,317.9 L1260.9,318.0 L1263.1,318.1 L1265.2,318.2 L1267.4,318.3 L1269.5,318.4 L1271.7,318.5 L1273.8,318.6 L1276.0,318.8 L1278.1,318.9 L1280.2,319.1 L1282.4,319.2 L1284.5,319.4 L1286.7,319.6 L1288.8,319.7 L1291.0,319.9 L1293.1,320.1 L1295.3,320.2 L1297.4,320.4 L1299.6,320.6 L1301.7,320.8 L1303.8,321.0 L1306.0,321.2 L1308.1,321.4 L1310.3,321.6 L1312.4,321.8 L1314.6,322.0 L1316.7,322.2 L1318.9,322.4 L1321.0,322.6 L1323.2,322.8 L1325.3,323.0" stroke="#000" stroke-width="2" fill="none"/>
<circle cx="917.7" cy="318.3" r="4.6" fill="url(#gk)"/>
<circle cx="939.1" cy="318.3" r="4.6" fill="url(#gk)"/>
<circle cx="982.0" cy="312.6" r="4.6" fill="url(#gk)"/>
<circle cx="1067.8" cy="322.2" r="4.6" fill="url(#gk)"/>
<circle cx="1153.7" cy="322.2" r="4.6" fill="url(#gk)"/>
<circle cx="1239.5" cy="317.5" r="4.6" fill="url(#gk)"/>
<circle cx="1325.3" cy="323.0" r="4.6" fill="url(#gk)"/>
<path d="M917.7,37.7 L918.2,39.4 L918.7,41.0 L919.3,42.6 L919.8,44.2 L920.3,45.8 L920.9,47.5 L921.4,49.1 L921.9,50.7 L922.5,52.3 L923.0,53.9 L923.6,55.5 L924.1,57.1 L924.6,58.7 L925.2,60.3 L925.7,61.9 L926.2,63.5 L926.8,65.0 L927.3,66.6 L927.8,68.2 L928.4,69.7 L928.9,71.3 L929.5,72.8 L930.0,74.3 L930.5,75.8 L931.1,77.4 L931.6,78.9 L932.1,80.4 L932.7,81.8 L933.2,83.3 L933.7,84.8 L934.3,86.2 L934.8,87.7 L935.4,89.1 L935.9,90.5 L936.4,91.9 L937.0,93.3 L937.5,94.7 L938.0,96.1 L938.6,97.4 L939.1,98.8 L940.2,101.4 L941.3,104.0 L942.3,106.5 L943.4,108.9 L944.5,111.3 L945.5,113.7 L946.6,116.0 L947.7,118.2 L948.8,120.4 L949.8,122.6 L950.9,124.6 L952.0,126.7 L953.1,128.7 L954.1,130.6 L955.2,132.5 L956.3,134.4 L957.3,136.2 L958.4,138.0 L959.5,139.7 L960.6,141.4 L961.6,143.0 L962.7,144.6 L963.8,146.2 L964.9,147.7 L965.9,149.2 L967.0,150.7 L968.1,152.1 L969.1,153.5 L970.2,154.8 L971.3,156.1 L972.4,157.4 L973.4,158.7 L974.5,159.9 L975.6,161.1 L976.7,162.2 L977.7,163.4 L978.8,164.5 L979.9,165.6 L980.9,166.7 L982.0,167.7 L984.2,169.7 L986.3,171.6 L988.5,173.5 L990.6,175.2 L992.7,176.9 L994.9,178.5 L997.0,180.0 L999.2,181.5 L1001.3,182.9 L1003.5,184.2 L1005.6,185.4 L1007.8,186.6 L1009.9,187.7 L1012.1,188.8 L1014.2,189.8 L1016.3,190.7 L1018.5,191.6 L1020.6,192.4 L1022.8,193.2 L1024.9,194.0 L1027.1,194.7 L1029.2,195.4 L1031.4,196.0 L1033.5,196.6 L1035.7,197.2 L1037.8,197.7 L1039.9,198.2 L1042.1,198.7 L1044.2,199.2 L1046.4,199.6 L1048.5,200.0 L1050.7,200.4 L1052.8,200.8 L1055.0,201.2 L1057.1,201.6 L1059.3,201.9 L1061.4,202.3 L1063.5,202.6 L1065.7,203.0 L1067.8,203.4 L1070.0,203.7 L1072.1,204.1 L1074.3,204.5 L1076.4,204.9 L1078.6,205.3 L1080.7,205.6 L1082.9,206.0 L1085.0,206.4 L1087.1,206.8 L1089.3,207.2 L1091.4,207.7 L1093.6,208.1 L1095.7,208.5 L1097.9,208.9 L1100.0,209.3 L1102.2,209.7 L1104.3,210.1 L1106.5,210.5 L1108.6,210.9 L1110.8,211.3 L1112.9,211.7 L1115.0,212.1 L1117.2,212.5 L1119.3,212.9 L1121.5,213.3 L1123.6,213.7 L1125.8,214.1 L1127.9,214.4 L1130.1,214.8 L1132.2,215.2 L1134.4,215.5 L1136.5,215.9 L1138.6,216.2 L1140.8,216.6 L1142.9,216.9 L1145.1,217.2 L1147.2,217.5 L1149.4,217.8 L1151.5,218.1 L1153.7,218.4 L1155.8,218.7 L1158.0,219.0 L1160.1,219.2 L1162.2,219.5 L1164.4,219.7 L1166.5,219.9 L1168.7,220.2 L1170.8,220.4 L1173.0,220.6 L1175.1,220.8 L1177.3,221.0 L1179.4,221.2 L1181.6,221.4 L1183.7,221.6 L1185.8,221.8 L1188.0,222.0 L1190.1,222.2 L1192.3,222.4 L1194.4,222.5 L1196.6,222.7 L1198.7,222.9 L1200.9,223.1 L1203.0,223.3 L1205.2,223.5 L1207.3,223.6 L1209.4,223.8 L1211.6,224.0 L1213.7,224.2 L1215.9,224.4 L1218.0,224.7 L1220.2,224.9 L1222.3,225.1 L1224.5,225.3 L1226.6,225.6 L1228.8,225.8 L1230.9,226.0 L1233.0,226.3 L1235.2,226.6 L1237.3,226.8 L1239.5,227.1 L1241.6,227.4 L1243.8,227.7 L1245.9,228.1 L1248.1,228.4 L1250.2,228.7 L1252.4,229.1 L1254.5,229.4 L1256.6,229.8 L1258.8,230.2 L1260.9,230.6 L1263.1,231.0 L1265.2,231.4 L1267.4,231.8 L1269.5,232.2 L1271.7,232.6 L1273.8,233.0 L1276.0,233.5 L1278.1,233.9 L1280.2,234.3 L1282.4,234.8 L1284.5,235.2 L1286.7,235.7 L1288.8,236.2 L1291.0,236.6 L1293.1,237.1 L1295.3,237.6 L1297.4,238.1 L1299.6,238.6 L1301.7,239.1 L1303.8,239.5 L1306.0,240.0 L1308.1,240.5 L1310.3,241.0 L1312.4,241.5 L1314.6,242.0 L1316.7,242.5 L1318.9,243.1 L1321.0,243.6 L1323.2,244.1 L1325.3,244.6" stroke="#f00" stroke-width="2" fill="none"/>
<circle cx="917.7" cy="37.7" r="4.6" fill="url(#gr)"/>
<circle cx="939.1" cy="98.8" r="4.6" fill="url(#gr)"/>
<circle cx="982.0" cy="167.7" r="4.6" fill="url(#gr)"/>
<circle cx="1067.8" cy="203.4" r="4.6" fill="url(#gr)"/>
<circle cx="1153.7" cy="218.4" r="4.6" fill="url(#gr)"/>
<circle cx="1239.5" cy="227.1" r="4.6" fill="url(#gr)"/>
<circle cx="1325.3" cy="244.6" r="4.6" fill="url(#gr)"/>
<path d="M917.7,28.2 L918.2,30.0 L918.7,31.7 L919.3,33.4 L919.8,35.2 L920.3,36.9 L920.9,38.6 L921.4,40.4 L921.9,42.1 L922.5,43.8 L923.0,45.6 L923.6,47.3 L924.1,49.0 L924.6,50.7 L925.2,52.4 L925.7,54.1 L926.2,55.8 L926.8,57.5 L927.3,59.1 L927.8,60.8 L928.4,62.5 L928.9,64.1 L929.5,65.7 L930.0,67.4 L930.5,69.0 L931.1,70.6 L931.6,72.2 L932.1,73.8 L932.7,75.4 L933.2,76.9 L933.7,78.5 L934.3,80.0 L934.8,81.5 L935.4,83.1 L935.9,84.6 L936.4,86.0 L937.0,87.5 L937.5,89.0 L938.0,90.4 L938.6,91.8 L939.1,93.2 L940.2,96.0 L941.3,98.6 L942.3,101.3 L943.4,103.8 L944.5,106.3 L945.5,108.7 L946.6,111.1 L947.7,113.4 L948.8,115.6 L949.8,117.8 L950.9,119.9 L952.0,122.0 L953.1,124.0 L954.1,125.9 L955.2,127.9 L956.3,129.7 L957.3,131.5 L958.4,133.3 L959.5,135.0 L960.6,136.6 L961.6,138.3 L962.7,139.8 L963.8,141.4 L964.9,142.9 L965.9,144.3 L967.0,145.7 L968.1,147.1 L969.1,148.4 L970.2,149.8 L971.3,151.0 L972.4,152.3 L973.4,153.5 L974.5,154.6 L975.6,155.8 L976.7,156.9 L977.7,158.0 L978.8,159.1 L979.9,160.1 L980.9,161.2 L982.0,162.2 L984.2,164.1 L986.3,166.0 L988.5,167.7 L990.6,169.5 L992.7,171.1 L994.9,172.7 L997.0,174.2 L999.2,175.6 L1001.3,177.0 L1003.5,178.3 L1005.6,179.6 L1007.8,180.8 L1009.9,181.9 L1012.1,183.0 L1014.2,184.0 L1016.3,185.0 L1018.5,186.0 L1020.6,186.8 L1022.8,187.7 L1024.9,188.5 L1027.1,189.3 L1029.2,190.0 L1031.4,190.7 L1033.5,191.4 L1035.7,192.0 L1037.8,192.6 L1039.9,193.2 L1042.1,193.8 L1044.2,194.3 L1046.4,194.8 L1048.5,195.3 L1050.7,195.8 L1052.8,196.3 L1055.0,196.8 L1057.1,197.2 L1059.3,197.7 L1061.4,198.1 L1063.5,198.5 L1065.7,199.0 L1067.8,199.4 L1070.0,199.8 L1072.1,200.3 L1074.3,200.7 L1076.4,201.2 L1078.6,201.6 L1080.7,202.1 L1082.9,202.5 L1085.0,203.0 L1087.1,203.4 L1089.3,203.9 L1091.4,204.3 L1093.6,204.8 L1095.7,205.2 L1097.9,205.7 L1100.0,206.1 L1102.2,206.6 L1104.3,207.0 L1106.5,207.4 L1108.6,207.9 L1110.8,208.3 L1112.9,208.8 L1115.0,209.2 L1117.2,209.6 L1119.3,210.0 L1121.5,210.5 L1123.6,210.9 L1125.8,211.3 L1127.9,211.7 L1130.1,212.1 L1132.2,212.5 L1134.4,212.9 L1136.5,213.3 L1138.6,213.6 L1140.8,214.0 L1142.9,214.4 L1145.1,214.7 L1147.2,215.1 L1149.4,215.4 L1151.5,215.7 L1153.7,216.0 L1155.8,216.4 L1158.0,216.7 L1160.1,216.9 L1162.2,217.2 L1164.4,217.5 L1166.5,217.8 L1168.7,218.0 L1170.8,218.3 L1173.0,218.6 L1175.1,218.8 L1177.3,219.0 L1179.4,219.3 L1181.6,219.5 L1183.7,219.7 L1185.8,220.0 L1188.0,220.2 L1190.1,220.4 L1192.3,220.6 L1194.4,220.8 L1196.6,221.0 L1198.7,221.2 L1200.9,221.5 L1203.0,221.7 L1205.2,221.9 L1207.3,222.1 L1209.4,222.3 L1211.6,222.5 L1213.7,222.7 L1215.9,222.9 L1218.0,223.2 L1220.2,223.4 L1222.3,223.6 L1224.5,223.8 L1226.6,224.1 L1228.8,224.3 L1230.9,224.5 L1233.0,224.8 L1235.2,225.0 L1237.3,225.3 L1239.5,225.6 L1241.6,225.8 L1243.8,226.1 L1245.9,226.4 L1248.1,226.7 L1250.2,227.0 L1252.4,227.3 L1254.5,227.6 L1256.6,227.9 L1258.8,228.2 L1260.9,228.5 L1263.1,228.9 L1265.2,229.2 L1267.4,229.5 L1269.5,229.9 L1271.7,230.2 L1273.8,230.6 L1276.0,230.9 L1278.1,231.3 L1280.2,231.6 L1282.4,232.0 L1284.5,232.4 L1286.7,232.8 L1288.8,233.1 L1291.0,233.5 L1293.1,233.9 L1295.3,234.3 L1297.4,234.7 L1299.6,235.0 L1301.7,235.4 L1303.8,235.8 L1306.0,236.2 L1308.1,236.6 L1310.3,237.0 L1312.4,237.4 L1314.6,237.8 L1316.7,238.2 L1318.9,238.6 L1321.0,239.0 L1323.2,239.4 L1325.3,239.8" stroke="#0f0" stroke-width="2" fill="none"/>
<circle cx="917.7" cy="28.2" r="4.6" fill="url(#gg)"/>
<circle cx="939.1" cy="93.2" r="4.6" fill="url(#gg)"/>
<circle cx="982.0" cy="162.2" r="4.6" fill="url(#gg)"/>
<circle cx="1067.8" cy="199.4" r="4.6" fill="url(#gg)"/>
<circle cx="1153.7" cy="216.0" r="4.6" fill="url(#gg)"/>
<circle cx="1239.5" cy="225.6" r="4.6" fill="url(#gg)"/>
<circle cx="1325.3" cy="239.8" r="4.6" fill="url(#gg)"/>
<path d="M917.7,10.0 L918.2,12.0 L918.7,14.0 L919.3,16.1 L919.8,18.1 L920.3,20.1 L920.9,22.1 L921.4,24.1 L921.9,26.1 L922.5,28.1 L923.0,30.1 L923.6,32.1 L924.1,34.1 L924.6,36.1 L925.2,38.0 L925.7,40.0 L926.2,42.0 L926.8,43.9 L927.3,45.8 L927.8,47.7 L928.4,49.7 L928.9,51.5 L929.5,53.4 L930.0,55.3 L930.5,57.2 L931.1,59.0 L931.6,60.8 L932.1,62.6 L932.7,64.4 L933.2,66.2 L933.7,68.0 L934.3,69.7 L934.8,71.4 L935.4,73.1 L935.9,74.8 L936.4,76.5 L937.0,78.1 L937.5,79.8 L938.0,81.4 L938.6,82.9 L939.1,84.5 L940.2,87.5 L941.3,90.5 L942.3,93.3 L943.4,96.1 L944.5,98.7 L945.5,101.3 L946.6,103.8 L947.7,106.2 L948.8,108.6 L949.8,110.8 L950.9,113.0 L952.0,115.1 L953.1,117.2 L954.1,119.1 L955.2,121.1 L956.3,122.9 L957.3,124.7 L958.4,126.4 L959.5,128.0 L960.6,129.6 L961.6,131.2 L962.7,132.7 L963.8,134.1 L964.9,135.5 L965.9,136.9 L967.0,138.2 L968.1,139.4 L969.1,140.7 L970.2,141.9 L971.3,143.0 L972.4,144.1 L973.4,145.2 L974.5,146.3 L975.6,147.3 L976.7,148.3 L977.7,149.3 L978.8,150.3 L979.9,151.2 L980.9,152.1 L982.0,153.0 L984.2,154.8 L986.3,156.6 L988.5,158.3 L990.6,159.9 L992.7,161.5 L994.9,163.0 L997.0,164.5 L999.2,166.0 L1001.3,167.4 L1003.5,168.8 L1005.6,170.1 L1007.8,171.4 L1009.9,172.7 L1012.1,173.9 L1014.2,175.1 L1016.3,176.2 L1018.5,177.3 L1020.6,178.4 L1022.8,179.4 L1024.9,180.4 L1027.1,181.4 L1029.2,182.3 L1031.4,183.2 L1033.5,184.1 L1035.7,185.0 L1037.8,185.8 L1039.9,186.6 L1042.1,187.3 L1044.2,188.1 L1046.4,188.8 L1048.5,189.5 L1050.7,190.1 L1052.8,190.8 L1055.0,191.4 L1057.1,192.0 L1059.3,192.5 L1061.4,193.1 L1063.5,193.6 L1065.7,194.1 L1067.8,194.6 L1070.0,195.1 L1072.1,195.6 L1074.3,196.1 L1076.4,196.5 L1078.6,196.9 L1080.7,197.3 L1082.9,197.7 L1085.0,198.1 L1087.1,198.5 L1089.3,198.9 L1091.4,199.2 L1093.6,199.5 L1095.7,199.9 L1097.9,200.2 L1100.0,200.5 L1102.2,200.8 L1104.3,201.1 L1106.5,201.4 L1108.6,201.7 L1110.8,202.0 L1112.9,202.3 L1115.0,202.5 L1117.2,202.8 L1119.3,203.1 L1121.5,203.3 L1123.6,203.6 L1125.8,203.9 L1127.9,204.1 L1130.1,204.4 L1132.2,204.6 L1134.4,204.9 L1136.5,205.2 L1138.6,205.4 L1140.8,205.7 L1142.9,205.9 L1145.1,206.2 L1147.2,206.5 L1149.4,206.8 L1151.5,207.0 L1153.7,207.3 L1155.8,207.6 L1158.0,207.9 L1160.1,208.2 L1162.2,208.5 L1164.4,208.8 L1166.5,209.2 L1168.7,209.5 L1170.8,209.8 L1173.0,210.2 L1175.1,210.5 L1177.3,210.8 L1179.4,211.2 L1181.6,211.5 L1183.7,211.9 L1185.8,212.2 L1188.0,212.6 L1190.1,213.0 L1192.3,213.3 L1194.4,213.7 L1196.6,214.1 L1198.7,214.4 L1200.9,214.8 L1203.0,215.2 L1205.2,215.6 L1207.3,215.9 L1209.4,216.3 L1211.6,216.7 L1213.7,217.1 L1215.9,217.5 L1218.0,217.8 L1220.2,218.2 L1222.3,218.6 L1224.5,219.0 L1226.6,219.4 L1228.8,219.7 L1230.9,220.1 L1233.0,220.5 L1235.2,220.9 L1237.3,221.2 L1239.5,221.6 L1241.6,222.0 L1243.8,222.3 L1245.9,222.7 L1248.1,223.0 L1250.2,223.4 L1252.4,223.8 L1254.5,224.1 L1256.6,224.5 L1258.8,224.8 L1260.9,225.2 L1263.1,225.5 L1265.2,225.8 L1267.4,226.2 L1269.5,226.5 L1271.7,226.9 L1273.8,227.2 L1276.0,227.5 L1278.1,227.9 L1280.2,228.2 L1282.4,228.6 L1284.5,228.9 L1286.7,229.2 L1288.8,229.5 L1291.0,229.9 L1293.1,230.2 L1295.3,230.5 L1297.4,230.9 L1299.6,231.2 L1301.7,231.5 L1303.8,231.8 L1306.0,232.2 L1308.1,232.5 L1310.3,232.8 L1312.4,233.1 L1314.6,233.5 L1316.7,233.8 L1318.9,234.1 L1321.0,234.4 L1323.2,234.7 L1325.3,235.1" stroke="#00f" stroke-width="2" fill="none"/>
<circle cx="917.7" cy="10.0" r="4.6" fill="url(#gb)"/>
<circle cx="939.1" cy="84.5" r="4.6" fill="url(#gb)"/>
<circle cx="982.0" cy="153.0" r="4.6" fill="url(#gb)"/>
<circle cx="1067.8" cy="194.6" r="4.6" fill="url(#gb)"/>
<circle cx="1153.7" cy="207.3" r="4.6" fill="url(#gb)"/>
<circle cx="1239.5" cy="221.6" r="4.6" fill="url(#gb)"/>
<circle cx="1325.3" cy="235.1" r="4.6" fill="url(#gb)"/>
<path d="M1052.9,79.3h78.7" stroke="#000" stroke-width="2"/>
<circle cx="1092.2" cy="79.3" r="4.6" fill="url(#gk)"/>
<text x="1141.3" y="91.6" font-size="35" font-family="Liberation Sans, sans-serif"><tspan font-style="italic">j</tspan><tspan font-size="20" dy="11.5" dx="0.3">c1</tspan></text>
<path d="M1181.1,79.3h78.7" stroke="#f00" stroke-width="2"/>
<circle cx="1220.4" cy="79.3" r="4.6" fill="url(#gr)"/>
<text x="1269.5" y="91.6" font-size="35" font-family="Liberation Sans, sans-serif"><tspan font-style="italic">j</tspan><tspan font-size="20" dy="11.5" dx="0.3">c2</tspan></text>
<path d="M1052.9,133.0h78.7" stroke="#0f0" stroke-width="2"/>
<circle cx="1092.2" cy="133.0" r="4.6" fill="url(#gg)"/>
<text x="1141.3" y="145.3" font-size="35" font-family="Liberation Sans, sans-serif"><tspan font-style="italic">j</tspan><tspan font-size="20" dy="11.5" dx="0.3">c3</tspan></text>
<path d="M1181.1,133.0h78.7" stroke="#00f" stroke-width="2"/>
<circle cx="1220.4" cy="133.0" r="4.6" fill="url(#gb)"/>
<text x="1269.5" y="145.3" font-size="35" font-family="Liberation Sans, sans-serif"><tspan font-style="italic">j</tspan><tspan font-size="20" dy="11.5" dx="0.3">c4</tspan></text>
<rect x="896.4" y="450.2" width="440.4" height="356.9" fill="#fff" stroke="#000" stroke-width="1.9"/>
<path d="M918.4,807.1v-9.8M962.4,807.1v-6.7M1006.5,807.1v-9.8M1050.6,807.1v-6.7M1094.7,807.1v-9.8M1138.7,807.1v-6.7M1182.8,807.1v-9.8M1226.9,807.1v-6.7M1271.0,807.1v-9.8M1315.0,807.1v-6.7M896.4,807.2h9.8M896.4,775.3h6.7M896.4,743.3h9.8M896.4,711.4h6.7M896.4,679.5h9.8M896.4,647.6h6.7M896.4,615.6h9.8M896.4,583.7h6.7M896.4,551.8h9.8M896.4,519.8h6.7M896.4,487.9h9.8M896.4,456.0h6.7" stroke="#000" stroke-width="1.6" fill="none"/>
<text transform="translate(918.4,840.8) scale(0.946,1)" font-size="30.8" text-anchor="middle" font-family="Liberation Sans, sans-serif" >380</text>
<text transform="translate(1006.5,840.8) scale(0.946,1)" font-size="30.8" text-anchor="middle" font-family="Liberation Sans, sans-serif" >400</text>
<text transform="translate(1094.7,840.8) scale(0.946,1)" font-size="30.8" text-anchor="middle" font-family="Liberation Sans, sans-serif" >420</text>
<text transform="translate(1182.8,840.8) scale(0.946,1)" font-size="30.8" text-anchor="middle" font-family="Liberation Sans, sans-serif" >440</text>
<text transform="translate(1271.0,840.8) scale(0.946,1)" font-size="30.8" text-anchor="middle" font-family="Liberation Sans, sans-serif" >460</text>
<text transform="translate(885.3,816.6) scale(0.946,1)" font-size="30.8" text-anchor="end" font-family="Liberation Sans, sans-serif" >0</text>
<text transform="translate(885.3,752.7) scale(0.946,1)" font-size="30.8" text-anchor="end" font-family="Liberation Sans, sans-serif" >5</text>
<text transform="translate(885.3,688.9) scale(0.946,1)" font-size="30.8" text-anchor="end" font-family="Liberation Sans, sans-serif" >10</text>
<text transform="translate(885.3,625.0) scale(0.946,1)" font-size="30.8" text-anchor="end" font-family="Liberation Sans, sans-serif" >15</text>
<text transform="translate(885.3,561.2) scale(0.946,1)" font-size="30.8" text-anchor="end" font-family="Liberation Sans, sans-serif" >20</text>
<text transform="translate(885.3,497.3) scale(0.946,1)" font-size="30.8" text-anchor="end" font-family="Liberation Sans, sans-serif" >25</text>
<text transform="translate(1117.4,882.9) scale(0.96,1)" font-size="36.5" text-anchor="middle" font-family="Liberation Sans, sans-serif" ><tspan font-style="italic">B</tspan> (mT)</text>
<g transform="translate(830.2,753.3) rotate(-90)"><text transform="translate(3.95,0) scale(0.955,1)" font-size="37" font-style="italic" font-family="Liberation Sans, sans-serif">j</text><text transform="translate(12.91,12.2) scale(0.955,1)" font-size="22" font-style="italic" font-family="Liberation Sans, sans-serif">c</text><text transform="translate(33.51,0) scale(0.955,1)" font-size="37" font-family="Liberation Sans, sans-serif">(</text><text transform="translate(46.11,0) scale(0.955,1)" font-size="37" font-family="Liberation Sans, sans-serif">10</text><text transform="translate(84.60,-17) scale(0.955,1)" font-size="22" font-family="Liberation Sans, sans-serif">10</text><text transform="translate(117.03,0) scale(0.955,1)" font-size="37" font-family="Liberation Sans, sans-serif">A</text><text transform="translate(141.80,0) scale(0.955,1)" font-size="37" font-family="Liberation Sans, sans-serif">/</text><text transform="translate(151.16,0) scale(0.955,1)" font-size="37" font-family="Liberation Sans, sans-serif">m</text><text transform="translate(180.25,-17) scale(0.955,1)" font-size="22" font-family="Liberation Sans, sans-serif">2</text><text transform="translate(194.10,0) scale(0.955,1)" font-size="37" font-family="Liberation Sans, sans-serif">)</text></g>
<text transform="translate(803.8,474.3) scale(1.03,1)" font-size="51" text-anchor="start" font-family="Liberation Sans, sans-serif" >c</text>
<path d="M919.6,773.6 L920.6,770.7 L921.6,767.8 L922.6,765.1 L923.5,762.4 L924.4,759.9 L925.3,757.4 L926.1,755.0 L926.9,752.6 L927.7,750.4 L928.4,748.2 L929.2,746.1 L929.9,744.0 L930.6,742.0 L931.2,740.1 L931.9,738.2 L932.5,736.3 L933.1,734.5 L933.7,732.7 L934.2,731.0 L934.8,729.3 L935.3,727.6 L935.9,725.9 L936.4,724.3 L936.9,722.7 L937.3,721.1 L937.8,719.5 L938.3,717.9 L938.7,716.3 L939.2,714.7 L939.6,713.1 L940.1,711.5 L940.5,709.9 L940.9,708.3 L941.3,706.7 L941.7,705.1 L942.2,703.4 L942.6,701.8 L943.0,700.1 L943.3,698.5 L943.7,696.8 L944.1,695.2 L944.5,693.5 L944.9,691.9 L945.3,690.2 L945.6,688.5 L946.0,686.9 L946.4,685.2 L946.7,683.5 L947.1,681.9 L947.5,680.2 L947.8,678.6 L948.2,676.9 L948.5,675.3 L948.9,673.6 L949.2,672.0 L949.6,670.3 L949.9,668.7 L950.3,667.1 L950.6,665.5 L951.0,663.9 L951.3,662.3 L951.7,660.7 L952.0,659.1 L952.4,657.5 L952.7,655.9 L953.1,654.3 L953.4,652.7 L953.8,651.1 L954.1,649.5 L954.5,647.9 L954.9,646.3 L955.2,644.6 L955.6,643.0 L955.9,641.3 L956.3,639.6 L956.7,637.9 L957.1,636.2 L957.4,634.4 L957.8,632.6 L958.2,630.8 L958.6,629.0 L959.0,627.1 L959.4,625.2 L959.8,623.3 L960.2,621.3 L960.6,619.3 L961.0,617.2 L961.4,615.1 L961.9,612.9 L962.3,610.7 L962.7,608.5 L963.2,606.2 L963.6,603.8 L964.1,601.4 L964.6,599.0 L965.1,596.5 L965.5,593.9 L966.1,591.4 L966.6,588.7 L967.1,586.0 L967.7,583.3 L968.2,580.5 L968.8,577.6 L969.4,574.8 L970.1,571.8 L970.7,568.8 L971.4,565.8 L972.1,562.7 L972.8,559.6 L973.5,556.4 L974.3,553.2 L975.1,549.9 L975.9,546.6 L976.8,543.2 L977.7,539.8 L978.6,536.3 L979.5,532.8 L980.5,529.3 L981.5,525.7 L982.6,522.0" stroke="#000" stroke-width="2" fill="none"/>
<circle cx="919.6" cy="773.6" r="4.6" fill="url(#gk)"/>
<circle cx="930.0" cy="743.7" r="4.6" fill="url(#gk)"/>
<circle cx="940.5" cy="714.5" r="4.6" fill="url(#gk)"/>
<circle cx="951.0" cy="662.6" r="4.6" fill="url(#gk)"/>
<circle cx="961.4" cy="618.2" r="4.6" fill="url(#gk)"/>
<circle cx="971.9" cy="558.8" r="4.6" fill="url(#gk)"/>
<circle cx="982.6" cy="522.0" r="4.6" fill="url(#gk)"/>
<path d="M919.6,500.0 L920.6,500.7 L921.6,501.3 L922.6,501.9 L923.5,502.3 L924.4,502.7 L925.3,503.0 L926.1,503.2 L926.9,503.3 L927.7,503.4 L928.4,503.4 L929.2,503.4 L929.9,503.3 L930.6,503.2 L931.2,503.1 L931.9,502.9 L932.5,502.7 L933.1,502.4 L933.7,502.2 L934.2,501.9 L934.8,501.6 L935.3,501.3 L935.9,501.0 L936.4,500.7 L936.9,500.4 L937.3,500.2 L937.8,499.9 L938.3,499.7 L938.7,499.5 L939.2,499.3 L939.6,499.2 L940.1,499.0 L940.5,499.0 L940.9,499.0 L941.3,499.0 L941.7,499.0 L942.2,499.1 L942.6,499.2 L943.0,499.3 L943.3,499.4 L943.7,499.6 L944.1,499.8 L944.5,500.0 L944.9,500.2 L945.3,500.4 L945.6,500.6 L946.0,500.9 L946.4,501.1 L946.7,501.4 L947.1,501.6 L947.5,501.9 L947.8,502.1 L948.2,502.4 L948.5,502.6 L948.9,502.9 L949.2,503.1 L949.6,503.3 L949.9,503.5 L950.3,503.6 L950.6,503.8 L951.0,503.9 L951.3,504.0 L951.7,504.1 L952.0,504.1 L952.4,504.2 L952.7,504.2 L953.1,504.2 L953.4,504.2 L953.8,504.2 L954.1,504.1 L954.5,504.1 L954.8,504.0 L955.2,503.9 L955.5,503.8 L955.9,503.8 L956.2,503.7 L956.5,503.6 L956.9,503.5 L957.2,503.4 L957.6,503.3 L957.9,503.2 L958.3,503.1 L958.6,503.0 L959.0,502.9 L959.3,502.8 L959.7,502.7 L960.0,502.7 L960.4,502.6 L960.7,502.6 L961.1,502.6 L961.4,502.5 L961.8,502.6 L962.1,502.6 L962.5,502.6 L962.8,502.7 L963.2,502.7 L963.5,502.8 L963.9,502.9 L964.2,503.0 L964.6,503.2 L964.9,503.3 L965.3,503.4 L965.6,503.6 L966.0,503.8 L966.3,503.9 L966.7,504.1 L967.0,504.3 L967.4,504.5 L967.7,504.7 L968.1,504.9 L968.4,505.2 L968.8,505.4 L969.1,505.6 L969.5,505.8 L969.8,506.1 L970.2,506.3 L970.5,506.6 L970.9,506.8 L971.2,507.1 L971.6,507.3 L971.9,507.6 L972.3,507.8 L972.6,508.1 L973.0,508.3 L973.4,508.6 L973.7,508.8 L974.1,509.1 L974.4,509.3 L974.8,509.6 L975.2,509.8 L975.6,510.0 L976.0,510.3 L976.4,510.5 L976.8,510.7 L977.2,511.0 L977.6,511.2 L978.0,511.4 L978.4,511.6 L978.9,511.8 L979.3,512.0 L979.8,512.2 L980.3,512.4 L980.8,512.6 L981.3,512.8 L981.8,513.0 L982.3,513.1 L982.9,513.3 L983.4,513.4 L984.0,513.6 L984.6,513.7 L985.2,513.8 L985.9,514.0 L986.5,514.1 L987.2,514.2 L987.9,514.3 L988.6,514.4 L989.4,514.5 L990.1,514.6 L991.0,514.7 L991.8,514.8 L992.7,514.9 L993.6,515.0 L994.6,515.1 L995.6,515.2 L996.7,515.3 L997.8,515.5 L999.0,515.6 L1000.2,515.7 L1001.5,515.9 L1002.9,516.1 L1004.3,516.3 L1005.7,516.5 L1007.3,516.7 L1008.9,516.9 L1010.6,517.2 L1012.3,517.4 L1014.1,517.7 L1016.0,518.1 L1018.0,518.4 L1020.1,518.8 L1022.2,519.1 L1024.5,519.6 L1026.8,520.0 L1029.2,520.5 L1031.7,521.0 L1034.3,521.5 L1037.0,522.1 L1039.7,522.6 L1042.6,523.2 L1045.5,523.9 L1048.4,524.5 L1051.5,525.2 L1054.6,525.9 L1057.9,526.6 L1061.1,527.4 L1064.5,528.2 L1067.9,529.0 L1071.4,529.8 L1075.0,530.7 L1078.7,531.5 L1082.4,532.4 L1086.1,533.4 L1090.0,534.3 L1093.9,535.3 L1097.9,536.3 L1101.9,537.3 L1106.0,538.4 L1110.1,539.4 L1114.4,540.5 L1118.6,541.6 L1123.0,542.8 L1127.3,543.9 L1131.8,545.1 L1136.3,546.3 L1140.9,547.6 L1145.7,548.9 L1150.5,550.3 L1155.4,551.8 L1160.5,553.3 L1165.7,554.8 L1171.0,556.5 L1176.5,558.3 L1182.1,560.1 L1188.0,562.1 L1194.0,564.2 L1200.2,566.4 L1206.6,568.7 L1213.2,571.2 L1220.0,573.8 L1227.1,576.5 L1234.4,579.4 L1242.0,582.4 L1249.8,585.6 L1257.9,589.0 L1266.2,592.6 L1274.9,596.4 L1283.9,600.3 L1293.1,604.5 L1302.7,608.8 L1312.6,613.4 L1322.9,618.2" stroke="#f00" stroke-width="2" fill="none"/>
<circle cx="919.6" cy="500.0" r="4.6" fill="url(#gr)"/>
<circle cx="930.0" cy="507.6" r="4.6" fill="url(#gr)"/>
<circle cx="940.5" cy="493.1" r="4.6" fill="url(#gr)"/>
<circle cx="951.0" cy="507.6" r="4.6" fill="url(#gr)"/>
<circle cx="961.4" cy="500.0" r="4.6" fill="url(#gr)"/>
<circle cx="971.9" cy="507.6" r="4.6" fill="url(#gr)"/>
<circle cx="982.6" cy="515.1" r="4.6" fill="url(#gr)"/>
<circle cx="1009.1" cy="515.1" r="4.6" fill="url(#gr)"/>
<circle cx="1114.5" cy="539.4" r="4.6" fill="url(#gr)"/>
<circle cx="1218.6" cy="569.1" r="4.6" fill="url(#gr)"/>
<circle cx="1322.9" cy="618.2" r="4.6" fill="url(#gr)"/>
<path d="M919.6,485.6 L920.6,486.3 L921.6,486.9 L922.6,487.4 L923.5,487.9 L924.4,488.3 L925.3,488.7 L926.1,489.0 L926.9,489.3 L927.7,489.5 L928.4,489.7 L929.2,489.8 L929.9,489.9 L930.6,490.0 L931.2,490.0 L931.9,490.1 L932.5,490.1 L933.1,490.1 L933.7,490.0 L934.2,490.0 L934.8,489.9 L935.3,489.9 L935.9,489.8 L936.4,489.8 L936.9,489.7 L937.3,489.7 L937.8,489.6 L938.3,489.6 L938.7,489.6 L939.2,489.7 L939.6,489.7 L940.1,489.8 L940.5,489.9 L940.9,490.0 L941.3,490.1 L941.7,490.3 L942.2,490.5 L942.6,490.7 L943.0,490.9 L943.3,491.1 L943.7,491.4 L944.1,491.6 L944.5,491.9 L944.9,492.1 L945.3,492.4 L945.6,492.7 L946.0,493.0 L946.4,493.3 L946.7,493.5 L947.1,493.8 L947.5,494.1 L947.8,494.3 L948.2,494.6 L948.5,494.8 L948.9,495.1 L949.2,495.3 L949.6,495.5 L949.9,495.7 L950.3,495.9 L950.6,496.0 L951.0,496.1 L951.3,496.2 L951.7,496.3 L952.0,496.4 L952.4,496.4 L952.7,496.5 L953.1,496.5 L953.4,496.5 L953.8,496.4 L954.1,496.4 L954.5,496.4 L954.8,496.3 L955.2,496.2 L955.5,496.2 L955.9,496.1 L956.2,496.0 L956.5,495.9 L956.9,495.8 L957.2,495.7 L957.6,495.6 L957.9,495.5 L958.3,495.4 L958.6,495.4 L959.0,495.3 L959.3,495.2 L959.7,495.1 L960.0,495.1 L960.4,495.0 L960.7,495.0 L961.1,495.0 L961.4,495.0 L961.8,495.0 L962.1,495.0 L962.5,495.0 L962.8,495.1 L963.2,495.2 L963.5,495.2 L963.9,495.3 L964.2,495.4 L964.6,495.5 L964.9,495.7 L965.3,495.8 L965.6,495.9 L966.0,496.1 L966.3,496.3 L966.7,496.4 L967.0,496.6 L967.4,496.8 L967.7,497.0 L968.1,497.2 L968.4,497.4 L968.8,497.6 L969.1,497.9 L969.5,498.1 L969.8,498.3 L970.2,498.5 L970.5,498.8 L970.9,499.0 L971.2,499.3 L971.6,499.5 L971.9,499.7 L972.3,500.0 L972.6,500.2 L973.0,500.5 L973.4,500.7 L973.7,500.9 L974.1,501.2 L974.4,501.4 L974.8,501.6 L975.2,501.9 L975.6,502.1 L976.0,502.3 L976.4,502.5 L976.8,502.7 L977.2,502.9 L977.6,503.1 L978.0,503.3 L978.4,503.5 L978.9,503.6 L979.3,503.8 L979.8,504.0 L980.3,504.1 L980.8,504.2 L981.3,504.3 L981.8,504.4 L982.3,504.5 L982.9,504.6 L983.4,504.6 L984.0,504.7 L984.6,504.7 L985.2,504.7 L985.9,504.7 L986.5,504.7 L987.2,504.7 L987.9,504.7 L988.6,504.6 L989.4,504.6 L990.1,504.5 L991.0,504.4 L991.8,504.4 L992.7,504.3 L993.6,504.3 L994.6,504.2 L995.6,504.2 L996.7,504.2 L997.8,504.2 L999.0,504.2 L1000.2,504.2 L1001.5,504.2 L1002.9,504.3 L1004.3,504.4 L1005.7,504.5 L1007.3,504.6 L1008.9,504.8 L1010.6,505.0 L1012.3,505.2 L1014.1,505.5 L1016.0,505.8 L1018.0,506.1 L1020.1,506.5 L1022.2,507.0 L1024.5,507.4 L1026.8,507.9 L1029.2,508.5 L1031.7,509.1 L1034.3,509.8 L1037.0,510.5 L1039.7,511.2 L1042.6,512.0 L1045.5,512.8 L1048.4,513.6 L1051.5,514.5 L1054.6,515.4 L1057.9,516.3 L1061.1,517.3 L1064.5,518.3 L1067.9,519.3 L1071.4,520.4 L1075.0,521.5 L1078.7,522.6 L1082.4,523.7 L1086.1,524.9 L1090.0,526.1 L1093.9,527.3 L1097.9,528.5 L1101.9,529.8 L1106.0,531.0 L1110.1,532.3 L1114.4,533.6 L1118.6,534.9 L1123.0,536.2 L1127.3,537.6 L1131.8,538.9 L1136.3,540.3 L1140.9,541.7 L1145.7,543.2 L1150.5,544.7 L1155.4,546.2 L1160.5,547.8 L1165.7,549.5 L1171.0,551.2 L1176.5,553.0 L1182.1,554.9 L1188.0,556.9 L1194.0,559.0 L1200.2,561.2 L1206.6,563.5 L1213.2,565.9 L1220.0,568.4 L1227.1,571.1 L1234.4,573.9 L1242.0,576.8 L1249.8,579.9 L1257.9,583.1 L1266.2,586.5 L1274.9,590.1 L1283.9,593.8 L1293.1,597.7 L1302.7,601.8 L1312.6,606.1 L1322.9,610.6" stroke="#0f0" stroke-width="2" fill="none"/>
<circle cx="919.6" cy="485.6" r="4.6" fill="url(#gg)"/>
<circle cx="930.0" cy="492.6" r="4.6" fill="url(#gg)"/>
<circle cx="940.5" cy="485.6" r="4.6" fill="url(#gg)"/>
<circle cx="951.0" cy="499.7" r="4.6" fill="url(#gg)"/>
<circle cx="961.4" cy="492.6" r="4.6" fill="url(#gg)"/>
<circle cx="971.9" cy="499.7" r="4.6" fill="url(#gg)"/>
<circle cx="982.6" cy="507.2" r="4.6" fill="url(#gg)"/>
<circle cx="1009.1" cy="500.0" r="4.6" fill="url(#gg)"/>
<circle cx="1114.5" cy="534.4" r="4.6" fill="url(#gg)"/>
<circle cx="1218.6" cy="564.7" r="4.6" fill="url(#gg)"/>
<circle cx="1322.9" cy="610.6" r="4.6" fill="url(#gg)"/>
<path d="M919.6,477.4 L920.6,477.4 L921.6,477.4 L922.6,477.4 L923.5,477.4 L924.4,477.4 L925.3,477.4 L926.1,477.4 L926.9,477.4 L927.7,477.4 L928.4,477.4 L929.2,477.4 L929.9,477.4 L930.6,477.4 L931.2,477.4 L931.9,477.4 L932.5,477.4 L933.1,477.4 L933.7,477.4 L934.2,477.4 L934.8,477.4 L935.3,477.4 L935.9,477.4 L936.4,477.4 L936.9,477.4 L937.3,477.4 L937.8,477.4 L938.3,477.4 L938.7,477.4 L939.2,477.4 L939.6,477.4 L940.1,477.4 L940.5,477.4 L940.9,477.4 L941.3,477.4 L941.7,477.4 L942.2,477.4 L942.6,477.4 L943.0,477.5 L943.3,477.5 L943.7,477.5 L944.1,477.5 L944.5,477.5 L944.9,477.5 L945.3,477.6 L945.6,477.6 L946.0,477.6 L946.4,477.7 L946.7,477.7 L947.1,477.8 L947.5,477.8 L947.8,477.9 L948.2,477.9 L948.5,478.0 L948.9,478.1 L949.2,478.2 L949.6,478.3 L949.9,478.4 L950.3,478.5 L950.6,478.6 L951.0,478.7 L951.3,478.8 L951.7,479.0 L952.0,479.1 L952.4,479.3 L952.7,479.4 L953.1,479.6 L953.4,479.8 L953.8,479.9 L954.1,480.1 L954.5,480.3 L954.8,480.5 L955.2,480.7 L955.5,480.9 L955.9,481.1 L956.2,481.3 L956.5,481.5 L956.9,481.6 L957.2,481.8 L957.6,482.0 L957.9,482.2 L958.3,482.4 L958.6,482.6 L959.0,482.7 L959.3,482.9 L959.7,483.1 L960.0,483.2 L960.4,483.4 L960.7,483.5 L961.1,483.7 L961.4,483.8 L961.8,483.9 L962.1,484.1 L962.5,484.2 L962.8,484.3 L963.2,484.4 L963.5,484.4 L963.9,484.5 L964.2,484.6 L964.6,484.7 L964.9,484.7 L965.3,484.8 L965.6,484.8 L966.0,484.9 L966.3,484.9 L966.7,484.9 L967.0,485.0 L967.4,485.0 L967.7,485.0 L968.1,485.0 L968.4,485.0 L968.8,485.1 L969.1,485.1 L969.5,485.1 L969.8,485.1 L970.2,485.1 L970.5,485.1 L970.9,485.1 L971.2,485.1 L971.6,485.1 L971.9,485.1 L972.3,485.1 L972.6,485.1 L973.0,485.1 L973.4,485.1 L973.7,485.1 L974.1,485.1 L974.4,485.1 L974.8,485.1 L975.2,485.1 L975.6,485.1 L976.0,485.1 L976.4,485.2 L976.8,485.2 L977.2,485.2 L977.6,485.2 L978.0,485.3 L978.4,485.3 L978.9,485.3 L979.3,485.4 L979.8,485.4 L980.3,485.5 L980.8,485.6 L981.3,485.6 L981.8,485.7 L982.3,485.8 L982.9,485.9 L983.4,486.0 L984.0,486.1 L984.6,486.2 L985.2,486.3 L985.9,486.4 L986.5,486.5 L987.2,486.7 L987.9,486.8 L988.6,487.0 L989.4,487.2 L990.1,487.3 L991.0,487.5 L991.8,487.7 L992.7,487.9 L993.6,488.1 L994.6,488.4 L995.6,488.6 L996.7,488.9 L997.8,489.1 L999.0,489.4 L1000.2,489.7 L1001.5,490.0 L1002.9,490.3 L1004.3,490.7 L1005.7,491.0 L1007.3,491.4 L1008.9,491.7 L1010.6,492.1 L1012.3,492.5 L1014.1,493.0 L1016.0,493.4 L1018.0,493.8 L1020.1,494.3 L1022.2,494.8 L1024.5,495.3 L1026.8,495.8 L1029.2,496.4 L1031.7,496.9 L1034.3,497.5 L1037.0,498.1 L1039.7,498.7 L1042.6,499.3 L1045.5,500.0 L1048.4,500.7 L1051.5,501.4 L1054.6,502.1 L1057.9,502.9 L1061.1,503.7 L1064.5,504.5 L1067.9,505.3 L1071.4,506.2 L1075.0,507.1 L1078.7,508.0 L1082.4,508.9 L1086.1,509.9 L1090.0,510.9 L1093.9,511.9 L1097.9,513.0 L1101.9,514.1 L1106.0,515.3 L1110.1,516.4 L1114.4,517.6 L1118.6,518.9 L1123.0,520.1 L1127.3,521.4 L1131.8,522.8 L1136.3,524.2 L1140.9,525.6 L1145.7,527.1 L1150.5,528.7 L1155.4,530.3 L1160.5,532.0 L1165.7,533.8 L1171.0,535.6 L1176.5,537.5 L1182.1,539.5 L1188.0,541.6 L1194.0,543.8 L1200.2,546.1 L1206.6,548.5 L1213.2,551.0 L1220.0,553.7 L1227.1,556.4 L1234.4,559.3 L1242.0,562.3 L1249.8,565.4 L1257.9,568.7 L1266.2,572.1 L1274.9,575.6 L1283.9,579.3 L1293.1,583.2 L1302.7,587.2 L1312.6,591.3 L1322.9,595.7" stroke="#00f" stroke-width="2" fill="none"/>
<circle cx="919.6" cy="477.4" r="4.6" fill="url(#gb)"/>
<circle cx="930.0" cy="477.4" r="4.6" fill="url(#gb)"/>
<circle cx="940.5" cy="477.4" r="4.6" fill="url(#gb)"/>
<circle cx="951.0" cy="477.4" r="4.6" fill="url(#gb)"/>
<circle cx="961.4" cy="485.1" r="4.6" fill="url(#gb)"/>
<circle cx="971.9" cy="485.1" r="4.6" fill="url(#gb)"/>
<circle cx="982.6" cy="485.1" r="4.6" fill="url(#gb)"/>
<circle cx="1009.1" cy="492.2" r="4.6" fill="url(#gb)"/>
<circle cx="1114.5" cy="514.7" r="4.6" fill="url(#gb)"/>
<circle cx="1218.6" cy="551.4" r="4.6" fill="url(#gb)"/>
<circle cx="1322.9" cy="595.7" r="4.6" fill="url(#gb)"/>
<path d="M1016.6,667.0h78.7" stroke="#000" stroke-width="2"/>
<circle cx="1055.9" cy="667.0" r="4.6" fill="url(#gk)"/>
<text x="1105.0" y="679.3" font-size="35" font-family="Liberation Sans, sans-serif"><tspan font-style="italic">j</tspan><tspan font-size="20" dy="11.5" dx="0.3">c1</tspan></text>
<path d="M1145.1,667.0h78.7" stroke="#f00" stroke-width="2"/>
<circle cx="1184.4" cy="667.0" r="4.6" fill="url(#gr)"/>
<text x="1233.5" y="679.3" font-size="35" font-family="Liberation Sans, sans-serif"><tspan font-style="italic">j</tspan><tspan font-size="20" dy="11.5" dx="0.3">c2</tspan></text>
<path d="M1016.6,720.7h78.7" stroke="#0f0" stroke-width="2"/>
<circle cx="1055.9" cy="720.7" r="4.6" fill="url(#gg)"/>
<text x="1105.0" y="733.0" font-size="35" font-family="Liberation Sans, sans-serif"><tspan font-style="italic">j</tspan><tspan font-size="20" dy="11.5" dx="0.3">c3</tspan></text>
<path d="M1145.1,720.7h78.7" stroke="#00f" stroke-width="2"/>
<circle cx="1184.4" cy="720.7" r="4.6" fill="url(#gb)"/>
<text x="1233.5" y="733.0" font-size="35" font-family="Liberation Sans, sans-serif"><tspan font-style="italic">j</tspan><tspan font-size="20" dy="11.5" dx="0.3">c4</tspan></text>
</svg></body></html>
